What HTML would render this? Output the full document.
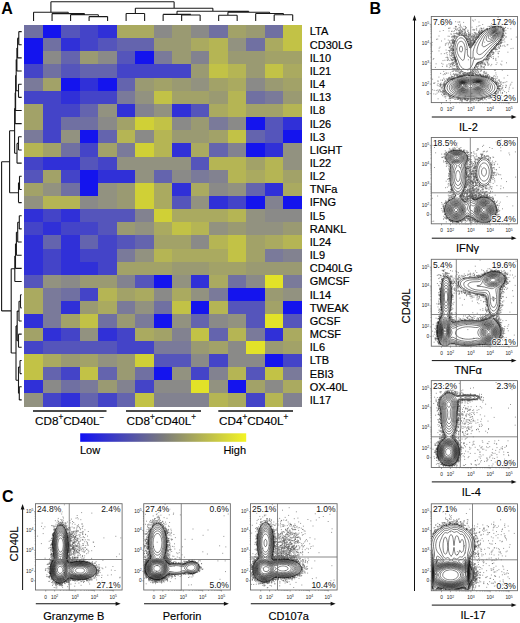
<!DOCTYPE html><html><head><meta charset="utf-8"><style>html,body{margin:0;padding:0;background:#fff;width:520px;height:623px;overflow:hidden}</style></head><body><svg width="520" height="623" viewBox="0 0 520 623" style="position:absolute;left:0;top:0">
<rect width="520" height="623" fill="#fff"/>
<g shape-rendering="crispEdges">
<rect x="24.30" y="25.00" width="18.81" height="13.46" fill="#7070a2"/>
<rect x="42.81" y="25.00" width="18.81" height="13.46" fill="#1414ee"/>
<rect x="61.32" y="25.00" width="18.81" height="13.46" fill="#5555bb"/>
<rect x="79.83" y="25.00" width="18.81" height="13.46" fill="#4444c8"/>
<rect x="98.34" y="25.00" width="18.81" height="13.46" fill="#3030d8"/>
<rect x="116.85" y="25.00" width="18.81" height="13.46" fill="#aaaa60"/>
<rect x="135.36" y="25.00" width="18.81" height="13.46" fill="#aaaa60"/>
<rect x="153.87" y="25.00" width="18.81" height="13.46" fill="#8a8a88"/>
<rect x="172.38" y="25.00" width="18.81" height="13.46" fill="#9a9a72"/>
<rect x="190.89" y="25.00" width="18.81" height="13.46" fill="#8a8a88"/>
<rect x="209.40" y="25.00" width="18.81" height="13.46" fill="#7070a2"/>
<rect x="227.91" y="25.00" width="18.81" height="13.46" fill="#a2a268"/>
<rect x="246.42" y="25.00" width="18.81" height="13.46" fill="#9a9a72"/>
<rect x="264.93" y="25.00" width="18.81" height="13.46" fill="#7070a2"/>
<rect x="283.44" y="25.00" width="18.81" height="13.46" fill="#c2c246"/>
<rect x="24.30" y="38.16" width="18.81" height="13.46" fill="#1414ee"/>
<rect x="42.81" y="38.16" width="18.81" height="13.46" fill="#7070a2"/>
<rect x="61.32" y="38.16" width="18.81" height="13.46" fill="#3030d8"/>
<rect x="79.83" y="38.16" width="18.81" height="13.46" fill="#4444c8"/>
<rect x="98.34" y="38.16" width="18.81" height="13.46" fill="#5555bb"/>
<rect x="116.85" y="38.16" width="18.81" height="13.46" fill="#6464ae"/>
<rect x="135.36" y="38.16" width="18.81" height="13.46" fill="#6464ae"/>
<rect x="153.87" y="38.16" width="18.81" height="13.46" fill="#9a9a72"/>
<rect x="172.38" y="38.16" width="18.81" height="13.46" fill="#9a9a72"/>
<rect x="190.89" y="38.16" width="18.81" height="13.46" fill="#aaaa60"/>
<rect x="209.40" y="38.16" width="18.81" height="13.46" fill="#b5b554"/>
<rect x="227.91" y="38.16" width="18.81" height="13.46" fill="#929280"/>
<rect x="246.42" y="38.16" width="18.81" height="13.46" fill="#7070a2"/>
<rect x="264.93" y="38.16" width="18.81" height="13.46" fill="#aaaa60"/>
<rect x="283.44" y="38.16" width="18.81" height="13.46" fill="#c2c246"/>
<rect x="24.30" y="51.31" width="18.81" height="13.46" fill="#1414ee"/>
<rect x="42.81" y="51.31" width="18.81" height="13.46" fill="#8a8a88"/>
<rect x="61.32" y="51.31" width="18.81" height="13.46" fill="#6464ae"/>
<rect x="79.83" y="51.31" width="18.81" height="13.46" fill="#9a9a72"/>
<rect x="98.34" y="51.31" width="18.81" height="13.46" fill="#8a8a88"/>
<rect x="116.85" y="51.31" width="18.81" height="13.46" fill="#5555bb"/>
<rect x="135.36" y="51.31" width="18.81" height="13.46" fill="#1414ee"/>
<rect x="153.87" y="51.31" width="18.81" height="13.46" fill="#7a7a9a"/>
<rect x="172.38" y="51.31" width="18.81" height="13.46" fill="#9a9a72"/>
<rect x="190.89" y="51.31" width="18.81" height="13.46" fill="#828290"/>
<rect x="209.40" y="51.31" width="18.81" height="13.46" fill="#b5b554"/>
<rect x="227.91" y="51.31" width="18.81" height="13.46" fill="#9a9a72"/>
<rect x="246.42" y="51.31" width="18.81" height="13.46" fill="#9a9a72"/>
<rect x="264.93" y="51.31" width="18.81" height="13.46" fill="#a2a268"/>
<rect x="283.44" y="51.31" width="18.81" height="13.46" fill="#a2a268"/>
<rect x="24.30" y="64.47" width="18.81" height="13.46" fill="#4444c8"/>
<rect x="42.81" y="64.47" width="18.81" height="13.46" fill="#7070a2"/>
<rect x="61.32" y="64.47" width="18.81" height="13.46" fill="#5555bb"/>
<rect x="79.83" y="64.47" width="18.81" height="13.46" fill="#6464ae"/>
<rect x="98.34" y="64.47" width="18.81" height="13.46" fill="#6464ae"/>
<rect x="116.85" y="64.47" width="18.81" height="13.46" fill="#4444c8"/>
<rect x="135.36" y="64.47" width="18.81" height="13.46" fill="#4444c8"/>
<rect x="153.87" y="64.47" width="18.81" height="13.46" fill="#4444c8"/>
<rect x="172.38" y="64.47" width="18.81" height="13.46" fill="#4444c8"/>
<rect x="190.89" y="64.47" width="18.81" height="13.46" fill="#9a9a72"/>
<rect x="209.40" y="64.47" width="18.81" height="13.46" fill="#c2c246"/>
<rect x="227.91" y="64.47" width="18.81" height="13.46" fill="#b5b554"/>
<rect x="246.42" y="64.47" width="18.81" height="13.46" fill="#9a9a72"/>
<rect x="264.93" y="64.47" width="18.81" height="13.46" fill="#c2c246"/>
<rect x="283.44" y="64.47" width="18.81" height="13.46" fill="#aaaa60"/>
<rect x="24.30" y="77.62" width="18.81" height="13.46" fill="#7a7a9a"/>
<rect x="42.81" y="77.62" width="18.81" height="13.46" fill="#a2a268"/>
<rect x="61.32" y="77.62" width="18.81" height="13.46" fill="#1414ee"/>
<rect x="79.83" y="77.62" width="18.81" height="13.46" fill="#3030d8"/>
<rect x="98.34" y="77.62" width="18.81" height="13.46" fill="#1414ee"/>
<rect x="116.85" y="77.62" width="18.81" height="13.46" fill="#6464ae"/>
<rect x="135.36" y="77.62" width="18.81" height="13.46" fill="#9a9a72"/>
<rect x="153.87" y="77.62" width="18.81" height="13.46" fill="#a2a268"/>
<rect x="172.38" y="77.62" width="18.81" height="13.46" fill="#9a9a72"/>
<rect x="190.89" y="77.62" width="18.81" height="13.46" fill="#929280"/>
<rect x="209.40" y="77.62" width="18.81" height="13.46" fill="#a2a268"/>
<rect x="227.91" y="77.62" width="18.81" height="13.46" fill="#aaaa60"/>
<rect x="246.42" y="77.62" width="18.81" height="13.46" fill="#8a8a88"/>
<rect x="264.93" y="77.62" width="18.81" height="13.46" fill="#9a9a72"/>
<rect x="283.44" y="77.62" width="18.81" height="13.46" fill="#a2a268"/>
<rect x="24.30" y="90.77" width="18.81" height="13.46" fill="#4444c8"/>
<rect x="42.81" y="90.77" width="18.81" height="13.46" fill="#4444c8"/>
<rect x="61.32" y="90.77" width="18.81" height="13.46" fill="#3030d8"/>
<rect x="79.83" y="90.77" width="18.81" height="13.46" fill="#4444c8"/>
<rect x="98.34" y="90.77" width="18.81" height="13.46" fill="#4444c8"/>
<rect x="116.85" y="90.77" width="18.81" height="13.46" fill="#7a7a9a"/>
<rect x="135.36" y="90.77" width="18.81" height="13.46" fill="#929280"/>
<rect x="153.87" y="90.77" width="18.81" height="13.46" fill="#c2c246"/>
<rect x="172.38" y="90.77" width="18.81" height="13.46" fill="#a2a268"/>
<rect x="190.89" y="90.77" width="18.81" height="13.46" fill="#a2a268"/>
<rect x="209.40" y="90.77" width="18.81" height="13.46" fill="#9a9a72"/>
<rect x="227.91" y="90.77" width="18.81" height="13.46" fill="#b5b554"/>
<rect x="246.42" y="90.77" width="18.81" height="13.46" fill="#7070a2"/>
<rect x="264.93" y="90.77" width="18.81" height="13.46" fill="#7a7a9a"/>
<rect x="283.44" y="90.77" width="18.81" height="13.46" fill="#9a9a72"/>
<rect x="24.30" y="103.93" width="18.81" height="13.46" fill="#a2a268"/>
<rect x="42.81" y="103.93" width="18.81" height="13.46" fill="#4444c8"/>
<rect x="61.32" y="103.93" width="18.81" height="13.46" fill="#4444c8"/>
<rect x="79.83" y="103.93" width="18.81" height="13.46" fill="#6464ae"/>
<rect x="98.34" y="103.93" width="18.81" height="13.46" fill="#929280"/>
<rect x="116.85" y="103.93" width="18.81" height="13.46" fill="#3030d8"/>
<rect x="135.36" y="103.93" width="18.81" height="13.46" fill="#828290"/>
<rect x="153.87" y="103.93" width="18.81" height="13.46" fill="#929280"/>
<rect x="172.38" y="103.93" width="18.81" height="13.46" fill="#3030d8"/>
<rect x="190.89" y="103.93" width="18.81" height="13.46" fill="#5555bb"/>
<rect x="209.40" y="103.93" width="18.81" height="13.46" fill="#aaaa60"/>
<rect x="227.91" y="103.93" width="18.81" height="13.46" fill="#b5b554"/>
<rect x="246.42" y="103.93" width="18.81" height="13.46" fill="#a2a268"/>
<rect x="264.93" y="103.93" width="18.81" height="13.46" fill="#a2a268"/>
<rect x="283.44" y="103.93" width="18.81" height="13.46" fill="#b5b554"/>
<rect x="24.30" y="117.08" width="18.81" height="13.46" fill="#a2a268"/>
<rect x="42.81" y="117.08" width="18.81" height="13.46" fill="#4444c8"/>
<rect x="61.32" y="117.08" width="18.81" height="13.46" fill="#7070a2"/>
<rect x="79.83" y="117.08" width="18.81" height="13.46" fill="#7070a2"/>
<rect x="98.34" y="117.08" width="18.81" height="13.46" fill="#8a8a88"/>
<rect x="116.85" y="117.08" width="18.81" height="13.46" fill="#a2a268"/>
<rect x="135.36" y="117.08" width="18.81" height="13.46" fill="#d0d036"/>
<rect x="153.87" y="117.08" width="18.81" height="13.46" fill="#c2c246"/>
<rect x="172.38" y="117.08" width="18.81" height="13.46" fill="#8a8a88"/>
<rect x="190.89" y="117.08" width="18.81" height="13.46" fill="#9a9a72"/>
<rect x="209.40" y="117.08" width="18.81" height="13.46" fill="#7a7a9a"/>
<rect x="227.91" y="117.08" width="18.81" height="13.46" fill="#8a8a88"/>
<rect x="246.42" y="117.08" width="18.81" height="13.46" fill="#1414ee"/>
<rect x="264.93" y="117.08" width="18.81" height="13.46" fill="#5555bb"/>
<rect x="283.44" y="117.08" width="18.81" height="13.46" fill="#3030d8"/>
<rect x="24.30" y="130.24" width="18.81" height="13.46" fill="#7a7a9a"/>
<rect x="42.81" y="130.24" width="18.81" height="13.46" fill="#4444c8"/>
<rect x="61.32" y="130.24" width="18.81" height="13.46" fill="#929280"/>
<rect x="79.83" y="130.24" width="18.81" height="13.46" fill="#1414ee"/>
<rect x="98.34" y="130.24" width="18.81" height="13.46" fill="#6464ae"/>
<rect x="116.85" y="130.24" width="18.81" height="13.46" fill="#b5b554"/>
<rect x="135.36" y="130.24" width="18.81" height="13.46" fill="#8a8a88"/>
<rect x="153.87" y="130.24" width="18.81" height="13.46" fill="#b5b554"/>
<rect x="172.38" y="130.24" width="18.81" height="13.46" fill="#9a9a72"/>
<rect x="190.89" y="130.24" width="18.81" height="13.46" fill="#9a9a72"/>
<rect x="209.40" y="130.24" width="18.81" height="13.46" fill="#a2a268"/>
<rect x="227.91" y="130.24" width="18.81" height="13.46" fill="#c2c246"/>
<rect x="246.42" y="130.24" width="18.81" height="13.46" fill="#6464ae"/>
<rect x="264.93" y="130.24" width="18.81" height="13.46" fill="#5555bb"/>
<rect x="283.44" y="130.24" width="18.81" height="13.46" fill="#1414ee"/>
<rect x="24.30" y="143.39" width="18.81" height="13.46" fill="#b5b554"/>
<rect x="42.81" y="143.39" width="18.81" height="13.46" fill="#a2a268"/>
<rect x="61.32" y="143.39" width="18.81" height="13.46" fill="#7070a2"/>
<rect x="79.83" y="143.39" width="18.81" height="13.46" fill="#4444c8"/>
<rect x="98.34" y="143.39" width="18.81" height="13.46" fill="#a2a268"/>
<rect x="116.85" y="143.39" width="18.81" height="13.46" fill="#7a7a9a"/>
<rect x="135.36" y="143.39" width="18.81" height="13.46" fill="#d0d036"/>
<rect x="153.87" y="143.39" width="18.81" height="13.46" fill="#b5b554"/>
<rect x="172.38" y="143.39" width="18.81" height="13.46" fill="#3030d8"/>
<rect x="190.89" y="143.39" width="18.81" height="13.46" fill="#aaaa60"/>
<rect x="209.40" y="143.39" width="18.81" height="13.46" fill="#6464ae"/>
<rect x="227.91" y="143.39" width="18.81" height="13.46" fill="#828290"/>
<rect x="246.42" y="143.39" width="18.81" height="13.46" fill="#1414ee"/>
<rect x="264.93" y="143.39" width="18.81" height="13.46" fill="#3030d8"/>
<rect x="283.44" y="143.39" width="18.81" height="13.46" fill="#929280"/>
<rect x="24.30" y="156.55" width="18.81" height="13.46" fill="#4444c8"/>
<rect x="42.81" y="156.55" width="18.81" height="13.46" fill="#3030d8"/>
<rect x="61.32" y="156.55" width="18.81" height="13.46" fill="#3030d8"/>
<rect x="79.83" y="156.55" width="18.81" height="13.46" fill="#5555bb"/>
<rect x="98.34" y="156.55" width="18.81" height="13.46" fill="#4444c8"/>
<rect x="116.85" y="156.55" width="18.81" height="13.46" fill="#929280"/>
<rect x="135.36" y="156.55" width="18.81" height="13.46" fill="#929280"/>
<rect x="153.87" y="156.55" width="18.81" height="13.46" fill="#929280"/>
<rect x="172.38" y="156.55" width="18.81" height="13.46" fill="#929280"/>
<rect x="190.89" y="156.55" width="18.81" height="13.46" fill="#5555bb"/>
<rect x="209.40" y="156.55" width="18.81" height="13.46" fill="#b5b554"/>
<rect x="227.91" y="156.55" width="18.81" height="13.46" fill="#b5b554"/>
<rect x="246.42" y="156.55" width="18.81" height="13.46" fill="#a2a268"/>
<rect x="264.93" y="156.55" width="18.81" height="13.46" fill="#b5b554"/>
<rect x="283.44" y="156.55" width="18.81" height="13.46" fill="#929280"/>
<rect x="24.30" y="169.70" width="18.81" height="13.46" fill="#5555bb"/>
<rect x="42.81" y="169.70" width="18.81" height="13.46" fill="#a2a268"/>
<rect x="61.32" y="169.70" width="18.81" height="13.46" fill="#4444c8"/>
<rect x="79.83" y="169.70" width="18.81" height="13.46" fill="#1414ee"/>
<rect x="98.34" y="169.70" width="18.81" height="13.46" fill="#3030d8"/>
<rect x="116.85" y="169.70" width="18.81" height="13.46" fill="#3030d8"/>
<rect x="135.36" y="169.70" width="18.81" height="13.46" fill="#929280"/>
<rect x="153.87" y="169.70" width="18.81" height="13.46" fill="#6464ae"/>
<rect x="172.38" y="169.70" width="18.81" height="13.46" fill="#8a8a88"/>
<rect x="190.89" y="169.70" width="18.81" height="13.46" fill="#7a7a9a"/>
<rect x="209.40" y="169.70" width="18.81" height="13.46" fill="#828290"/>
<rect x="227.91" y="169.70" width="18.81" height="13.46" fill="#b5b554"/>
<rect x="246.42" y="169.70" width="18.81" height="13.46" fill="#aaaa60"/>
<rect x="264.93" y="169.70" width="18.81" height="13.46" fill="#b5b554"/>
<rect x="283.44" y="169.70" width="18.81" height="13.46" fill="#a2a268"/>
<rect x="24.30" y="182.86" width="18.81" height="13.46" fill="#a2a268"/>
<rect x="42.81" y="182.86" width="18.81" height="13.46" fill="#929280"/>
<rect x="61.32" y="182.86" width="18.81" height="13.46" fill="#7070a2"/>
<rect x="79.83" y="182.86" width="18.81" height="13.46" fill="#1414ee"/>
<rect x="98.34" y="182.86" width="18.81" height="13.46" fill="#929280"/>
<rect x="116.85" y="182.86" width="18.81" height="13.46" fill="#9a9a72"/>
<rect x="135.36" y="182.86" width="18.81" height="13.46" fill="#d0d036"/>
<rect x="153.87" y="182.86" width="18.81" height="13.46" fill="#aaaa60"/>
<rect x="172.38" y="182.86" width="18.81" height="13.46" fill="#3030d8"/>
<rect x="190.89" y="182.86" width="18.81" height="13.46" fill="#aaaa60"/>
<rect x="209.40" y="182.86" width="18.81" height="13.46" fill="#8a8a88"/>
<rect x="227.91" y="182.86" width="18.81" height="13.46" fill="#929280"/>
<rect x="246.42" y="182.86" width="18.81" height="13.46" fill="#6464ae"/>
<rect x="264.93" y="182.86" width="18.81" height="13.46" fill="#3030d8"/>
<rect x="283.44" y="182.86" width="18.81" height="13.46" fill="#aaaa60"/>
<rect x="24.30" y="196.01" width="18.81" height="13.46" fill="#929280"/>
<rect x="42.81" y="196.01" width="18.81" height="13.46" fill="#b5b554"/>
<rect x="61.32" y="196.01" width="18.81" height="13.46" fill="#b5b554"/>
<rect x="79.83" y="196.01" width="18.81" height="13.46" fill="#8a8a88"/>
<rect x="98.34" y="196.01" width="18.81" height="13.46" fill="#929280"/>
<rect x="116.85" y="196.01" width="18.81" height="13.46" fill="#9a9a72"/>
<rect x="135.36" y="196.01" width="18.81" height="13.46" fill="#d0d036"/>
<rect x="153.87" y="196.01" width="18.81" height="13.46" fill="#aaaa60"/>
<rect x="172.38" y="196.01" width="18.81" height="13.46" fill="#5555bb"/>
<rect x="190.89" y="196.01" width="18.81" height="13.46" fill="#929280"/>
<rect x="209.40" y="196.01" width="18.81" height="13.46" fill="#3030d8"/>
<rect x="227.91" y="196.01" width="18.81" height="13.46" fill="#4444c8"/>
<rect x="246.42" y="196.01" width="18.81" height="13.46" fill="#1414ee"/>
<rect x="264.93" y="196.01" width="18.81" height="13.46" fill="#828290"/>
<rect x="283.44" y="196.01" width="18.81" height="13.46" fill="#1414ee"/>
<rect x="24.30" y="209.17" width="18.81" height="13.46" fill="#3030d8"/>
<rect x="42.81" y="209.17" width="18.81" height="13.46" fill="#4444c8"/>
<rect x="61.32" y="209.17" width="18.81" height="13.46" fill="#3030d8"/>
<rect x="79.83" y="209.17" width="18.81" height="13.46" fill="#5555bb"/>
<rect x="98.34" y="209.17" width="18.81" height="13.46" fill="#5555bb"/>
<rect x="116.85" y="209.17" width="18.81" height="13.46" fill="#5555bb"/>
<rect x="135.36" y="209.17" width="18.81" height="13.46" fill="#828290"/>
<rect x="153.87" y="209.17" width="18.81" height="13.46" fill="#d0d036"/>
<rect x="172.38" y="209.17" width="18.81" height="13.46" fill="#aaaa60"/>
<rect x="190.89" y="209.17" width="18.81" height="13.46" fill="#aaaa60"/>
<rect x="209.40" y="209.17" width="18.81" height="13.46" fill="#aaaa60"/>
<rect x="227.91" y="209.17" width="18.81" height="13.46" fill="#b5b554"/>
<rect x="246.42" y="209.17" width="18.81" height="13.46" fill="#929280"/>
<rect x="264.93" y="209.17" width="18.81" height="13.46" fill="#8a8a88"/>
<rect x="283.44" y="209.17" width="18.81" height="13.46" fill="#8a8a88"/>
<rect x="24.30" y="222.32" width="18.81" height="13.46" fill="#4444c8"/>
<rect x="42.81" y="222.32" width="18.81" height="13.46" fill="#3030d8"/>
<rect x="61.32" y="222.32" width="18.81" height="13.46" fill="#4444c8"/>
<rect x="79.83" y="222.32" width="18.81" height="13.46" fill="#4444c8"/>
<rect x="98.34" y="222.32" width="18.81" height="13.46" fill="#5555bb"/>
<rect x="116.85" y="222.32" width="18.81" height="13.46" fill="#9a9a72"/>
<rect x="135.36" y="222.32" width="18.81" height="13.46" fill="#929280"/>
<rect x="153.87" y="222.32" width="18.81" height="13.46" fill="#aaaa60"/>
<rect x="172.38" y="222.32" width="18.81" height="13.46" fill="#c2c246"/>
<rect x="190.89" y="222.32" width="18.81" height="13.46" fill="#b5b554"/>
<rect x="209.40" y="222.32" width="18.81" height="13.46" fill="#929280"/>
<rect x="227.91" y="222.32" width="18.81" height="13.46" fill="#9a9a72"/>
<rect x="246.42" y="222.32" width="18.81" height="13.46" fill="#929280"/>
<rect x="264.93" y="222.32" width="18.81" height="13.46" fill="#929280"/>
<rect x="283.44" y="222.32" width="18.81" height="13.46" fill="#9a9a72"/>
<rect x="24.30" y="235.48" width="18.81" height="13.46" fill="#3030d8"/>
<rect x="42.81" y="235.48" width="18.81" height="13.46" fill="#6464ae"/>
<rect x="61.32" y="235.48" width="18.81" height="13.46" fill="#3030d8"/>
<rect x="79.83" y="235.48" width="18.81" height="13.46" fill="#6464ae"/>
<rect x="98.34" y="235.48" width="18.81" height="13.46" fill="#4444c8"/>
<rect x="116.85" y="235.48" width="18.81" height="13.46" fill="#5555bb"/>
<rect x="135.36" y="235.48" width="18.81" height="13.46" fill="#6464ae"/>
<rect x="153.87" y="235.48" width="18.81" height="13.46" fill="#a2a268"/>
<rect x="172.38" y="235.48" width="18.81" height="13.46" fill="#a2a268"/>
<rect x="190.89" y="235.48" width="18.81" height="13.46" fill="#8a8a88"/>
<rect x="209.40" y="235.48" width="18.81" height="13.46" fill="#b5b554"/>
<rect x="227.91" y="235.48" width="18.81" height="13.46" fill="#c2c246"/>
<rect x="246.42" y="235.48" width="18.81" height="13.46" fill="#a2a268"/>
<rect x="264.93" y="235.48" width="18.81" height="13.46" fill="#aaaa60"/>
<rect x="283.44" y="235.48" width="18.81" height="13.46" fill="#b5b554"/>
<rect x="24.30" y="248.63" width="18.81" height="13.46" fill="#3030d8"/>
<rect x="42.81" y="248.63" width="18.81" height="13.46" fill="#4444c8"/>
<rect x="61.32" y="248.63" width="18.81" height="13.46" fill="#3030d8"/>
<rect x="79.83" y="248.63" width="18.81" height="13.46" fill="#4444c8"/>
<rect x="98.34" y="248.63" width="18.81" height="13.46" fill="#4444c8"/>
<rect x="116.85" y="248.63" width="18.81" height="13.46" fill="#7a7a9a"/>
<rect x="135.36" y="248.63" width="18.81" height="13.46" fill="#929280"/>
<rect x="153.87" y="248.63" width="18.81" height="13.46" fill="#b5b554"/>
<rect x="172.38" y="248.63" width="18.81" height="13.46" fill="#aaaa60"/>
<rect x="190.89" y="248.63" width="18.81" height="13.46" fill="#aaaa60"/>
<rect x="209.40" y="248.63" width="18.81" height="13.46" fill="#aaaa60"/>
<rect x="227.91" y="248.63" width="18.81" height="13.46" fill="#c2c246"/>
<rect x="246.42" y="248.63" width="18.81" height="13.46" fill="#a2a268"/>
<rect x="264.93" y="248.63" width="18.81" height="13.46" fill="#7a7a9a"/>
<rect x="283.44" y="248.63" width="18.81" height="13.46" fill="#828290"/>
<rect x="24.30" y="261.79" width="18.81" height="13.46" fill="#3030d8"/>
<rect x="42.81" y="261.79" width="18.81" height="13.46" fill="#4444c8"/>
<rect x="61.32" y="261.79" width="18.81" height="13.46" fill="#3030d8"/>
<rect x="79.83" y="261.79" width="18.81" height="13.46" fill="#3030d8"/>
<rect x="98.34" y="261.79" width="18.81" height="13.46" fill="#4444c8"/>
<rect x="116.85" y="261.79" width="18.81" height="13.46" fill="#a2a268"/>
<rect x="135.36" y="261.79" width="18.81" height="13.46" fill="#a2a268"/>
<rect x="153.87" y="261.79" width="18.81" height="13.46" fill="#a2a268"/>
<rect x="172.38" y="261.79" width="18.81" height="13.46" fill="#9a9a72"/>
<rect x="190.89" y="261.79" width="18.81" height="13.46" fill="#9a9a72"/>
<rect x="209.40" y="261.79" width="18.81" height="13.46" fill="#a2a268"/>
<rect x="227.91" y="261.79" width="18.81" height="13.46" fill="#a2a268"/>
<rect x="246.42" y="261.79" width="18.81" height="13.46" fill="#9a9a72"/>
<rect x="264.93" y="261.79" width="18.81" height="13.46" fill="#9a9a72"/>
<rect x="283.44" y="261.79" width="18.81" height="13.46" fill="#9a9a72"/>
<rect x="24.30" y="274.94" width="18.81" height="13.46" fill="#5555bb"/>
<rect x="42.81" y="274.94" width="18.81" height="13.46" fill="#929280"/>
<rect x="61.32" y="274.94" width="18.81" height="13.46" fill="#8a8a88"/>
<rect x="79.83" y="274.94" width="18.81" height="13.46" fill="#9a9a72"/>
<rect x="98.34" y="274.94" width="18.81" height="13.46" fill="#9a9a72"/>
<rect x="116.85" y="274.94" width="18.81" height="13.46" fill="#828290"/>
<rect x="135.36" y="274.94" width="18.81" height="13.46" fill="#5555bb"/>
<rect x="153.87" y="274.94" width="18.81" height="13.46" fill="#1414ee"/>
<rect x="172.38" y="274.94" width="18.81" height="13.46" fill="#929280"/>
<rect x="190.89" y="274.94" width="18.81" height="13.46" fill="#3030d8"/>
<rect x="209.40" y="274.94" width="18.81" height="13.46" fill="#aaaa60"/>
<rect x="227.91" y="274.94" width="18.81" height="13.46" fill="#7070a2"/>
<rect x="246.42" y="274.94" width="18.81" height="13.46" fill="#8a8a88"/>
<rect x="264.93" y="274.94" width="18.81" height="13.46" fill="#e2e228"/>
<rect x="283.44" y="274.94" width="18.81" height="13.46" fill="#7a7a9a"/>
<rect x="24.30" y="288.10" width="18.81" height="13.46" fill="#aaaa60"/>
<rect x="42.81" y="288.10" width="18.81" height="13.46" fill="#7a7a9a"/>
<rect x="61.32" y="288.10" width="18.81" height="13.46" fill="#7070a2"/>
<rect x="79.83" y="288.10" width="18.81" height="13.46" fill="#4444c8"/>
<rect x="98.34" y="288.10" width="18.81" height="13.46" fill="#b5b554"/>
<rect x="116.85" y="288.10" width="18.81" height="13.46" fill="#a2a268"/>
<rect x="135.36" y="288.10" width="18.81" height="13.46" fill="#aaaa60"/>
<rect x="153.87" y="288.10" width="18.81" height="13.46" fill="#8a8a88"/>
<rect x="172.38" y="288.10" width="18.81" height="13.46" fill="#aaaa60"/>
<rect x="190.89" y="288.10" width="18.81" height="13.46" fill="#929280"/>
<rect x="209.40" y="288.10" width="18.81" height="13.46" fill="#7a7a9a"/>
<rect x="227.91" y="288.10" width="18.81" height="13.46" fill="#1414ee"/>
<rect x="246.42" y="288.10" width="18.81" height="13.46" fill="#1414ee"/>
<rect x="264.93" y="288.10" width="18.81" height="13.46" fill="#9a9a72"/>
<rect x="283.44" y="288.10" width="18.81" height="13.46" fill="#929280"/>
<rect x="24.30" y="301.25" width="18.81" height="13.46" fill="#aaaa60"/>
<rect x="42.81" y="301.25" width="18.81" height="13.46" fill="#7a7a9a"/>
<rect x="61.32" y="301.25" width="18.81" height="13.46" fill="#3030d8"/>
<rect x="79.83" y="301.25" width="18.81" height="13.46" fill="#9a9a72"/>
<rect x="98.34" y="301.25" width="18.81" height="13.46" fill="#aaaa60"/>
<rect x="116.85" y="301.25" width="18.81" height="13.46" fill="#7a7a9a"/>
<rect x="135.36" y="301.25" width="18.81" height="13.46" fill="#929280"/>
<rect x="153.87" y="301.25" width="18.81" height="13.46" fill="#7070a2"/>
<rect x="172.38" y="301.25" width="18.81" height="13.46" fill="#c2c246"/>
<rect x="190.89" y="301.25" width="18.81" height="13.46" fill="#1414ee"/>
<rect x="209.40" y="301.25" width="18.81" height="13.46" fill="#b5b554"/>
<rect x="227.91" y="301.25" width="18.81" height="13.46" fill="#5555bb"/>
<rect x="246.42" y="301.25" width="18.81" height="13.46" fill="#5555bb"/>
<rect x="264.93" y="301.25" width="18.81" height="13.46" fill="#a2a268"/>
<rect x="283.44" y="301.25" width="18.81" height="13.46" fill="#1414ee"/>
<rect x="24.30" y="314.41" width="18.81" height="13.46" fill="#3030d8"/>
<rect x="42.81" y="314.41" width="18.81" height="13.46" fill="#7a7a9a"/>
<rect x="61.32" y="314.41" width="18.81" height="13.46" fill="#a2a268"/>
<rect x="79.83" y="314.41" width="18.81" height="13.46" fill="#c2c246"/>
<rect x="98.34" y="314.41" width="18.81" height="13.46" fill="#7070a2"/>
<rect x="116.85" y="314.41" width="18.81" height="13.46" fill="#9a9a72"/>
<rect x="135.36" y="314.41" width="18.81" height="13.46" fill="#7a7a9a"/>
<rect x="153.87" y="314.41" width="18.81" height="13.46" fill="#1414ee"/>
<rect x="172.38" y="314.41" width="18.81" height="13.46" fill="#929280"/>
<rect x="190.89" y="314.41" width="18.81" height="13.46" fill="#6464ae"/>
<rect x="209.40" y="314.41" width="18.81" height="13.46" fill="#8a8a88"/>
<rect x="227.91" y="314.41" width="18.81" height="13.46" fill="#929280"/>
<rect x="246.42" y="314.41" width="18.81" height="13.46" fill="#5555bb"/>
<rect x="264.93" y="314.41" width="18.81" height="13.46" fill="#e2e228"/>
<rect x="283.44" y="314.41" width="18.81" height="13.46" fill="#5555bb"/>
<rect x="24.30" y="327.56" width="18.81" height="13.46" fill="#a2a268"/>
<rect x="42.81" y="327.56" width="18.81" height="13.46" fill="#3030d8"/>
<rect x="61.32" y="327.56" width="18.81" height="13.46" fill="#4444c8"/>
<rect x="79.83" y="327.56" width="18.81" height="13.46" fill="#929280"/>
<rect x="98.34" y="327.56" width="18.81" height="13.46" fill="#3030d8"/>
<rect x="116.85" y="327.56" width="18.81" height="13.46" fill="#4444c8"/>
<rect x="135.36" y="327.56" width="18.81" height="13.46" fill="#aaaa60"/>
<rect x="153.87" y="327.56" width="18.81" height="13.46" fill="#a2a268"/>
<rect x="172.38" y="327.56" width="18.81" height="13.46" fill="#828290"/>
<rect x="190.89" y="327.56" width="18.81" height="13.46" fill="#c2c246"/>
<rect x="209.40" y="327.56" width="18.81" height="13.46" fill="#6464ae"/>
<rect x="227.91" y="327.56" width="18.81" height="13.46" fill="#b5b554"/>
<rect x="246.42" y="327.56" width="18.81" height="13.46" fill="#7a7a9a"/>
<rect x="264.93" y="327.56" width="18.81" height="13.46" fill="#3030d8"/>
<rect x="283.44" y="327.56" width="18.81" height="13.46" fill="#aaaa60"/>
<rect x="24.30" y="340.72" width="18.81" height="13.46" fill="#4444c8"/>
<rect x="42.81" y="340.72" width="18.81" height="13.46" fill="#5555bb"/>
<rect x="61.32" y="340.72" width="18.81" height="13.46" fill="#5555bb"/>
<rect x="79.83" y="340.72" width="18.81" height="13.46" fill="#5555bb"/>
<rect x="98.34" y="340.72" width="18.81" height="13.46" fill="#5555bb"/>
<rect x="116.85" y="340.72" width="18.81" height="13.46" fill="#4444c8"/>
<rect x="135.36" y="340.72" width="18.81" height="13.46" fill="#4444c8"/>
<rect x="153.87" y="340.72" width="18.81" height="13.46" fill="#7a7a9a"/>
<rect x="172.38" y="340.72" width="18.81" height="13.46" fill="#7a7a9a"/>
<rect x="190.89" y="340.72" width="18.81" height="13.46" fill="#9a9a72"/>
<rect x="209.40" y="340.72" width="18.81" height="13.46" fill="#a2a268"/>
<rect x="227.91" y="340.72" width="18.81" height="13.46" fill="#8a8a88"/>
<rect x="246.42" y="340.72" width="18.81" height="13.46" fill="#e2e228"/>
<rect x="264.93" y="340.72" width="18.81" height="13.46" fill="#9a9a72"/>
<rect x="283.44" y="340.72" width="18.81" height="13.46" fill="#a2a268"/>
<rect x="24.30" y="353.88" width="18.81" height="13.46" fill="#c2c246"/>
<rect x="42.81" y="353.88" width="18.81" height="13.46" fill="#aaaa60"/>
<rect x="61.32" y="353.88" width="18.81" height="13.46" fill="#9a9a72"/>
<rect x="79.83" y="353.88" width="18.81" height="13.46" fill="#a2a268"/>
<rect x="98.34" y="353.88" width="18.81" height="13.46" fill="#929280"/>
<rect x="116.85" y="353.88" width="18.81" height="13.46" fill="#9a9a72"/>
<rect x="135.36" y="353.88" width="18.81" height="13.46" fill="#d0d036"/>
<rect x="153.87" y="353.88" width="18.81" height="13.46" fill="#5555bb"/>
<rect x="172.38" y="353.88" width="18.81" height="13.46" fill="#5555bb"/>
<rect x="190.89" y="353.88" width="18.81" height="13.46" fill="#8a8a88"/>
<rect x="209.40" y="353.88" width="18.81" height="13.46" fill="#4444c8"/>
<rect x="227.91" y="353.88" width="18.81" height="13.46" fill="#8a8a88"/>
<rect x="246.42" y="353.88" width="18.81" height="13.46" fill="#8a8a88"/>
<rect x="264.93" y="353.88" width="18.81" height="13.46" fill="#1414ee"/>
<rect x="283.44" y="353.88" width="18.81" height="13.46" fill="#4444c8"/>
<rect x="24.30" y="367.03" width="18.81" height="13.46" fill="#c2c246"/>
<rect x="42.81" y="367.03" width="18.81" height="13.46" fill="#6464ae"/>
<rect x="61.32" y="367.03" width="18.81" height="13.46" fill="#4444c8"/>
<rect x="79.83" y="367.03" width="18.81" height="13.46" fill="#c2c246"/>
<rect x="98.34" y="367.03" width="18.81" height="13.46" fill="#6464ae"/>
<rect x="116.85" y="367.03" width="18.81" height="13.46" fill="#9a9a72"/>
<rect x="135.36" y="367.03" width="18.81" height="13.46" fill="#7070a2"/>
<rect x="153.87" y="367.03" width="18.81" height="13.46" fill="#1414ee"/>
<rect x="172.38" y="367.03" width="18.81" height="13.46" fill="#929280"/>
<rect x="190.89" y="367.03" width="18.81" height="13.46" fill="#4444c8"/>
<rect x="209.40" y="367.03" width="18.81" height="13.46" fill="#828290"/>
<rect x="227.91" y="367.03" width="18.81" height="13.46" fill="#b5b554"/>
<rect x="246.42" y="367.03" width="18.81" height="13.46" fill="#5555bb"/>
<rect x="264.93" y="367.03" width="18.81" height="13.46" fill="#c2c246"/>
<rect x="283.44" y="367.03" width="18.81" height="13.46" fill="#7a7a9a"/>
<rect x="24.30" y="380.19" width="18.81" height="13.46" fill="#3030d8"/>
<rect x="42.81" y="380.19" width="18.81" height="13.46" fill="#8a8a88"/>
<rect x="61.32" y="380.19" width="18.81" height="13.46" fill="#7070a2"/>
<rect x="79.83" y="380.19" width="18.81" height="13.46" fill="#7a7a9a"/>
<rect x="98.34" y="380.19" width="18.81" height="13.46" fill="#9a9a72"/>
<rect x="116.85" y="380.19" width="18.81" height="13.46" fill="#828290"/>
<rect x="135.36" y="380.19" width="18.81" height="13.46" fill="#4444c8"/>
<rect x="153.87" y="380.19" width="18.81" height="13.46" fill="#8a8a88"/>
<rect x="172.38" y="380.19" width="18.81" height="13.46" fill="#8a8a88"/>
<rect x="190.89" y="380.19" width="18.81" height="13.46" fill="#e2e228"/>
<rect x="209.40" y="380.19" width="18.81" height="13.46" fill="#929280"/>
<rect x="227.91" y="380.19" width="18.81" height="13.46" fill="#1414ee"/>
<rect x="246.42" y="380.19" width="18.81" height="13.46" fill="#a2a268"/>
<rect x="264.93" y="380.19" width="18.81" height="13.46" fill="#8a8a88"/>
<rect x="283.44" y="380.19" width="18.81" height="13.46" fill="#aaaa60"/>
<rect x="24.30" y="393.34" width="18.81" height="13.46" fill="#929280"/>
<rect x="42.81" y="393.34" width="18.81" height="13.46" fill="#4444c8"/>
<rect x="61.32" y="393.34" width="18.81" height="13.46" fill="#3030d8"/>
<rect x="79.83" y="393.34" width="18.81" height="13.46" fill="#6464ae"/>
<rect x="98.34" y="393.34" width="18.81" height="13.46" fill="#4444c8"/>
<rect x="116.85" y="393.34" width="18.81" height="13.46" fill="#6464ae"/>
<rect x="135.36" y="393.34" width="18.81" height="13.46" fill="#c2c246"/>
<rect x="153.87" y="393.34" width="18.81" height="13.46" fill="#828290"/>
<rect x="172.38" y="393.34" width="18.81" height="13.46" fill="#828290"/>
<rect x="190.89" y="393.34" width="18.81" height="13.46" fill="#828290"/>
<rect x="209.40" y="393.34" width="18.81" height="13.46" fill="#b5b554"/>
<rect x="227.91" y="393.34" width="18.81" height="13.46" fill="#aaaa60"/>
<rect x="246.42" y="393.34" width="18.81" height="13.46" fill="#4444c8"/>
<rect x="264.93" y="393.34" width="18.81" height="13.46" fill="#b5b554"/>
<rect x="283.44" y="393.34" width="18.81" height="13.46" fill="#828290"/>
</g>
<g font-family="'Liberation Sans', sans-serif" font-size="11" fill="#000" stroke="#000" stroke-width="0.2">
<text x="309.8" y="35.48">LTA</text>
<text x="309.8" y="48.63">CD30LG</text>
<text x="309.8" y="61.79">IL10</text>
<text x="309.8" y="74.94">IL21</text>
<text x="309.8" y="88.10">IL4</text>
<text x="309.8" y="101.25">IL13</text>
<text x="309.8" y="114.41">IL8</text>
<text x="309.8" y="127.56">IL26</text>
<text x="309.8" y="140.72">IL3</text>
<text x="309.8" y="153.87">LIGHT</text>
<text x="309.8" y="167.03">IL22</text>
<text x="309.8" y="180.18">IL2</text>
<text x="309.8" y="193.34">TNFa</text>
<text x="309.8" y="206.49">IFNG</text>
<text x="309.8" y="219.65">IL5</text>
<text x="309.8" y="232.80">RANKL</text>
<text x="309.8" y="245.96">IL24</text>
<text x="309.8" y="259.11">IL9</text>
<text x="309.8" y="272.27">CD40LG</text>
<text x="309.8" y="285.42">GMCSF</text>
<text x="309.8" y="298.58">IL14</text>
<text x="309.8" y="311.73">TWEAK</text>
<text x="309.8" y="324.89">GCSF</text>
<text x="309.8" y="338.04">MCSF</text>
<text x="309.8" y="351.20">IL6</text>
<text x="309.8" y="364.35">LTB</text>
<text x="309.8" y="377.51">EBI3</text>
<text x="309.8" y="390.66">OX-40L</text>
<text x="309.8" y="403.82">IL17</text>
</g>
<path fill="none" stroke="#1a1a1a" stroke-width="1.1" d="M89.09 21.00V16.60M107.59 21.00V16.60M89.09 16.60H107.59M70.58 21.00V14.80M98.34 16.60V14.80M70.58 14.80H98.34M52.06 21.00V13.60M84.46 14.80V13.60M52.06 13.60H84.46M33.55 21.00V12.30M68.26 13.60V12.30M33.55 12.30H68.26M126.11 21.00V13.50M144.62 21.00V13.50M126.11 13.50H144.62M181.64 21.00V15.00M200.15 21.00V15.00M181.64 15.00H200.15M163.13 21.00V14.40M190.89 15.00V14.40M163.13 14.40H190.89M218.66 21.00V15.30M237.17 21.00V15.30M218.66 15.30H237.17M274.19 21.00V14.80M292.70 21.00V14.80M274.19 14.80H292.70M255.68 21.00V13.50M283.44 14.80V13.50M255.68 13.50H283.44M227.91 15.30V12.20M269.56 13.50V12.20M227.91 12.20H269.56M177.01 14.40V11.30M248.73 12.20V11.30M177.01 11.30H248.73M135.36 13.50V8.30M212.87 11.30V8.30M135.36 8.30H212.87M50.91 12.30V1.80M174.12 8.30V1.80M50.91 1.80H174.12"/>
<path fill="none" stroke="#1a1a1a" stroke-width="1.1" d="M21.70 31.58H18.80M21.70 44.73H18.80M18.80 31.58V44.73M18.80 38.16H17.60M21.70 57.89H17.60M17.60 38.16V57.89M17.60 48.02H16.90M21.70 71.04H16.90M16.90 48.02V71.04M21.70 84.20H18.50M21.70 97.35H18.50M18.50 84.20V97.35M16.90 59.53H16.20M18.50 90.77H16.20M16.20 59.53V90.77M16.20 75.15H15.60M21.70 110.51H15.60M15.60 75.15V110.51M15.60 92.83H15.20M21.70 123.66H15.20M15.20 92.83V123.66M21.70 136.82H18.50M21.70 149.97H18.50M18.50 136.82V149.97M18.50 143.39H17.00M21.70 163.13H17.00M17.00 143.39V163.13M15.20 108.25H14.60M17.00 153.26H14.60M14.60 108.25V153.26M21.70 176.28H19.50M21.70 189.44H19.50M19.50 176.28V189.44M19.50 182.86H18.50M21.70 202.59H18.50M18.50 182.86V202.59M14.60 130.75H9.60M18.50 192.73H9.60M9.60 130.75V192.73M21.70 215.75H19.30M21.70 228.90H19.30M19.30 215.75V228.90M19.30 222.32H17.70M21.70 242.06H17.70M17.70 222.32V242.06M17.70 232.19H16.40M21.70 255.21H16.40M16.40 232.19V255.21M16.40 243.70H15.50M21.70 268.37H15.50M15.50 243.70V268.37M15.50 256.03H14.80M21.70 281.52H14.80M14.80 256.03V281.52M21.70 294.68H20.50M21.70 307.83H20.50M20.50 294.68V307.83M20.50 301.25H19.00M21.70 320.99H19.00M19.00 301.25V320.99M21.70 334.14H18.50M21.70 347.30H18.50M18.50 334.14V347.30M19.00 311.12H17.20M18.50 340.72H17.20M17.20 311.12V340.72M21.70 360.45H20.00M21.70 373.61H20.00M20.00 360.45V373.61M21.70 386.76H19.30M21.70 399.92H19.30M19.30 386.76V399.92M20.00 367.03H18.50M19.30 393.34H18.50M18.50 367.03V393.34M17.20 325.92H16.00M18.50 380.18H16.00M16.00 325.92V380.18M14.80 268.78H11.20M16.00 353.05H11.20M11.20 268.78V353.05M9.60 161.74H1.60M11.20 310.92H1.60M1.60 161.74V310.92"/>
<g stroke="#111" stroke-width="1.3">
<line x1="33" y1="411" x2="106.5" y2="411"/>
<line x1="126" y1="411" x2="201" y2="411"/>
<line x1="218.3" y1="411" x2="293" y2="411"/>
</g>
<text x="35" y="424.5" font-family="'Liberation Sans', sans-serif" font-size="11.7" fill="#000" stroke="#000" stroke-width="0.15">CD8<tspan font-size="8.19" dy="-4.6">+</tspan><tspan dy="4.6">CD40L</tspan><tspan font-size="8.19" dy="-4.6">−</tspan></text>
<text x="126.6" y="424.5" font-family="'Liberation Sans', sans-serif" font-size="11.7" fill="#000" stroke="#000" stroke-width="0.15">CD8<tspan font-size="8.19" dy="-4.6">+</tspan><tspan dy="4.6">CD40L</tspan><tspan font-size="8.19" dy="-4.6">+</tspan></text>
<text x="219.0" y="424.5" font-family="'Liberation Sans', sans-serif" font-size="11.7" fill="#000" stroke="#000" stroke-width="0.15">CD4<tspan font-size="8.19" dy="-4.6">+</tspan><tspan dy="4.6">CD40L</tspan><tspan font-size="8.19" dy="-4.6">+</tspan></text>
<defs><linearGradient id="ck" x1="0" x2="1" y1="0" y2="0"><stop offset="0" stop-color="#1010f4"/><stop offset="0.5" stop-color="#7a7a7c"/><stop offset="1" stop-color="#f4f424"/></linearGradient></defs>
<rect x="80.2" y="433.3" width="166" height="8.5" fill="url(#ck)"/>
<text x="80" y="454.2" font-family="'Liberation Sans', sans-serif" font-size="11" fill="#000" stroke="#000" stroke-width="0.15">Low</text>
<text x="246" y="454.2" font-family="'Liberation Sans', sans-serif" font-size="11" fill="#000" stroke="#000" stroke-width="0.15" text-anchor="end">High</text>
<text x="1.2" y="13.8" font-family="'Liberation Sans', sans-serif" font-size="16" font-weight="bold" fill="#000">A</text>
<text x="369.6" y="13.9" font-family="'Liberation Sans', sans-serif" font-size="16" font-weight="bold" fill="#000">B</text>
<text x="2.0" y="502.0" font-family="'Liberation Sans', sans-serif" font-size="16" font-weight="bold" fill="#000">C</text>
<path transform="scale(.1)" stroke="#5a5a5a" stroke-width="6.2" stroke-linecap="square" d="M4981 176h0m-644 23h0m10 9h0m209 9h0m23 4h0m13 0h0m6-2h0m38 5h0m91-22h0m9 9h0m16-13h0m38 22h0m261-6h0m-630 39h0m32-17h0m60 5h0m72 6h0m16 7h0m3-12h0m223 3h0m84 7h0m6-17h0m20 17h0m11 1h0m4-6h0m5 1h0m2 1h0m1-6h0m2 3h0m8 8h0m4-3h0m3-1h0m6-20h0m10 16h0m4-15h0m19 13h0m8-1h0m0-1h0m28 8h0m-599 6h0m35 27h0m1 1h0m11-4h0m41 3h0m13-19h0m1 2h0m4 12h0m6-12h0m25 15h0m3-7h0m11-14h0m6 12h0m1-2h0m13 12h0m16-19h0m15 2h0m1 17h0m5-5h0m1 0h0m58-5h0m48-4h0m19-8h0m12-5h0m10 25h0m6 4h0m23-4h0m37 4h0m6-20h0m15 2h0m0 16h0m3-18h0m3 6h0m6 7h0m9-13h0m1-3h0m5-2h0m1 13h0m1-4h0m0 2h0m6-8h0m3 0h0m1 6h0m1 3h0m3-10h0m2-3h0m3 11h0m3-3h0m1-1h0m1-1h0m0 2h0m4-4h0m1 19h0m2-25h0m3 2h0m24 4h0m2-4h0m1 7h0m0-4h0m11 3h0m8 3h0m0-4h0m6 3h0m2 10h0m0-1h0m0-13h0m6 12h0m0-5h0m1 6h0m12-2h0m3 10h0m6 1h0m12-10h0m3 2h0m23 8h0m65-28h0m-745 57h0m34-8h0m57 5h0m25 4h0m7-2h0m24-6h0m10-17h0m1 5h0m11 12h0m1-12h0m6-5h0m11 16h0m5-5h0m1 12h0m6-6h0m4-4h0m2-8h0m2-5h0m5 26h0m0-9h0m6 0h0m4 5h0m3-14h0m2 17h0m6-24h0m5 4h0m4 8h0m2 0h0m3-9h0m2 2h0m7 15h0m2-23h0m21 14h0m3 7h0m46-10h0m9-4h0m4 12h0m6-9h0m17-7h0m3-2h0m2 15h0m24 4h0m1 7h0m5-6h0m0-17h0m14 10h0m2-15h0m2 26h0m0-9h0m2 5h0m1-6h0m2 7h0m8 6h0m1-15h0m0-15h0m2 24h0m4 5h0m7-8h0m3 1h0m2-7h0m4-5h0m8 1h0m3-9h0m2 2h0m5 6h0m3-5h0m2-3h0m1 3h0m17-5h0m132 6h0m2-4h0m4 7h0m2 13h0m1-4h0m1-13h0m0 8h0m1 13h0m1-25h0m1 8h0m1-3h0m0 15h0m5-5h0m2-16h0m1 25h0m12-7h0m49-15h0m-600 52h0m8 2h0m21-4h0m2-22h0m7 22h0m11-3h0m9 3h0m1-10h0m3 4h0m1 1h0m2 9h0m3-2h0m9 4h0m0-12h0m3 2h0m4-14h0m1 4h0m1 10h0m1 10h0m2-15h0m0 8h0m0 1h0m1-8h0m1-8h0m0 7h0m4 0h0m3 6h0m2-16h0m2 13h0m9-6h0m0-3h0m1 15h0m2-21h0m3 17h0m16 3h0m0-4h0m1-15h0m0 13h0m4 0h0m8-9h0m0 0h0m1 7h0m3 9h0m5 6h0m5-8h0m9-21h0m9 14h0m1-3h0m1 16h0m1 3h0m2-12h0m12 8h0m19-4h0m10 8h0m11-17h0m0 12h0m5-15h0m10 4h0m0 4h0m1 2h0m3 7h0m11-2h0m7-1h0m1 3h0m4-14h0m0-4h0m3-6h0m1 5h0m4 14h0m0-15h0m1 22h0m0-9h0m1-3h0m0-1h0m1 7h0m1 3h0m4-9h0m1 11h0m2-20h0m0 5h0m1-11h0m2 13h0m3 8h0m1-4h0m2 1h0m2-9h0m1 6h0m0-3h0m1-4h0m1 1h0m2-2h0m1-5h0m0 8h0m5-11h0m2 3h0m139 17h0m62 9h0m2-9h0m1-5h0m1 7h0m8-22h0m10 14h0m8 4h0m-669 26h0m91 2h0m12 1h0m22 7h0m6-1h0m3-8h0m8 5h0m0 3h0m7-11h0m2 8h0m0-8h0m0 11h0m5-10h0m0 1h0m3 8h0m3 2h0m5-11h0m4 4h0m0 7h0m6-2h0m4 2h0m6-9h0m10-16h0m7 5h0m16-2h0m5 3h0m4-5h0m9 3h0m1-3h0m6 10h0m1 0h0m3 2h0m4-11h0m3 18h0m0-15h0m1 8h0m0-8h0m1 21h0m1 1h0m1-13h0m3-3h0m1-7h0m6 7h0m0-4h0m1 12h0m3-15h0m1 11h0m0-4h0m11 12h0m1-6h0m2-10h0m5 22h0m0-9h0m1-4h0m2-13h0m2 0h0m1 14h0m5 0h0m3-8h0m2-7h0m1 1h0m15 16h0m2-5h0m1 15h0m0-8h0m0 8h0m8-20h0m0 13h0m7 2h0m0-10h0m3 4h0m0 5h0m6 1h0m2-13h0m2 12h0m1 1h0m1-15h0m1-6h0m8 19h0m2-21h0m1 29h0m3-24h0m2 14h0m1-5h0m1 11h0m1-12h0m3 14h0m1-9h0m3 5h0m2-20h0m1 19h0m3-1h0m1 2h0m0-8h0m0 8h0m0-15h0m0-6h0m2 3h0m2 1h0m2 10h0m5-9h0m0-6h0m225 18h0m3-4h0m0 0h0m5 5h0m1 8h0m1-14h0m1 4h0m1-6h0m3-4h0m0-2h0m6-4h0m2 10h0m5-1h0m12 17h0m2-8h0m102 5h0m-798 22h0m12-2h0m71-1h0m35 11h0m33-1h0m10-6h0m3-14h0m2 22h0m4-8h0m1 4h0m7-18h0m1-4h0m2 8h0m0 19h0m12-15h0m101-12h0m0 7h0m3-7h0m2 7h0m3 20h0m2-16h0m0 10h0m1-3h0m1-6h0m0-3h0m2 16h0m0-8h0m1-13h0m3 15h0m1 1h0m8-2h0m1-4h0m1-10h0m1 4h0m2-7h0m0 22h0m1 1h0m3-12h0m0-3h0m3 10h0m6 2h0m6-9h0m13 15h0m0-9h0m4 10h0m1-14h0m1-7h0m2 13h0m1-16h0m0 6h0m3 9h0m0 6h0m4-23h0m5 6h0m1 19h0m4-2h0m2-26h0m3 14h0m0 5h0m0 5h0m1-19h0m1 10h0m1 4h0m2-17h0m1 17h0m2-1h0m2-11h0m3 2h0m3-9h0m2 7h0m7-6h0m224 25h0m3-3h0m4-1h0m1 0h0m1 2h0m0-9h0m2 9h0m0-4h0m1-2h0m4-16h0m2 8h0m4-10h0m3 29h0m0-6h0m7-21h0m5 23h0m6-12h0m67 4h0m-791 32h0m93-14h0m56 19h0m17 6h0m4-10h0m4-8h0m4 6h0m0-18h0m17 2h0m5 22h0m1-3h0m1-19h0m1 24h0m1-13h0m1-4h0m1 12h0m2-16h0m0 0h0m1 22h0m1-8h0m1-2h0m0 9h0m1-23h0m1 24h0m1-22h0m1 14h0m1-2h0m1 6h0m5 3h0m2-18h0m0-6h0m2 8h0m1-4h0m126 5h0m1-2h0m3 3h0m0-1h0m3 3h0m1-11h0m1 25h0m0-19h0m5 9h0m1-6h0m2-7h0m4 23h0m2-13h0m1 7h0m1-20h0m2 4h0m0 17h0m0-22h0m0 27h0m3 2h0m0-13h0m0 2h0m1-6h0m1 1h0m1 14h0m2-4h0m0-22h0m1 3h0m1-2h0m0 17h0m0 6h0m3 0h0m3-25h0m1 28h0m1-25h0m8 24h0m3-8h0m0 9h0m1-7h0m0-9h0m0 4h0m1-1h0m0-9h0m4-6h0m2 15h0m0 10h0m2-2h0m0-3h0m1-17h0m1 7h0m0 7h0m3-5h0m1-5h0m0-5h0m0 9h0m2 1h0m1-11h0m3 20h0m93-5h0m139 2h0m2 10h0m0-5h0m6-11h0m0-3h0m1 7h0m2-7h0m7-9h0m0 3h0m1-3h0m1 17h0m1-18h0m2 17h0m1 7h0m1-15h0m2 11h0m1 2h0m1-20h0m3 14h0m11 2h0m20-4h0m-729 31h0m135 3h0m0-13h0m8-2h0m22 10h0m24 15h0m1-23h0m1-3h0m1 21h0m2-6h0m4 0h0m10 12h0m2-3h0m2-25h0m2 17h0m1 10h0m5-19h0m147-7h0m1 1h0m1 11h0m0 3h0m0-3h0m0-1h0m2-6h0m1 0h0m5 7h0m1-4h0m0-1h0m2 6h0m1 5h0m1-15h0m0 2h0m1-2h0m0 7h0m1 4h0m0 13h0m2-10h0m0-19h0m1 28h0m1-22h0m0 1h0m0 17h0m1 5h0m0-7h0m2-15h0m0 8h0m1 8h0m1 2h0m1 0h0m2-13h0m3 10h0m2-3h0m1-10h0m2-3h0m2 3h0m2 5h0m4-10h0m3 2h0m0-4h0m9 13h0m219 3h0m0 2h0m1 5h0m1-6h0m0 11h0m1-19h0m4-3h0m2-1h0m0 10h0m1-15h0m2 14h0m1-13h0m3 7h0m2-1h0m3 2h0m2 1h0m1 16h0m0-21h0m1-3h0m2-3h0m5 11h0m3-12h0m3 4h0m4 19h0m1-21h0m1 17h0m1 11h0m5-30h0m15 24h0m15-6h0m8 11h0m22-15h0m6-2h0m-686 35h0m8-11h0m92 0h0m2 3h0m2 6h0m5-8h0m4 18h0m3-21h0m1 24h0m3-10h0m3 9h0m1-8h0m7-4h0m1-5h0m3 14h0m0 0h0m0-3h0m6 9h0m31-5h0m101 5h0m34-25h0m0 3h0m0 0h0m3-5h0m1 21h0m6-11h0m4-5h0m221 21h0m1-1h0m0-3h0m2-5h0m1 1h0m2-5h0m1 6h0m2-17h0m3 2h0m1 11h0m1 2h0m0 7h0m1 1h0m1-9h0m1-16h0m1 2h0m2 8h0m1-3h0m1-4h0m3 21h0m2-11h0m0 11h0m8 2h0m2 0h0m9-19h0m9 8h0m5-11h0m2 10h0m114 4h0m21-3h0m-809 31h0m68-5h0m71-9h0m9 25h0m14-20h0m12-1h0m1 11h0m2 6h0m1-15h0m11-2h0m1 2h0m7-3h0m5 18h0m1-20h0m2 15h0m1-16h0m1 7h0m2-8h0m1 4h0m1 0h0m3-3h0m374 13h0m2-5h0m1 4h0m0 0h0m1 3h0m3-11h0m0 6h0m4 8h0m0-17h0m1 0h0m0-5h0m3 3h0m2 11h0m4 12h0m1 3h0m2-2h0m23-26h0m1 14h0m23 7h0m12-4h0m86 8h0m-667 16h0m32-2h0m18-4h0m11 16h0m23 0h0m3-17h0m4 24h0m12-29h0m1 24h0m2-7h0m1-9h0m5 0h0m1-1h0m3-2h0m2 15h0m1-6h0m2-6h0m4-8h0m1 17h0m344 5h0m0 6h0m1-9h0m0 7h0m9-23h0m0 19h0m2 5h0m2-20h0m1-6h0m2 18h0m0-4h0m1-11h0m0 2h0m5-6h0m2 21h0m1 8h0m5-27h0m5-1h0m1-1h0m5 16h0m3 3h0m4-7h0m4 1h0m6-10h0m40 4h0m3 4h0m-646 48h0m123-10h0m11-5h0m5 11h0m1-6h0m23-5h0m15-8h0m4-4h0m2-1h0m6 18h0m2 4h0m3-6h0m2-17h0m2 14h0m1 10h0m1-24h0m2 25h0m3-5h0m1-2h0m0-6h0m2 9h0m0-8h0m1 8h0m0-6h0m1 5h0m1 7h0m0-2h0m129-21h0m63 17h0m2 5h0m121 3h0m6-2h0m0-21h0m2 8h0m1 3h0m0-13h0m0 13h0m0-16h0m6 3h0m3 22h0m2-4h0m1-17h0m4 5h0m4 13h0m2-15h0m4 0h0m6 2h0m5-7h0m3 15h0m18-8h0m3 17h0m23 1h0m25-16h0m-651 25h0m98 13h0m19-3h0m23-2h0m4 2h0m6-13h0m2 8h0m13 8h0m10-20h0m5 15h0m4-10h0m0 3h0m4 12h0m3-8h0m2 9h0m3-8h0m3-6h0m3 6h0m7-4h0m3-8h0m3 3h0m2 1h0m0 22h0m1-11h0m1-4h0m0-9h0m2 21h0m0-3h0m2 6h0m0 0h0m0-16h0m3 5h0m1-1h0m0-6h0m1 17h0m1-3h0m0-5h0m123-6h0m59-8h0m84 23h0m7-3h0m1-10h0m3 2h0m5-8h0m8 7h0m1-5h0m1-2h0m8 1h0m1 5h0m0 1h0m1-14h0m3 4h0m1 4h0m4-2h0m2-1h0m2 6h0m2-1h0m3 1h0m2 10h0m1-23h0m3 11h0m7-10h0m39 1h0m25 11h0m3 5h0m59 9h0m-658 26h0m56-5h0m13 9h0m58-3h0m11 0h0m8 5h0m2-5h0m8-6h0m2-2h0m8-3h0m0 1h0m3 10h0m5-13h0m3 8h0m1 1h0m1-15h0m6-1h0m6 2h0m4 2h0m2 3h0m0 15h0m2-9h0m2 10h0m6-4h0m3-3h0m193 6h0m3 4h0m3-3h0m2-12h0m1 6h0m3 1h0m3-9h0m0 13h0m3-13h0m1 15h0m0-17h0m1 2h0m1-1h0m5 6h0m1 12h0m1-10h0m2-12h0m2 5h0m3 0h0m6-8h0m0 15h0m0-2h0m1-1h0m5-8h0m1 11h0m2-14h0m1-3h0m2 5h0m1 3h0m1 11h0m1-16h0m2 22h0m1-10h0m2-7h0m2-5h0m3 12h0m8 8h0m2-17h0m3 17h0m4-8h0m3 7h0m12-21h0m12 0h0m2 7h0m1 6h0m4 7h0m11 3h0m25 2h0m53-16h0m37 13h0m58-13h0m-711 46h0m70-10h0m43-4h0m3 7h0m0-18h0m30 5h0m3 12h0m7 0h0m10-18h0m6-2h0m2 4h0m2 12h0m1-11h0m14 4h0m2 4h0m13-12h0m3 1h0m1 5h0m0 13h0m1 4h0m9-3h0m0-3h0m173 10h0m10-12h0m4 8h0m1-15h0m2 12h0m2-17h0m4 20h0m3-1h0m7-23h0m0 20h0m7-8h0m19-9h0m1 1h0m0 17h0m9-5h0m0 8h0m0-10h0m6 10h0m15 1h0m3 3h0m3-9h0m8-15h0m2-2h0m2 1h0m26 5h0m0-7h0m28 10h0m52-12h0m56 4h0m-558 48h0m34-20h0m28 2h0m5 8h0m10-2h0m5 13h0m3-12h0m5 16h0m4-17h0m13 6h0m4 14h0m0-24h0m1 8h0m3-12h0m1 9h0m0 11h0m3-10h0m5-6h0m3 22h0m0-7h0m4-6h0m89 13h0m48-22h0m9 17h0m6-7h0m4-11h0m2-2h0m3 27h0m5-23h0m4 17h0m0-5h0m0 2h0m13 4h0m1-21h0m3 7h0m10 0h0m11 5h0m5-11h0m16 9h0m20-10h0m7 10h0m101 14h0m7-1h0m69 1h0m-617 31h0m31-20h0m23 16h0m5 2h0m16-1h0m25-2h0m16-15h0m10-4h0m1 1h0m4 24h0m18-23h0m5-6h0m10 8h0m1 3h0m12-3h0m5 13h0m9-18h0m1 15h0m0 6h0m1-3h0m3 1h0m1-11h0m6-2h0m4 5h0m4-3h0m8 14h0m9 3h0m21-4h0m21 2h0m4 0h0m10 1h0m2 2h0m6-5h0m10-4h0m0-1h0m2 3h0m1-3h0m11 3h0m1-18h0m2 9h0m1 13h0m2-8h0m2 10h0m1-6h0m2-16h0m1 23h0m1-17h0m2-4h0m5-6h0m4 16h0m5 5h0m4-12h0m7 0h0m4 7h0m6-18h0m5 16h0m4-11h0m4 11h0m2-1h0m17-10h0m6 0h0m4-6h0m22 17h0m4-2h0m4-6h0m2 15h0m6 3h0m9-10h0m6 9h0m91-2h0m-525 18h0m12-10h0m7 7h0m55 3h0m9 13h0m16-15h0m10 18h0m2-14h0m2 0h0m2 3h0m1 7h0m6-18h0m4 6h0m3-8h0m4 17h0m1-11h0m4 9h0m3 2h0m0-14h0m0 18h0m5-13h0m3 3h0m4 14h0m2-23h0m2 20h0m0 3h0m1-4h0m4-6h0m3 7h0m1-21h0m1 12h0m0 1h0m1 4h0m1 8h0m1-29h0m1 29h0m1-10h0m0 7h0m2 2h0m4-15h0m3 13h0m0 0h0m1-7h0m1-2h0m1 1h0m3 4h0m0-1h0m0 2h0m3-19h0m0 20h0m1 4h0m1-10h0m3 2h0m2-12h0m1 15h0m2-5h0m3-5h0m0-3h0m1-4h0m1 17h0m1-7h0m0-16h0m0 20h0m1-3h0m1-4h0m0-4h0m2-9h0m1 15h0m1 4h0m1 3h0m1-15h0m0 11h0m3 3h0m2-10h0m1 12h0m1-13h0m4-2h0m2 9h0m1-9h0m2 0h0m1-4h0m4 6h0m1 9h0m4-14h0m4 5h0m0-3h0m1-1h0m1 5h0m5-1h0m1 10h0m0-12h0m1 5h0m4 7h0m2-2h0m2 2h0m0-1h0m1 1h0m0-15h0m1 2h0m1 10h0m1-15h0m1 15h0m1-11h0m4 2h0m7-5h0m3 16h0m2-4h0m0 5h0m1-7h0m1-12h0m2 14h0m0-3h0m0 4h0m1 2h0m0-10h0m2-7h0m2 17h0m3-15h0m0 6h0m1 7h0m2 3h0m2 0h0m0-11h0m1-4h0m4 16h0m0-13h0m3 11h0m7-19h0m5 7h0m0 8h0m2-3h0m1-5h0m1-4h0m1 11h0m4-5h0m2 5h0m1 0h0m2-2h0m1 2h0m3 1h0m3 4h0m1-15h0m4 10h0m1 5h0m3-5h0m4 3h0m1 5h0m2 0h0m1-21h0m2 14h0m3-6h0m2 0h0m2 2h0m2 3h0m1-3h0m2 7h0m0 1h0m0 0h0m1-8h0m0 8h0m1-4h0m0-9h0m4 17h0m2 6h0m1-3h0m1-3h0m4-7h0m1 11h0m6 0h0m3-4h0m0-4h0m1-10h0m4 18h0m0-5h0m3-6h0m1 6h0m2-19h0m13 23h0m0-2h0m3 0h0m1-21h0m1 17h0m1 10h0m2-26h0m0 22h0m10-10h0m0 11h0m1 2h0m0-9h0m3 6h0m0-2h0m3-14h0m7 3h0m7 16h0m1-5h0m49-3h0m19-7h0m116 5h0m-751 38h0m63-21h0m48 11h0m6 11h0m20-5h0m9 6h0m4-4h0m6 1h0m2 1h0m4-5h0m1-11h0m0 17h0m1-10h0m1 6h0m1-8h0m1-4h0m7 15h0m0-11h0m0-9h0m4 20h0m2-10h0m3 12h0m2-7h0m1 5h0m1 0h0m0-18h0m2 6h0m1 15h0m3-29h0m0 26h0m0-8h0m2-18h0m1 6h0m0 20h0m1-26h0m1 25h0m2-6h0m1 4h0m0 1h0m1-3h0m0 2h0m1-4h0m2-11h0m2 11h0m1 1h0m2-2h0m1 2h0m1-18h0m0 6h0m6 10h0m4-4h0m0-5h0m3 5h0m5-2h0m12-7h0m2-1h0m1-5h0m1 8h0m5-1h0m3-4h0m0 1h0m4-3h0m3 2h0m1 1h0m1 2h0m6-5h0m5 0h0m68 9h0m170-7h0m1 0h0m3-1h0m1 1h0m9 0h0m2-2h0m2 6h0m6-2h0m1 1h0m2-3h0m3-1h0m4 5h0m0 1h0m2-5h0m6-1h0m5 7h0m2 10h0m0-10h0m4-1h0m1 7h0m6-6h0m2-6h0m3 16h0m5 4h0m5 6h0m2-16h0m2-4h0m1 13h0m1-3h0m0-3h0m1-5h0m2 8h0m4-6h0m2-2h0m2 11h0m2 7h0m1-11h0m2 4h0m3-21h0m3 20h0m11 0h0m4 9h0m1-27h0m12 16h0m5-15h0m67 11h0m-663 30h0m4 2h0m26-11h0m17 2h0m1-3h0m21 15h0m4-6h0m3 1h0m8 4h0m9-6h0m2-7h0m0-4h0m2 8h0m3-5h0m0 10h0m3 5h0m1-10h0m0 6h0m5 3h0m9-8h0m1-10h0m7 0h0m1 1h0m181 2h0m51 26h0m178-26h0m5-1h0m6 6h0m2-2h0m2 6h0m0 2h0m1 0h0m2-10h0m3-3h0m4 19h0m5 5h0m4-15h0m5 7h0m0 6h0m0-6h0m3 12h0m6 0h0m1-3h0m6-13h0m0 15h0m3-5h0m16-19h0m2 1h0m0 2h0m4 14h0m11 6h0m4-6h0m41 6h0m17-6h0m51 6h0m-782 9h0m5 3h0m7-8h0m24 23h0m8-16h0m19 14h0m2-4h0m0 8h0m2-15h0m1 10h0m3 5h0m4-22h0m3 17h0m15-5h0m0 5h0m7 1h0m1-17h0m1-1h0m1 20h0m1-9h0m1-2h0m1 14h0m0 2h0m1-12h0m0 1h0m3-17h0m2 21h0m0-15h0m2 11h0m2 2h0m1-12h0m7 7h0m3-11h0m1-4h0m4 3h0m4-4h0m169 3h0m308 0h0m9 1h0m2 7h0m1 1h0m1 7h0m0-9h0m1 2h0m1 3h0m1-8h0m0 16h0m3-1h0m1-16h0m2 16h0m0-15h0m8 20h0m1-27h0m2 16h0m1-6h0m2 16h0m5 4h0m8-21h0m6 16h0m6-19h0m2 14h0m16-17h0m8-1h0m22 25h0m43 0h0m6-11h0m-726 17h0m17 7h0m4-5h0m3-1h0m6 16h0m7 4h0m2-11h0m0 12h0m8-8h0m2-15h0m2 4h0m0 0h0m6 22h0m2-23h0m2 19h0m2-6h0m2 3h0m1-9h0m1-3h0m1-9h0m25 6h0m207 6h0m294 18h0m0-22h0m2 0h0m2 15h0m1 7h0m1-6h0m1-8h0m0 11h0m1-17h0m4 17h0m2-17h0m0 2h0m6-4h0m1-6h0m1 27h0m6-25h0m1 4h0m15 7h0m7 4h0m2-18h0m27 18h0m1-1h0m8-15h0m29 14h0m36 10h0m-805 15h0m17 6h0m21 3h0m11-5h0m14 1h0m7-3h0m5 2h0m5 10h0m6 4h0m1-25h0m13 20h0m0-8h0m7-13h0m2 24h0m1-6h0m4-4h0m0 10h0m1-18h0m1 15h0m2-19h0m0 23h0m2-7h0m2-18h0m4 17h0m8 6h0m434-8h0m74 6h0m6-2h0m8-21h0m3 3h0m0 21h0m4-14h0m2-10h0m3 15h0m1-11h0m4-4h0m1 1h0m2 18h0m2 4h0m8-13h0m5-10h0m7-1h0m9 16h0m54 11h0m5-23h0m-753 49h0m20 3h0m13-11h0m13-14h0m5 3h0m21 2h0m6 21h0m6-27h0m4 9h0m5 3h0m1 4h0m7 10h0m0-26h0m1 27h0m1-12h0m1-4h0m0-8h0m2 19h0m2-22h0m3 19h0m2 8h0m3-22h0m2 8h0m1 13h0m2-20h0m1 12h0m2-7h0m1-4h0m3 9h0m13 7h0m2-3h0m1 1h0m236-3h0m205 11h0m11-2h0m10-10h0m2 1h0m4 5h0m2-13h0m2-4h0m1-3h0m0 22h0m1-6h0m0-9h0m1 14h0m0 0h0m1-9h0m4 9h0m0-3h0m0-22h0m0 3h0m15 11h0m3-7h0m0 16h0m3-18h0m23 9h0m18 1h0m0 3h0m1-7h0m21-10h0m19 11h0m-639 30h0m12-9h0m5 21h0m3-24h0m5 14h0m6 7h0m8-21h0m6 14h0m1-10h0m12-2h0m2 9h0m2-11h0m4 22h0m0-12h0m0 4h0m1 4h0m5 5h0m2-9h0m1 4h0m0 5h0m2-1h0m4-6h0m2-2h0m3 12h0m6-13h0m6 12h0m6-2h0m4-3h0m3 0h0m116-5h0m208 10h0m3 1h0m4 1h0m10-3h0m12-8h0m2 1h0m6-2h0m5 5h0m0-2h0m3-2h0m2 1h0m4-13h0m1 25h0m1-10h0m11 10h0m0-15h0m7 5h0m5 4h0m8-7h0m5-11h0m6-2h0m4 13h0m0-13h0m1 10h0m8 0h0m1-5h0m9-2h0m37 3h0m20 12h0m27-18h0m31 0h0m9 21h0m-722 19h0m76-8h0m33 8h0m7-11h0m2 7h0m2 2h0m3-4h0m6 4h0m5-9h0m7 1h0m5 2h0m4-5h0m2 9h0m14-8h0m3 17h0m1-11h0m0 11h0m16-4h0m1-12h0m5 16h0m4-8h0m0 8h0m3-12h0m5 7h0m1-6h0m1 13h0m0-13h0m6 0h0m4 6h0m1-7h0m6 9h0m1 7h0m2-4h0m1-10h0m3 22h0m3-12h0m6 4h0m5-2h0m7-1h0m11-4h0m2-1h0m3 4h0m2 1h0m0 7h0m4-5h0m3-7h0m0 7h0m1-6h0m12 2h0m6-1h0m1-2h0m1 13h0m7-11h0m1-2h0m15 15h0m2-12h0m5-1h0m4 0h0m8 8h0m3 5h0m2-14h0m13 1h0m1-1h0m4 3h0m7-3h0m9 14h0m7-14h0m1 10h0m13-3h0m2-8h0m2-4h0m2 19h0m1 1h0m10-19h0m1 10h0m2 1h0m4 3h0m1-6h0m3-12h0m1 3h0m1 8h0m4 1h0m3-5h0m2-1h0m0-8h0m1-1h0m4 20h0m1-8h0m0-8h0m4 2h0m3-7h0m0 24h0m14-23h0m1 5h0m1 8h0m2-14h0m0 8h0m13 12h0m17-17h0m9-2h0m3 7h0m8-11h0m6 4h0m5-2h0m1 2h0m3-2h0m4-1h0m27 9h0m77 12h0m-561 9h0m3 1h0m38 0h0m97 0h0m19 3h0m1 3h0m2-6h0m42-1h0m3 0h0m7 0h0m2 1h0m21 7h0m17-7h0m17 2h0m1 0h0m18 0h0m27-1h0m8-3h0m0 5h0m12-4h0"/>
<path transform="scale(.1)" fill="none" stroke="#000" stroke-width="5.0" d="M4680 730l-10 1-10-1-22-7-22-14-17-17-11-15-9-19-30-90-7-26-3-24-2-28 2-28 4-24 6-23 8-20 11-18 8-9 10-9 10-5 7-2 10-1 7 2 10 4 8 5 12 12 11 16 13 28 19 50 5 8 2 2 6 1 4-3 8-9 42-65 34-44 24-28 22-18 23-13 35-15 32-12 20-6 18-2 18 1 14 4 13 7 9 9 7 13 3 14 0 16-4 17-9 23-12 24-12 20-13 16-39 41-53 64-30 41-12 15-10 9-12 8-13 6-27 9-13 8-11 13-22 43-12 16-10 10-12 9-13 6-13 4M4753 988l-67 1-66-5-52-10-25-7-20-8-20-10-18-11-15-13-11-13-7-12-5-15 0-13 4-14 13-20 17-18 22-16 27-15 26-10 30-8 60-12 27-3 120 4 27 4 30 7 33 12 30 16 27 20 19 21 8 12 5 13 1 13-1 12-5 12-9 13-9 10-13 11-18 11-18 8-42 16-50 10-55 7M4678 693l-18 2-17-3-17-9-16-15-10-14-7-16-31-83-6-20-4-23-1-22 1-22 4-20 5-20 8-18 9-14 8-8 7-5 7-4 10-1 10 2 8 3 8 6 7 8 7 11 8 14 11 36 4 32 1 45 4 18 8 12 10 9 14 7 13 1 5-3 2-6 1-43 1-18 6-22 9-25 15-30 14-25 35-50 19-22 17-16 21-13 45-22 27-11 20-4 18 0 18 5 12 7 9 11 4 10 2 13-1 14-6 18-9 20-13 22-11 16-15 16-41 38-56 63-30 37-13 13-15 9-15 5-18 2-32 1-5 0-4 3-3 7-10 38-10 23-8 10-10 9-10 7-10 4M4733 978l-60 0-55-5-45-9-23-8-20-8-17-10-15-11-12-12-9-13-5-12-2-12 2-13 4-13 14-20 23-20 27-16 30-11 26-7 34-5 116-5 32 0 28 3 27 5 25 8 25 11 23 14 18 16 15 17 6 13 4 13 0 12-2 10-5 12-8 10-9 10-15 11-16 9-18 9-40 13-50 9-53 5M4800 546l-7 0-7-2-8-5-5-6-3-8-1-10 2-23 8-30 12-30 33-60 13-20 14-14 19-16 33-20 27-14 20-6 18-1 18 2 12 7 8 8 5 10 2 10-1 12-3 12-7 16-19 28-23 25-48 39-36 36-50 45-13 9-13 6M4630 603l-7 0-7-6-10-12-16-22-12-25-5-16-3-14-1-18 1-18 3-14 5-16 5-10 7-10 8-6 10-3 8 0 7 4 7 5 6 7 9 21 6 25 1 30-9 80-5 13-8 5M4726 965l-58 0-48-4-42-9-32-13-16-9-13-10-10-10-8-12-4-10-2-13 2-13 5-12 12-18 20-17 24-13 27-10 23-5 22-3 128-6 27 0 23 2 20 4 22 7 20 9 19 12 15 13 12 15 6 10 4 12 1 13-2 10-5 13-7 10-11 10-12 9-30 15-38 12-44 7-50 4M4846 466l-13 1-7-5-4-7 0-13 5-20 14-42 9-18 10-14 16-16 19-14 21-14 20-10 17-5 15 0 15 3 10 6 6 7 3 7 2 10-1 10-3 10-7 13-17 24-18 18-20 15-49 28-29 19-14 7M4613 520l-7-1-6-6-4-11-1-10 1-12 3-10 6-8 5-1 6 2 4 5 4 10 2 10-1 10-2 10-5 9-5 3M4738 953l-60 1-45-2-37-7-33-11-15-8-12-8-10-10-7-10-5-10-2-13 0-10 4-13 11-17 17-15 22-12 24-10 18-4 20-2 65-1 63-5 22 0 20 1 20 4 18 5 17 7 15 9 13 10 12 13 6 10 5 13 1 10-1 10-3 10-6 10-7 8-10 9-25 14-33 12-37 7-45 5M4898 413l-15 1-10-3-7-6-3-7-1-13 2-13 5-12 10-15 12-13 15-13 14-10 16-8 14-4 13-2 13 2 10 6 7 9 2 8 0 8-5 17-11 17-19 19-20 15-20 10-22 7M4698 943l-45 0-35-3-30-7-25-11-20-15-8-9-6-10-2-10-1-10 2-10 5-10 11-16 16-12 20-11 23-7 30-4 65 1 72-7 36 3 17 4 15 6 14 7 14 10 10 10 7 10 4 10 2 10 0 10-3 10-6 10-7 9-10 8-13 8-27 12-33 7-37 4-55 3M4923 390l-13 2-10 0-7-3-7-7-2-7 0-10 3-10 7-13 11-12 10-10 11-8 12-6 10-3 12-1 10 1 8 4 7 8 3 10-2 13-7 12-11 13-12 11-16 9-17 7M4683 933l-37 1-30-3-28-7-22-11-10-8-7-7-5-8-4-10-2-8 1-10 3-10 4-7 11-13 13-10 18-9 20-6 28-3 60 3 57-8 23-2 17 1 15 3 25 8 13 8 10 8 9 10 7 10 3 10 1 10-2 10-3 7-7 10-8 8-10 7-13 7-23 8-30 6-97 5M4930 376l-10 1-7-1-6-4-4-4-2-6 0-7 2-7 5-10 13-16 9-6 10-5 18-4 8 1 7 4 5 6 3 7-2 10-4 10-8 10-11 9-13 7-13 5M4656 925l-28 0-25-5-23-8-16-12-7-8-5-7-3-15 1-10 2-8 10-14 12-10 12-8 14-6 13-3 25-2 40 5 18 0 17-2 43-9 27-1 27 4 22 9 10 7 8 8 6 8 6 10 2 10 0 7-2 10-4 7-7 8-8 8-23 11-22 7-22 3-68 2-52 4M4933 365l-13-1-4-4-3-4 0-11 6-13 10-10 14-7 15-2 10 3 4 4 2 8-1 7-5 9-8 8-7 6-10 5-10 2M4650 918l-24-1-23-4-20-9-15-12-5-7-4-7-1-16 6-14 13-16 19-11 10-4 12-3 22 0 38 6 18 1 17-2 47-12 26-1 20 3 20 9 15 12 6 8 5 10 2 10 0 7-3 7-4 8-14 13-20 10-17 5-18 3-20 0-50-1-58 8M4943 356l-13 1-7-4-2-8 2-7 7-10 10-7 10-3 10 1 5 3 2 6-1 10-6 7-4 4-13 7M4650 910l-22 1-22-4-18-8-14-11-7-13-1-7 1-8 7-15 11-13 18-10 17-5 20 1 40 10 18 1 18-3 42-14 15-3 13 0 20 4 15 7 14 12 8 16 2 7 0 7-3 8-4 8-12 11-20 9-18 4-20 2-50-5-12 0-56 11M4938 350l-5-1-4-4-1-5 4-8 6-5 8-3 7-1 5 2 2 3 1 4-3 8-10 8-10 2M4653 903l-20 2-20-2-17-7-13-9-7-12-2-13 5-14 11-13 8-6 10-5 10-3 12-1 18 3 38 14 14 1 16-4 42-18 12-3 16-1 17 3 14 7 11 10 7 16 1 7 0 7-7 13-11 10-18 7-17 4-17 0-18-1-30-6-12-1-13 2-40 13M4943 343l-4-1-3-2 1-5 3-3 6-3 6 1 1 2-1 6-4 3-5 2M4646 898l-18 1-18-3-14-7-9-9-6-12 2-13 6-13 11-10 8-5 10-3 10-1 10 1 16 6 34 19 12 2 10-3 32-20 14-8 14-4 16-1 14 3 13 6 8 8 6 13 1 13-5 12-10 10-15 6-20 4-20-1-18-4-30-12-7-1-10 4-27 16-20 6M4786 883l-13 1-12-2-11-2-11-5-7-5-6-8-1-4 3-8 5-8 11-10 19-11 10-2 10-1 10 1 10 3 10 8 5 8 3 12-1 10-4 8-8 7-10 5-12 3M4636 893l-16-1-14-5-11-7-6-10 0-12 5-13 8-10 14-7 7-1 10 0 17 5 19 16 7 7 2 5 0 5-1 5-9 10-15 9-17 4M4790 876l-10 1-12 0-10-2-10-5-5-5-4-7 1-8 4-8 12-12 15-8 9-1 8 0 8 2 7 4 6 5 2 6 3 10-1 7-3 7-4 6-8 4-8 4M4643 885l-15 2-12-2-11-5-7-7-3-11 1-10 5-10 7-7 12-5 16 1 14 7 11 12 4 10-1 10-8 9-13 6M4786 870l-13 1-12-3-7-6-4-7 2-10 6-10 10-7 10-4 10 0 10 4 5 4 3 10 0 10-3 8-7 6-10 4M4636 880l-10 1-10-2-8-5-5-7-2-9 3-10 4-8 10-6 10-2 10 3 10 7 6 10 2 10-3 8-7 7-10 3M4786 863l-8 1-8-2-7-4-3-6 1-7 6-10 5-5 8-3 8 0 6 3 4 5 1 5 0 8-3 7-4 5-6 3M4636 873l-8 2-8-1-6-4-4-5-2-7 1-8 3-8 6-5 8-1 7 1 5 3 6 8 3 7-1 7-3 6-7 5M4780 855l-5-3-1-4 0-6 3-7 3-3 6 0 3 3 0 7-3 9-6 4M4630 866l-7 1-3-2-3-5 0-12 2-6 4-2 5 0 5 2 4 8-1 10-3 5-3 1"/>
<rect x="431.3" y="16.5" width="86.20" height="86.10" fill="none" stroke="#6a6a6a" stroke-width="0.9"/>
<path stroke="#6a6a6a" stroke-width="0.8" d="M470.7 16.5V102.6M431.3 69.5H517.5"/>
<g font-family="'Liberation Sans', sans-serif" font-size="8.5" fill="#111" stroke="#fff" stroke-width="1.6" paint-order="stroke" stroke-linejoin="round">
<text x="432.9" y="25.0">7.6%</text>
<text x="515.9" y="25.0" text-anchor="end">17.2%</text>
<text x="515.9" y="101.0" text-anchor="end">39.2%</text>
</g>
<path stroke="#555" stroke-width="0.5" d="M429.8 24.4H431.3M429.8 43.2H431.3M429.8 63.1H431.3M429.8 84.1H431.3M429.8 93.6H431.3M441.5 102.6V104.1M450.4 102.6V104.1M470.9 102.6V104.1M490.2 102.6V104.1M509.0 102.6V104.1M430.5 37.2H431.3M430.5 33.7H431.3M430.5 31.2H431.3M430.5 29.3H431.3M430.5 27.7H431.3M430.5 26.4H431.3M430.5 25.2H431.3M430.5 57.1H431.3M430.5 53.6H431.3M430.5 51.1H431.3M430.5 49.2H431.3M430.5 47.6H431.3M430.5 46.3H431.3M430.5 45.1H431.3M430.5 44.1H431.3M430.5 78.1H431.3M430.5 74.6H431.3M430.5 72.1H431.3M430.5 70.2H431.3M430.5 68.6H431.3M430.5 67.3H431.3M430.5 66.1H431.3M430.5 65.1H431.3M456.2 102.6V103.39999999999999M459.6 102.6V103.39999999999999M462.0 102.6V103.39999999999999M463.9 102.6V103.39999999999999M465.4 102.6V103.39999999999999M466.7 102.6V103.39999999999999M467.8 102.6V103.39999999999999M468.8 102.6V103.39999999999999M476.7 102.6V103.39999999999999M480.1 102.6V103.39999999999999M482.5 102.6V103.39999999999999M484.4 102.6V103.39999999999999M485.9 102.6V103.39999999999999M487.2 102.6V103.39999999999999M488.3 102.6V103.39999999999999M489.3 102.6V103.39999999999999M496.0 102.6V103.39999999999999M499.4 102.6V103.39999999999999M501.8 102.6V103.39999999999999M503.7 102.6V103.39999999999999M505.2 102.6V103.39999999999999M506.5 102.6V103.39999999999999M507.6 102.6V103.39999999999999M508.6 102.6V103.39999999999999"/>
<g font-family="'Liberation Sans', sans-serif" fill="#222">
<text x="429.1" y="25.8" font-size="4.8" text-anchor="end">10<tspan font-size="3.4" dy="-1.8">5</tspan></text>
<text x="429.1" y="44.6" font-size="4.8" text-anchor="end">10<tspan font-size="3.4" dy="-1.8">4</tspan></text>
<text x="429.1" y="64.5" font-size="4.8" text-anchor="end">10<tspan font-size="3.4" dy="-1.8">3</tspan></text>
<text x="429.1" y="85.5" font-size="4.8" text-anchor="end">10<tspan font-size="3.4" dy="-1.8">2</tspan></text>
<text x="429.1" y="95.0" font-size="4.8" text-anchor="end">0</text>
<text x="441.5" y="111.2" font-size="4.8" text-anchor="middle">0</text>
<text x="450.4" y="111.2" font-size="4.8" text-anchor="middle">10<tspan font-size="3.4" dy="-1.8">2</tspan></text>
<text x="470.9" y="111.2" font-size="4.8" text-anchor="middle">10<tspan font-size="3.4" dy="-1.8">3</tspan></text>
<text x="490.2" y="111.2" font-size="4.8" text-anchor="middle">10<tspan font-size="3.4" dy="-1.8">4</tspan></text>
<text x="509.0" y="111.2" font-size="4.8" text-anchor="middle">10<tspan font-size="3.4" dy="-1.8">5</tspan></text>
</g>
<path stroke="#111" stroke-width="1" d="M431.8 117.0H513.5"/>
<path fill="#111" d="M516.5 117.0L511.5 115.1L511.5 118.9z"/>
<text x="468.4" y="130.79999999999998" font-family="'Liberation Sans', sans-serif" font-size="11" fill="#000" stroke="#000" stroke-width="0.15" text-anchor="middle">IL-2</text>
<path transform="scale(.1)" stroke="#5a5a5a" stroke-width="6.2" stroke-linecap="square" d="M4962 1421h0m48-21h0m-682 54h0m248-23h0m260 22h0m136-3h0m151-3h0m-778 28h0m186 5h0m16-4h0m5 9h0m5-28h0m13-1h0m0 16h0m19 12h0m9-1h0m11-8h0m216-11h0m72 11h0m25 10h0m85-8h0m-554 31h0m37 4h0m3-24h0m0 22h0m8-18h0m7 11h0m1 3h0m3 3h0m6-2h0m4-12h0m1-5h0m9 11h0m3 2h0m1-6h0m1-6h0m5-1h0m9 9h0m41-10h0m5 9h0m1-1h0m11 1h0m2 4h0m5 0h0m15 11h0m3-4h0m1-2h0m0 3h0m3-9h0m3-1h0m3 12h0m5-9h0m20 3h0m99-1h0m4-4h0m2-11h0m5-3h0m6 4h0m55 23h0m2-2h0m32 0h0m135-4h0m-653 20h0m61 13h0m25 1h0m3-4h0m7 7h0m2-6h0m4-16h0m1 12h0m5-12h0m0 3h0m3 12h0m3-15h0m13-7h0m163 1h0m4 10h0m3 1h0m6 3h0m3-10h0m7 4h0m1-8h0m4 14h0m3 9h0m1-17h0m0-1h0m6 3h0m27 2h0m3 3h0m2-2h0m22 2h0m0-13h0m10 23h0m15 0h0m46 0h0m1 3h0m3 1h0m4 0h0m9-2h0m2-1h0m4-22h0m32-1h0m226 12h0m64-11h0m-737 54h0m12-1h0m10-6h0m8-4h0m6-11h0m219 6h0m2 1h0m4 1h0m0 3h0m7 3h0m3-20h0m2 4h0m3 14h0m15 6h0m1-1h0m4-14h0m17 3h0m4 2h0m16 9h0m17-10h0m2 9h0m15 8h0m6 0h0m23-8h0m3 2h0m1-11h0m1-3h0m1 3h0m3 16h0m3-26h0m11 22h0m5-12h0m3 1h0m1 0h0m6 4h0m1 8h0m8-2h0m6-11h0m2 7h0m6-6h0m5 2h0m6 0h0m4 7h0m40 2h0m7 4h0m160-26h0m-670 27h0m21 2h0m4 5h0m1 6h0m221 11h0m2-16h0m1-8h0m1 20h0m4-16h0m2 25h0m1-16h0m1 2h0m2 0h0m8 9h0m2-9h0m2-1h0m2 5h0m8 3h0m3 0h0m31-19h0m6 5h0m2 13h0m2 7h0m5-9h0m2-4h0m10 4h0m0 5h0m7-9h0m2 8h0m2 5h0m2-13h0m2-10h0m9 3h0m0 19h0m2-15h0m2-9h0m3 15h0m1-1h0m1-8h0m3-2h0m5 4h0m5-6h0m7-5h0m26 4h0m29 13h0m4 0h0m3 2h0m2-12h0m10 21h0m3-27h0m0 24h0m3-16h0m2-6h0m-470 31h0m3 12h0m15-6h0m4-1h0m2 0h0m2 15h0m3 5h0m4-17h0m2 15h0m0-11h0m1 13h0m9-1h0m49-9h0m136-4h0m2 1h0m1 6h0m4-6h0m3-12h0m1 13h0m2-10h0m2-1h0m1-5h0m5-1h0m14 12h0m1 8h0m1-3h0m4-13h0m0 6h0m9 2h0m2 15h0m2-3h0m2-9h0m10 15h0m12-21h0m5 6h0m2-4h0m1 14h0m5-2h0m0 2h0m3-8h0m11 9h0m4-6h0m2 4h0m5-12h0m3-8h0m125 14h0m3 9h0m13-21h0m5 16h0m17 3h0m10-16h0m-493 50h0m4-14h0m14 2h0m9 11h0m0-19h0m9 6h0m3 7h0m151-6h0m5-10h0m0 21h0m1-25h0m3-2h0m0 15h0m1-6h0m7-7h0m0 26h0m2-13h0m3-9h0m1 22h0m5 1h0m0-25h0m6 23h0m5 0h0m2-15h0m5-2h0m3 0h0m8-8h0m8 11h0m5 8h0m2 7h0m2-16h0m7-11h0m5 18h0m4 4h0m3-15h0m8-2h0m2 12h0m0-16h0m2 25h0m3-14h0m151 0h0m3-3h0m5-6h0m1 14h0m20-4h0m2-4h0m32-3h0m-631 33h0m140 14h0m7-20h0m1 0h0m2 22h0m6-7h0m2-8h0m101-2h0m52-3h0m3 4h0m4 13h0m1 3h0m0-12h0m1 12h0m0-2h0m0-7h0m2-13h0m1 15h0m1 4h0m1-2h0m0-10h0m2 9h0m1-5h0m0 7h0m1-18h0m5 23h0m1-9h0m0 3h0m4 2h0m1-4h0m1 4h0m1-1h0m2-12h0m1-7h0m4 11h0m3-4h0m1 14h0m7-17h0m4-5h0m4-2h0m2 8h0m5 16h0m12-6h0m2-10h0m3 9h0m5 3h0m1-2h0m0-8h0m0 2h0m1 14h0m2-24h0m0 5h0m4 6h0m1-12h0m4 3h0m0 15h0m0-14h0m2-2h0m54 1h0m111 11h0m8 1h0m4-5h0m8 0h0m2 15h0m49-17h0m-501 29h0m3-3h0m1 15h0m2 3h0m3-6h0m32 8h0m123-16h0m4 16h0m1 3h0m1-10h0m5-3h0m5-3h0m1 6h0m3 10h0m6-14h0m8-4h0m1 19h0m1-8h0m3-7h0m1-3h0m4-9h0m4 20h0m1-20h0m1 9h0m1 18h0m10-9h0m2 4h0m1-22h0m4 9h0m2 8h0m4-1h0m0 0h0m2-6h0m3-7h0m3 10h0m1 8h0m4-11h0m1 11h0m7-10h0m0 17h0m6-16h0m1-4h0m1-4h0m8 10h0m158-9h0m1 11h0m16 9h0m21-26h0m1 3h0m-477 34h0m1 8h0m8-1h0m169-6h0m0 4h0m1 8h0m0 4h0m1-10h0m1-10h0m1-3h0m1 17h0m6-12h0m3 20h0m5-4h0m1 4h0m2-3h0m8-13h0m1 15h0m0-10h0m8-2h0m1 11h0m2-22h0m2 5h0m5 11h0m0-4h0m2-4h0m1 2h0m1-5h0m1 9h0m0-10h0m1 0h0m0 8h0m0-3h0m1 11h0m11-20h0m0 26h0m0-13h0m3-4h0m2 11h0m0-5h0m1 6h0m2-19h0m1 0h0m1 3h0m5 3h0m2 12h0m4-4h0m2 7h0m0-17h0m3 1h0m4 15h0m159-21h0m8 0h0m1 18h0m5-20h0m2 7h0m7-5h0m1 12h0m6-15h0m8 28h0m4-7h0m7-16h0m14 11h0m7 5h0m16 1h0m-521 12h0m0 0h0m179 17h0m1-18h0m2 14h0m2 0h0m4-15h0m3 6h0m1-3h0m1 2h0m0 1h0m0-2h0m1 4h0m2 10h0m4-1h0m0-8h0m2-4h0m2 14h0m1-6h0m5-7h0m2 10h0m1-10h0m2 14h0m0-13h0m6 0h0m5 13h0m2-17h0m1 13h0m6-12h0m11 21h0m1-12h0m3-7h0m1 5h0m1-2h0m3-10h0m0 25h0m2-18h0m2 5h0m1 4h0m1 9h0m2-13h0m0 13h0m1-13h0m1-1h0m3-8h0m1 1h0m0 2h0m1 16h0m0-12h0m1 11h0m9 0h0m0-1h0m146 3h0m8-25h0m2 26h0m7-10h0m4-16h0m2 18h0m4-17h0m217 15h0m-694 41h0m13-19h0m14-5h0m0-2h0m2 13h0m1-13h0m3-1h0m4 17h0m165 6h0m5-8h0m2-9h0m2 12h0m2-1h0m2 10h0m3-23h0m1 12h0m1 11h0m3-16h0m1-9h0m3 7h0m1 2h0m0 4h0m4-14h0m1 14h0m3 13h0m4-15h0m1 10h0m3-5h0m1-16h0m1 19h0m0 9h0m3-2h0m1-5h0m4-6h0m1-12h0m4 20h0m1-6h0m2 9h0m9-17h0m2 4h0m3 11h0m1-17h0m0-3h0m2 0h0m1 10h0m6-2h0m2 10h0m2 5h0m8-8h0m2-8h0m7-1h0m0 0h0m0 6h0m1 5h0m1-14h0m1 12h0m5 5h0m129-1h0m23-15h0m14-9h0m4 17h0m68-16h0m-534 54h0m6-4h0m3-21h0m11 26h0m2-2h0m99-1h0m55-3h0m4 6h0m2-19h0m0-3h0m0-3h0m1 25h0m4-8h0m0-12h0m2 17h0m7 3h0m0-14h0m0-4h0m0 18h0m0-1h0m5-9h0m2-12h0m1-4h0m2 14h0m5 0h0m2-1h0m2-2h0m3-7h0m0 9h0m4 6h0m5-13h0m1 16h0m0-21h0m3 5h0m1 19h0m1 4h0m3-29h0m2 0h0m3 8h0m1 6h0m2 6h0m0-18h0m1 4h0m1 18h0m0-16h0m2 7h0m2-5h0m3 5h0m0 4h0m1 4h0m2-15h0m0-4h0m2 2h0m10 0h0m2-4h0m2 4h0m2 4h0m2 8h0m0-10h0m0 4h0m1 16h0m3 0h0m2-12h0m1 4h0m5-11h0m6 4h0m0 0h0m5 15h0m2-15h0m12 5h0m10-9h0m77 19h0m26-18h0m25 8h0m16-15h0m117-3h0m-591 56h0m13-13h0m15-3h0m7-3h0m3 19h0m136 1h0m1-4h0m3-20h0m0 7h0m2 10h0m0 3h0m1 5h0m2-3h0m3-5h0m3 3h0m2-18h0m0 11h0m3-13h0m0 6h0m0 17h0m4-20h0m7 8h0m2-10h0m3-2h0m5 25h0m2-4h0m0-8h0m1-15h0m3 9h0m2 5h0m14 8h0m3-8h0m5-9h0m1 20h0m0-3h0m5-12h0m3 18h0m1-24h0m2 16h0m5-11h0m1 1h0m0-3h0m5 12h0m0 0h0m7-5h0m7-6h0m1 1h0m0 0h0m3 2h0m6-8h0m5 6h0m0 2h0m4 0h0m9 12h0m4-7h0m4-13h0m0 13h0m1-15h0m2 22h0m1-19h0m2 3h0m1 4h0m3 1h0m2 4h0m12 12h0m3-3h0m1-14h0m3 4h0m9 1h0m4 3h0m1 1h0m22-3h0m2-6h0m8 14h0m11-20h0m8-3h0m10 3h0m2 17h0m8-3h0m13 3h0m48-12h0m40 4h0m-554 17h0m51 20h0m4-5h0m3 0h0m0-4h0m1 6h0m3 5h0m0-3h0m1 7h0m1-11h0m2 10h0m115 2h0m2-1h0m3-5h0m5 3h0m1-22h0m2 22h0m1-21h0m0 14h0m1-4h0m5 8h0m3-22h0m1 1h0m6 27h0m8-10h0m3 7h0m2-3h0m0-12h0m2 15h0m6-7h0m6 11h0m1-4h0m0-7h0m1 6h0m2-13h0m3-1h0m5 13h0m1-16h0m6 8h0m1-7h0m6 7h0m2 12h0m1 1h0m1-17h0m1-6h0m1 7h0m1-9h0m1 1h0m2 15h0m1-20h0m2 0h0m1 6h0m1 10h0m0 13h0m1-1h0m3 0h0m1-11h0m0-4h0m7 5h0m3-2h0m3 0h0m1 12h0m1-13h0m8-11h0m2 8h0m2-9h0m1 23h0m3 2h0m0-20h0m1 13h0m3 7h0m3-9h0m3-15h0m5 15h0m0 3h0m3 8h0m1-18h0m1 7h0m18-18h0m11 21h0m5-7h0m2 9h0m1-20h0m3 10h0m3 6h0m6-16h0m14-2h0m1 2h0m2 4h0m5 7h0m4-6h0m7 3h0m18 10h0m0-17h0m12-2h0m12 8h0m4 3h0m89-2h0m28-9h0m-551 39h0m7-3h0m9 17h0m0-10h0m7-4h0m2 7h0m2-6h0m2-12h0m3 3h0m3 11h0m4 3h0m9 10h0m0-11h0m91 9h0m4-9h0m3-1h0m4-4h0m2-5h0m0 0h0m1 18h0m0-12h0m3-3h0m2 10h0m7-1h0m2 4h0m2-12h0m1 1h0m4 4h0m1 11h0m1-10h0m2 0h0m2-15h0m5 24h0m2-20h0m3 19h0m1 3h0m1-14h0m0-10h0m1 12h0m2 12h0m2-24h0m8 11h0m2 0h0m1 4h0m1-6h0m1 1h0m5 4h0m1 10h0m0-13h0m1-3h0m0-9h0m0 11h0m2 5h0m3-5h0m5 12h0m1-3h0m2-10h0m0-9h0m2 11h0m1-3h0m0 9h0m1-19h0m4 28h0m3-12h0m4-15h0m1 8h0m2 8h0m1-17h0m3 16h0m2 11h0m1-16h0m2 9h0m2-20h0m2 1h0m1 14h0m5-2h0m7 0h0m3-5h0m6 10h0m2-11h0m0 19h0m0-17h0m1-1h0m4 14h0m11-18h0m1 17h0m3 1h0m4 5h0m1-10h0m5 4h0m3-11h0m4-11h0m3 3h0m1 10h0m8 3h0m5 0h0m2 7h0m0-3h0m5-5h0m2-9h0m7 8h0m3 11h0m3 3h0m4-7h0m2-11h0m5 7h0m7-4h0m0-3h0m8-1h0m22 19h0m9-3h0m3-19h0m2 6h0m19 0h0m-550 42h0m107-9h0m5 10h0m12-4h0m0-3h0m1 8h0m12-5h0m5-8h0m6-3h0m4 7h0m8 8h0m0-15h0m1-9h0m1 9h0m3 17h0m11-13h0m2 0h0m0 4h0m2 1h0m45 3h0m6-2h0m0 5h0m1-10h0m1 7h0m1-7h0m1 2h0m0 9h0m2-2h0m1-8h0m3 7h0m0-10h0m1 15h0m1-28h0m1 9h0m2-9h0m1 20h0m0-10h0m1-2h0m1-6h0m1 6h0m0-4h0m2-5h0m0 21h0m1 4h0m0-3h0m1-21h0m2 26h0m2-3h0m1 0h0m1 4h0m3-22h0m1 13h0m3 11h0m0-4h0m1-17h0m0-9h0m1 3h0m13-2h0m4 0h0m1 28h0m1-4h0m2-18h0m3-4h0m0 14h0m3 7h0m2 3h0m1-18h0m1-4h0m6 20h0m6 0h0m1-3h0m1 7h0m1-11h0m1 9h0m3-5h0m2-6h0m0 11h0m2-14h0m5 3h0m0-6h0m3 12h0m0-6h0m1 14h0m0-24h0m1 15h0m0 9h0m2-30h0m1 8h0m0 14h0m3-21h0m3 21h0m0-15h0m1 22h0m1-22h0m1 23h0m1-1h0m1-6h0m0-6h0m1 9h0m1-11h0m1 0h0m0-3h0m1 13h0m1-2h0m1-22h0m1 5h0m0 11h0m1-16h0m0 27h0m6-10h0m2-1h0m3 3h0m3-18h0m1 17h0m2-8h0m5 9h0m1-8h0m1 2h0m1 10h0m3-18h0m1 18h0m4 0h0m0 2h0m0-14h0m1 17h0m0-11h0m8-11h0m7 16h0m0 1h0m5-24h0m0 15h0m1 5h0m3-15h0m2 15h0m2-7h0m5 5h0m0-11h0m0 6h0m4-6h0m3-2h0m2 8h0m1 16h0m4-1h0m2-9h0m0-5h0m1 12h0m1-21h0m4 22h0m2 0h0m3-7h0m11 1h0m0 4h0m1 2h0m3-22h0m1 13h0m2 6h0m1-13h0m7-9h0m1 20h0m1-12h0m2 14h0m9-4h0m2-11h0m4 14h0m0 7h0m1-10h0m0-3h0m1 9h0m0-5h0m4-13h0m1 0h0m19 13h0m56-4h0m-630 31h0m162 6h0m7-10h0m6-3h0m3 8h0m2 7h0m6-16h0m5-1h0m3-8h0m2 10h0m3 13h0m1-22h0m1 15h0m6-13h0m0 11h0m12-1h0m0-10h0m3-2h0m2-2h0m57 7h0m0-4h0m2-3h0m1 5h0m2-5h0m1 1h0m3 15h0m1-11h0m3 12h0m1 11h0m2-20h0m0-7h0m1 22h0m0-9h0m4 4h0m3 9h0m1-2h0m1-11h0m4-9h0m2 9h0m2-8h0m1 23h0m0-3h0m8-7h0m3-2h0m0-11h0m2 0h0m1 20h0m1 3h0m1-4h0m1-18h0m1 19h0m1-9h0m8 8h0m2-19h0m1 4h0m2-8h0m0 18h0m3-6h0m0 4h0m1 1h0m1 6h0m0-21h0m0 18h0m0-4h0m1 4h0m2-18h0m0 17h0m2-4h0m1 5h0m2-22h0m6 3h0m2-2h0m8 1h0m2 2h0m6 4h0m2-7h0m2 11h0m0-10h0m4 0h0m2 1h0m1-3h0m4 8h0m1 10h0m0-18h0m3 3h0m1 8h0m1 10h0m0-5h0m0-10h0m1 13h0m1-18h0m4 23h0m1-1h0m0-12h0m0 8h0m1-11h0m1 10h0m0-1h0m1 5h0m0-16h0m0-6h0m1 23h0m0 6h0m0-16h0m1 14h0m1 1h0m0 2h0m2-5h0m1 3h0m0-13h0m1-9h0m2 22h0m1-14h0m3-8h0m2 1h0m1 2h0m0 0h0m1 6h0m0 12h0m0-11h0m1 1h0m3 10h0m0-13h0m2 2h0m1-7h0m1 10h0m0 6h0m0 3h0m0-23h0m3 21h0m3-4h0m4 2h0m0-7h0m0 6h0m0-14h0m1 11h0m1 1h0m3-4h0m0-3h0m1 1h0m2-8h0m0-5h0m1 13h0m1-9h0m3 9h0m1-9h0m3-1h0m2 10h0m1-5h0m1 3h0m1-12h0m6 11h0m2-10h0m1 6h0m1-2h0m1 0h0m1-1h0m1-4h0m4 0h0m0 0h0m8 6h0m0 0h0m6-4h0m11-2h0m5 5h0m1-2h0m2-3h0m12 6h0m2-2h0m2 0h0m2-2h0m5 8h0m2-6h0m1 3h0m2-5h0m2 7h0m6-10h0m2 14h0m3-8h0m1 7h0m3-7h0m4 0h0m3 1h0m1 1h0m4 10h0m4-10h0m4 7h0m1 0h0m2-6h0m11-5h0m1 18h0m1 1h0m3 4h0m1-19h0m1 10h0m0 7h0m4 0h0m0 1h0m136-25h0m-654 59h0m39-4h0m2-14h0m2 10h0m0 8h0m7 0h0m1-5h0m3-6h0m7 3h0m4-15h0m3 5h0m2-8h0m1 5h0m2-2h0m1-1h0m1 3h0m2-3h0m0-2h0m135-3h0m0 3h0m2 1h0m1 0h0m1-5h0m1 7h0m5 0h0m2-2h0m4 11h0m2 0h0m4 3h0m1-4h0m1 7h0m3-2h0m4-16h0m4 3h0m0-1h0m6-5h0m35 22h0m151-5h0m58-15h0m8 6h0m7 7h0m2 2h0m8 0h0m2 3h0m5-2h0m0-5h0m1 8h0m17 7h0m2-3h0m8-11h0m29 11h0m-582 21h0m12 1h0m12-8h0m7-2h0m0 16h0m0-20h0m2 2h0m7 1h0m394 19h0m87-25h0m6 4h0m5 4h0m2 6h0m6 11h0m8 1h0m6-2h0m2 4h0m15-17h0m-578 48h0m13-24h0m6 10h0m3-11h0m0 9h0m1-3h0m1 17h0m1-9h0m1-18h0m0 4h0m523 6h0m0 9h0m0-15h0m1 16h0m1 7h0m18-10h0m8-16h0m137 2h0m-707 44h0m12-17h0m1 25h0m5-20h0m1 15h0m1-17h0m1 7h0m2 6h0m2 13h0m182-11h0m337 2h0m1-6h0m3 4h0m1 5h0m2-21h0m2 13h0m2-8h0m0 14h0m0 6h0m1-15h0m5 4h0m4-11h0m11 15h0m28-18h0m-596 31h0m2 1h0m14 25h0m3-4h0m120-26h0m176 3h0m221 11h0m6 12h0m1-22h0m3 7h0m3-10h0m4 29h0m7-29h0m2 27h0m-554 20h0m9 11h0m6-27h0m5 16h0m11 9h0m23 3h0m171-3h0m1-10h0m1 9h0m1 0h0m8-8h0m0 3h0m2 5h0m8 1h0m3-20h0m0 14h0m2 0h0m5 2h0m10 6h0m226-26h0m13 24h0m10-8h0m4-12h0m1-5h0m0 7h0m0-7h0m3 3h0m2-2h0m3 13h0m4-2h0m1-10h0m2 6h0m12 1h0m10 9h0m-559 27h0m4-5h0m15-9h0m4 8h0m4-6h0m4-3h0m0 1h0m1 13h0m3-6h0m1 1h0m4-6h0m9 11h0m7 4h0m4 2h0m3 6h0m0 2h0m4-1h0m125-4h0m3-8h0m2-1h0m3 12h0m4-4h0m0-7h0m4-1h0m3-8h0m1-1h0m1 14h0m0-15h0m2 21h0m2-10h0m4 11h0m2 2h0m0-27h0m1 7h0m9 0h0m2-8h0m9 15h0m0-4h0m0 2h0m1-3h0m0-3h0m7 3h0m0 5h0m1-2h0m3-5h0m7 17h0m0-22h0m0 9h0m1-4h0m1 11h0m1-5h0m0 7h0m2-16h0m1 19h0m0-25h0m0 21h0m9-15h0m2 21h0m5-25h0m0 14h0m1-4h0m2 4h0m1 6h0m0-7h0m3-9h0m6 8h0m4 5h0m0 1h0m3-3h0m3 12h0m0-15h0m1 10h0m5-3h0m4 3h0m1 0h0m5 4h0m58-12h0m53-15h0m48 22h0m3-2h0m9 5h0m0-14h0m2-1h0m4 14h0m3 3h0m0-17h0m2 13h0m1-23h0m6 25h0m3-6h0m5-13h0m2 11h0m1-4h0m2 8h0m29-15h0m3 19h0m62-7h0m52-2h0m-787 21h0m17-2h0m126 7h0m28-12h0m12-2h0m2 11h0m3 1h0m0-2h0m9-5h0m1 5h0m1-8h0m2 5h0m3-2h0m1 6h0m1 8h0m1 0h0m10-7h0m3 7h0m11-2h0m7-3h0m5 3h0m2-4h0m2-1h0m2 6h0m3-9h0m2 6h0m2 4h0m0-8h0m2 6h0m7 1h0m0-3h0m1-1h0m2 6h0m4-9h0m10-8h0m2 4h0m0-2h0m3-3h0m3 1h0m2 9h0m4 3h0m2-14h0m0 16h0m9-10h0m0-5h0m22 0h0m4 15h0m15-8h0m10-9h0m14 4h0m5-3h0m5 2h0m12 3h0m0 11h0m5 3h0m7-20h0m0 7h0m9-1h0m8-6h0m4 15h0m4-2h0m1 1h0m1-3h0m3 3h0m7-3h0m4 2h0m1-4h0m1 2h0m2 4h0m2-2h0m2-4h0m1 8h0m3-9h0m2 6h0m0 7h0m18-1h0m74 0h0m1-2h0m14-6h0m1 6h0m5-9h0m0 3h0m1 0h0m0 2h0m1 0h0m3-1h0m9-10h0m4 0h0m6 9h0m10-8h0m1 5h0"/>
<path transform="scale(.1)" fill="none" stroke="#000" stroke-width="5.0" d="M4860 2225l-14 2-18 0-18-3-14-4-26-12-40-28-27-9-23-10-7-2-10 3-33 29-24 15-16 5-17 4-15 0-18-1-24-8-23-12-21-19-15-23-5-12-5-15-2-27 4-28 10-25 13-20 16-16 22-15 39-22 6-4 3-6-1-7-21-31-14-26-10-30-8-33-4-37-2-40 2-38 6-50-1-15-6-13-23-24-9-10-7-13-3-13-1-10 2-10 8-17 14-16 20-13 26-10 27-5 27-1 26 5 24 10 20 13 16 17 5 10 3 10 1 13-2 14-4 13-14 27-4 16 1 14 8 53 2 37-2 46-5 42-11 40-12 30-14 23-24 29 0 6 4 7 42 38 8 5 8 2 4-2 6-4 14-21 7-8 6-4 7-3 8-1 8 2 24 17 10 2 10-2 33-16 20-6 25-2 22 2 18 5 12 5 26 15 21 21 14 22 11 28 2 15 1 15-1 15-2 15-11 28-14 22-21 21-26 15-14 5-16 4M4853 1858l-17 1-16-3-14-10-16-16-12-20-9-22-6-28-3-28 0-30 4-27 6-25 10-22 12-20 14-14 14-10 18-4 15 2 15 7 13 11 12 15 11 20 8 23 6 24 2 26 0 27-3 25-5 22-8 23-11 20-12 15-13 11-15 7M4583 1943l-10-1-7-3-8-5-10-10-15-22-12-30-7-22-4-22-6-53 1-45 8-60 0-12-3-8-4-8-25-24-10-13-7-13-3-14 1-13 5-13 8-12 13-12 15-9 17-8 20-5 20-2 23 0 20 4 17 6 18 10 14 11 10 13 6 12 2 15 0 10-3 13-18 34-5 16 1 14 9 53 2 40-2 47-8 46-11 37-15 28-7 10-10 10-10 6-10 4M4846 1843l-16-1-12-5-13-9-12-16-9-17-8-20-5-23-2-24 1-26 3-22 6-22 8-20 11-17 12-13 13-8 15-3 15 2 13 6 12 11 10 13 10 19 6 20 5 22 2 22-1 26-3 22-5 20-8 20-11 18-10 11-13 9-14 5M4860 2220l-17 2-17 0-18-4-15-4-25-14-38-28-30-10-20-11-7-2-5 1-5 3-24 25-13 11-13 8-15 7-20 5-20 2-20-3-18-5-20-10-16-13-15-18-10-17-7-20-3-23 2-22 6-20 7-15 8-13 9-10 12-10 15-11 15-8 17-7 18-5 18-1 17 6 23 14 32 26 5 3 5 1 8-4 22-31 8-6 7-3 13 2 22 15 10 3 12-4 33-16 27-8 18-1 15 1 15 3 15 5 17 9 16 10 14 15 11 15 11 20 5 17 3 20 0 20-4 18-7 20-9 18-12 14-15 14-15 10-18 9-20 5M4583 1915l-7 0-8-2-8-5-7-7-13-19-11-24-6-20-4-23-4-47 1-40 9-58 0-15-7-13-27-24-11-13-8-15-2-12 1-13 5-13 7-10 13-11 12-7 18-8 17-4 17-2 20 0 18 3 18 6 14 8 14 11 10 12 6 12 2 13-1 10-3 13-22 37-5 15 1 12 10 48 3 38-1 44-7 43-10 33-13 24-8 11-8 6-8 4-7 2M4848 1810l-10 1-10-2-10-6-10-11-8-12-7-18-4-17-1-17 0-18 2-18 4-17 6-15 8-12 10-11 10-6 10-2 10 1 10 4 10 8 7 10 7 13 5 15 4 15 1 17 0 18-2 18-3 14-6 16-7 12-8 10-8 6-10 4M4856 2213l-16 1-17-1-17-4-16-5-12-7-12-9-36-30-30-12-22-15-5-2-5 1-5 4-19 26-14 15-14 11-16 8-17 6-20 2-20-1-20-5-17-9-16-12-13-15-10-18-7-20-2-20 1-20 6-20 6-12 8-12 19-20 12-9 13-6 13-5 14-4 13-1 13 1 12 3 12 5 20 13 33 31 7 4 6-1 2-3 15-26 7-10 6-4 7-3 10 1 23 14 10 2 10-4 34-20 26-8 14-2 18 0 15 2 15 5 18 9 14 10 14 13 11 15 9 18 5 17 3 17-1 20-3 18-6 18-10 17-12 14-14 13-16 9-17 7-17 5M4588 1885l-10 2-8-2-7-5-7-8-8-11-6-13-10-33-5-35 0-35 4-35 11-45-1-13-3-4-7-8-28-22-11-10-8-13-5-15 1-12 3-10 6-10 9-9 10-8 15-7 17-5 16-2 17-1 17 2 18 5 12 6 13 9 10 10 7 12 3 12-1 13-5 15-8 12-19 26-5 12 1 12 12 46 4 30 1 40-5 37-8 27-9 20-11 15-12 8M4846 1761l-6 1-4-1-9-6-8-13-3-14 0-18 4-15 8-12 5-3 5-2 5 0 5 2 7 8 6 10 3 14 0 16-4 15-7 12-7 6M4846 2205l-16 0-14-2-16-4-14-8-23-16-33-35-7-5-20-7-7-6-7-7-10-17-3-10 0-10 3-16 6-17 5-11 8-8 5-3 7 0 8 3 15 9 10 1 10-5 27-20 16-8 22-7 22-2 20 3 23 8 20 12 16 15 9 13 7 13 4 12 3 15 1 15-1 15-3 15-4 12-7 13-9 13-10 10-11 9-12 7-13 5-15 5-12 1M4576 2193l-20 1-18-2-18-7-17-10-15-14-11-16-7-17-4-18 0-20 4-18 7-17 10-15 13-13 16-11 17-7 20-5 17 0 16 3 17 7 15 11 14 13 13 17 10 17 5 18-1 15-5 17-8 18-11 18-12 12-15 11-15 7-17 5M4580 1855l-7-1-7-5-12-17-9-27-5-33 1-30 5-30 7-22 15-28 1-7-3-5-7-5-36-21-18-14-12-15-4-7-2-10 1-10 4-10 7-10 9-8 10-7 12-5 16-4 14-2 16 0 14 3 16 4 12 7 10 7 8 9 6 10 2 13-2 15-8 15-14 16-26 24-5 5-2 5 2 5 17 26 7 20 6 29 1 33-4 34-9 28-5 10-6 8-8 5-8 2M4858 2195l-25 2-23-3-22-10-18-13-15-19-25-36-7-6-17-8-7-7-4-10 0-13 2-12 5-8 4-2 4-1 6 2 12 8 5 0 5-1 8-5 24-24 16-11 20-10 20-5 20 0 20 3 20 9 17 13 10 10 7 10 7 12 5 12 3 26 0 14-3 13-4 13-6 12-16 20-10 9-13 7-13 6-12 3M4573 2185l-17 1-18-3-15-5-15-9-12-12-11-15-7-14-4-18 0-18 3-14 5-16 9-14 12-13 15-11 18-8 14-3 18 0 15 2 15 6 15 10 13 12 10 15 8 17 3 15 1 15-4 17-7 18-8 12-12 13-14 10-15 7-15 3M4578 1633l-18-2-22-7-20-12-15-14-7-16 1-14 6-14 13-12 12-7 15-5 17-2 18 0 15 3 15 6 12 8 9 10 5 10 2 13-2 12-5 10-11 12-12 10-16 8-12 3M4586 1813l-6 2-4-1-6-4-3-5-7-17-3-23 1-23 5-19 7-13 6-4 4-1 8 4 8 11 4 15 3 20-1 20-3 17-6 13-7 8M4840 2190l-17-1-17-5-16-7-14-12-13-15-11-18-7-20-3-14 2-16 6-14 11-18 14-15 13-10 15-8 17-5 16-2 17 1 17 5 16 7 14 12 11 13 9 14 6 18 2 18-1 17-5 17-7 16-12 14-13 11-14 9-18 6-18 2M4573 2178l-17 1-16-3-14-5-13-8-12-11-9-12-7-15-3-15-1-15 3-15 5-15 8-13 11-11 12-10 16-7 14-3 16-1 14 3 16 6 12 8 11 11 9 12 7 15 4 15 0 15-2 15-6 15-8 13-10 10-13 10-12 6-15 4M4580 1623l-17 0-17-4-19-9-14-12-8-13-1-13 4-12 8-10 11-8 13-5 16-3 14-1 16 2 13 5 11 6 10 9 6 10 2 10-1 10-4 10-7 9-10 9-13 6-13 4M4846 2183l-16 0-17-4-15-6-12-9-13-12-10-14-6-16-4-17 0-15 4-15 7-15 9-12 13-12 14-10 16-6 14-3 16 0 17 4 15 6 12 9 12 12 9 12 6 15 4 17 0 16-4 17-6 15-9 12-12 12-12 9-15 6-17 4M4576 2170l-13 2-15-1-15-4-13-7-12-10-8-10-6-12-4-13-2-13 1-14 5-16 6-12 8-10 12-10 13-7 13-4 12-1 15 1 13 3 12 6 12 10 8 10 8 12 4 15 2 13-1 14-4 13-7 14-8 11-12 9-12 7-12 4M4580 1615l-14 1-16-2-15-6-13-10-8-10-2-13 2-10 7-10 9-7 10-5 13-3 13-1 12 1 12 3 11 5 10 7 5 7 4 10 0 10-3 8-5 8-9 8-10 5-13 4M4850 2175l-14 1-16-2-14-5-13-7-11-10-9-12-8-15-4-15 0-15 2-13 5-14 8-13 10-11 12-9 12-6 16-4 14-1 16 2 14 5 13 7 11 10 9 12 6 12 4 16 1 14-2 16-5 14-7 13-10 10-12 10-12 6-16 4M4560 2165l-12-1-12-4-13-7-10-8-8-10-5-10-4-13-1-12 1-12 4-13 5-10 8-10 10-9 13-6 12-4 12-1 13 1 13 4 10 5 10 8 7 9 7 13 4 13 1 12-1 12-4 13-7 13-7 8-10 8-10 6-13 4-13 1M4580 1608l-12 1-15-1-13-5-10-7-7-8-3-10 2-10 4-8 7-6 7-4 10-4 13-1 13 0 10 2 10 5 7 5 6 8 3 7 0 8-3 8-5 7-6 5-8 5-10 3M4856 2168l-13 2-15-1-12-3-13-5-11-9-10-10-7-12-5-12-2-16 0-12 3-12 6-13 9-11 10-10 12-7 12-5 13-2 15 1 12 3 13 5 11 9 10 10 7 12 5 12 2 13-1 15-3 12-5 13-9 11-10 10-12 7-12 5M4568 2158l-12 0-10-2-10-3-10-6-8-7-8-10-5-10-3-12 0-13 2-10 3-10 6-10 7-8 10-7 10-5 13-3 13 0 10 1 10 4 10 6 7 7 7 10 5 10 3 12 0 13-2 10-3 10-6 10-9 9-8 6-10 5-12 3M4568 1603l-12-2-10-3-8-6-7-7-2-7 1-8 4-8 9-6 15-5 18 0 15 7 6 4 4 6 2 4 0 8-5 10-12 9-8 2-10 2M4848 2163l-12 1-13-2-13-5-10-6-9-9-8-10-5-10-3-12-1-12 2-13 5-13 6-10 9-9 10-8 10-4 12-4 12-1 13 2 13 5 10 6 9 9 8 10 4 10 4 12 1 12-2 13-5 13-6 10-9 9-10 8-10 4-12 4M4570 2150l-10 1-10 0-10-3-9-6-8-6-6-8-7-18-1-10 0-10 4-10 5-10 7-8 8-6 17-7 10-1 10 1 18 8 8 5 7 10 5 8 3 10 1 10-1 10-4 10-4 8-5 7-9 7-9 5-10 3M4578 1593l-15 1-7-1-8-4-5-4-3-5 0-8 3-4 7-7 13-3 13 1 10 5 6 8 0 8-5 8-9 5M4853 2155l-10 2-13 0-10-3-10-4-10-7-7-8-6-10-4-10-2-10 0-13 2-10 5-10 7-10 8-7 10-6 10-4 10-2 13 0 10 3 10 4 10 7 7 8 6 10 4 10 2 10 0 13-3 10-4 10-7 10-8 7-10 6-10 4M4570 2143l-17 1-7-2-10-4-6-6-7-7-6-15-1-18 3-10 4-7 13-12 14-7 18 0 15 6 13 11 4 9 3 8 1 18-6 15-5 7-7 6-16 7M4570 1581l-4 1-6-1-3-3 1-4 2-3 6-1 7 2 2 6-5 3M4846 2150l-10 1-10-2-10-4-8-4-8-7-6-9-6-17-1-10 2-10 4-10 4-8 7-8 9-6 17-6 10-1 10 2 10 4 8 4 8 7 6 9 6 17 1 10-2 10-4 10-4 8-7 8-9 6-17 6M4570 2135l-14 1-13-4-12-10-6-12-1-15 4-13 10-12 12-6 16-1 12 5 11 10 6 12 1 15-4 13-9 11-13 6M4848 2143l-18 0-15-5-7-6-6-7-7-15 0-18 5-15 6-7 7-6 15-7 18 0 15 5 7 6 6 7 7 15 0 18-5 15-12 12-8 5-8 3M4563 2128l-10-1-10-5-7-9-4-11 1-10 5-10 9-7 11-3 10 1 10 5 7 10 3 10-1 10-5 10-9 7-10 3M4846 2136l-16 0-12-6-10-10-6-12 0-16 6-12 10-10 12-6 16 0 12 6 10 10 6 12 0 16-6 12-10 10-12 6M4566 2115l-8 1-5-2-5-3-3-6-1-7 2-6 4-4 6-3 7-1 5 2 5 4 2 5 1 7-2 6-4 4-4 3M4838 2128l-10-2-10-7-6-9-2-10 2-10 7-10 9-6 10-2 10 2 9 6 7 10 2 10-2 10-6 9-10 7-10 2M4840 2115l-5 0-6-3-4-4-2-6 0-5 3-6 4-4 6-2 5 0 6 3 4 4 2 6 0 5-3 6-4 4-6 2"/>
<rect x="431.3" y="137.5" width="86.20" height="86.30" fill="none" stroke="#6a6a6a" stroke-width="0.9"/>
<path stroke="#6a6a6a" stroke-width="0.8" d="M470.3 137.5V223.8M431.3 192.8H517.5"/>
<g font-family="'Liberation Sans', sans-serif" font-size="8.5" fill="#111" stroke="#fff" stroke-width="1.6" paint-order="stroke" stroke-linejoin="round">
<text x="432.9" y="146.0">18.5%</text>
<text x="515.9" y="146.0" text-anchor="end">6.8%</text>
<text x="515.9" y="222.2" text-anchor="end">52.4%</text>
</g>
<path stroke="#555" stroke-width="0.5" d="M429.8 145.4H431.3M429.8 164.2H431.3M429.8 184.1H431.3M429.8 205.1H431.3M429.8 214.6H431.3M441.5 223.8V225.3M450.4 223.8V225.3M470.9 223.8V225.3M490.2 223.8V225.3M509.0 223.8V225.3M430.5 158.2H431.3M430.5 154.7H431.3M430.5 152.2H431.3M430.5 150.3H431.3M430.5 148.7H431.3M430.5 147.4H431.3M430.5 146.2H431.3M430.5 178.1H431.3M430.5 174.6H431.3M430.5 172.1H431.3M430.5 170.2H431.3M430.5 168.6H431.3M430.5 167.3H431.3M430.5 166.1H431.3M430.5 165.1H431.3M430.5 199.1H431.3M430.5 195.6H431.3M430.5 193.1H431.3M430.5 191.2H431.3M430.5 189.6H431.3M430.5 188.3H431.3M430.5 187.1H431.3M430.5 186.1H431.3M456.2 223.8V224.60000000000002M459.6 223.8V224.60000000000002M462.0 223.8V224.60000000000002M463.9 223.8V224.60000000000002M465.4 223.8V224.60000000000002M466.7 223.8V224.60000000000002M467.8 223.8V224.60000000000002M468.8 223.8V224.60000000000002M476.7 223.8V224.60000000000002M480.1 223.8V224.60000000000002M482.5 223.8V224.60000000000002M484.4 223.8V224.60000000000002M485.9 223.8V224.60000000000002M487.2 223.8V224.60000000000002M488.3 223.8V224.60000000000002M489.3 223.8V224.60000000000002M496.0 223.8V224.60000000000002M499.4 223.8V224.60000000000002M501.8 223.8V224.60000000000002M503.7 223.8V224.60000000000002M505.2 223.8V224.60000000000002M506.5 223.8V224.60000000000002M507.6 223.8V224.60000000000002M508.6 223.8V224.60000000000002"/>
<g font-family="'Liberation Sans', sans-serif" fill="#222">
<text x="429.1" y="146.8" font-size="4.8" text-anchor="end">10<tspan font-size="3.4" dy="-1.8">5</tspan></text>
<text x="429.1" y="165.6" font-size="4.8" text-anchor="end">10<tspan font-size="3.4" dy="-1.8">4</tspan></text>
<text x="429.1" y="185.5" font-size="4.8" text-anchor="end">10<tspan font-size="3.4" dy="-1.8">3</tspan></text>
<text x="429.1" y="206.5" font-size="4.8" text-anchor="end">10<tspan font-size="3.4" dy="-1.8">2</tspan></text>
<text x="429.1" y="216.0" font-size="4.8" text-anchor="end">0</text>
<text x="441.5" y="232.4" font-size="4.8" text-anchor="middle">0</text>
<text x="450.4" y="232.4" font-size="4.8" text-anchor="middle">10<tspan font-size="3.4" dy="-1.8">2</tspan></text>
<text x="470.9" y="232.4" font-size="4.8" text-anchor="middle">10<tspan font-size="3.4" dy="-1.8">3</tspan></text>
<text x="490.2" y="232.4" font-size="4.8" text-anchor="middle">10<tspan font-size="3.4" dy="-1.8">4</tspan></text>
<text x="509.0" y="232.4" font-size="4.8" text-anchor="middle">10<tspan font-size="3.4" dy="-1.8">5</tspan></text>
</g>
<path stroke="#111" stroke-width="1" d="M431.8 238.20000000000002H513.5"/>
<path fill="#111" d="M516.5 238.20000000000002L511.5 236.3L511.5 240.10000000000002z"/>
<text x="467.5" y="252.0" font-family="'Liberation Sans', sans-serif" font-size="11" fill="#000" stroke="#000" stroke-width="0.15" text-anchor="middle">IFNγ</text>
<path transform="scale(.1)" stroke="#5a5a5a" stroke-width="6.2" stroke-linecap="square" d="M4801 2602h0m360 10h0m-171 38h0m13 3h0m-523 31h0m273-22h0m191 20h0m3-1h0m14 0h0m-539 23h0m9-3h0m1 5h0m1 0h0m0 6h0m5-5h0m1 6h0m9-16h0m57 9h0m19 5h0m35-1h0m129 0h0m67-1h0m62-10h0m17 7h0m32 4h0m6-6h0m8-16h0m16-1h0m7 26h0m1 1h0m3-2h0m2-18h0m1 12h0m3-3h0m1 2h0m0 8h0m6-4h0m4-7h0m0 7h0m3 4h0m4-3h0m0 3h0m6-3h0m4-1h0m3 3h0m1-6h0m0 2h0m0-2h0m10 6h0m0 1h0m1-8h0m4 1h0m1-10h0m1 19h0m6-6h0m8 2h0m0-3h0m2 0h0m2 6h0m2-29h0m3 20h0m4 9h0m5-6h0m18-4h0m26 8h0m4-8h0m62 4h0m-676 28h0m13 2h0m12-14h0m2 5h0m3 3h0m2 2h0m0-4h0m4 10h0m4 1h0m0-15h0m7 11h0m1-6h0m12 6h0m2-3h0m77-18h0m1 11h0m17 0h0m58 13h0m36 2h0m16-1h0m9-9h0m4 8h0m24-6h0m7-2h0m29-7h0m44 16h0m11 2h0m6 0h0m4-1h0m8-1h0m1 3h0m0-12h0m0 12h0m1-5h0m0-20h0m4 9h0m0 7h0m1 5h0m2-4h0m1-1h0m1 3h0m6-15h0m1 6h0m11-6h0m1-4h0m5 7h0m6-2h0m2-3h0m12-4h0m83 0h0m1 0h0m11 0h0m4 0h0m1 3h0m4 6h0m0 0h0m2-1h0m13-2h0m2-3h0m5-2h0m5 19h0m12-4h0m4-2h0m8-9h0m0 10h0m0-2h0m3-7h0m1 10h0m10 0h0m1 9h0m6 0h0m5 2h0m1-13h0m-705 23h0m10-5h0m8-2h0m10 2h0m5 6h0m3 2h0m1 17h0m0-15h0m20 6h0m3-14h0m3 6h0m1-6h0m1 9h0m0 9h0m2-7h0m1 10h0m5-9h0m1 1h0m4-2h0m0 6h0m0-22h0m3 3h0m2 5h0m10 12h0m0-1h0m4-6h0m1 12h0m3-1h0m1 4h0m0-19h0m5 19h0m2-6h0m1-12h0m6 17h0m1-4h0m6 4h0m8-10h0m4 5h0m2-14h0m2 13h0m4 0h0m6-6h0m33 0h0m15-15h0m14 22h0m1-9h0m5 15h0m4 1h0m3-22h0m4 17h0m17-16h0m1 9h0m8-1h0m10 0h0m3 1h0m1 8h0m11-15h0m5-1h0m19-2h0m8-6h0m10 18h0m8 3h0m1-7h0m0-15h0m8 16h0m11 7h0m6-19h0m8 8h0m5 14h0m4-15h0m0-11h0m1 5h0m1 17h0m9-1h0m10-11h0m3 4h0m2-6h0m0 10h0m2 3h0m3-8h0m2 4h0m3-2h0m0 10h0m3-14h0m2 16h0m3-25h0m0 12h0m2 0h0m1-4h0m0 9h0m6-10h0m1 13h0m3-3h0m1-2h0m4-3h0m5-7h0m0 11h0m7-13h0m8-2h0m1 4h0m2-3h0m205-1h0m7 8h0m2-5h0m0 8h0m3-12h0m2 5h0m1 3h0m3 10h0m1-16h0m0 2h0m1 21h0m2-14h0m0 9h0m3-5h0m1 11h0m13-27h0m15 28h0m12-25h0m24 0h0m27 13h0m-765 23h0m7-6h0m21 13h0m1 0h0m3 1h0m5 5h0m0-13h0m0 10h0m0-10h0m1 13h0m0 3h0m1-1h0m6-17h0m4 1h0m2-3h0m47-5h0m5 10h0m0-2h0m5 4h0m3 4h0m2-8h0m2 9h0m1 1h0m2-8h0m2-8h0m8 23h0m13-2h0m0-22h0m9 21h0m5-16h0m14-2h0m2 16h0m5 7h0m10-19h0m2 9h0m5 5h0m1-18h0m4 9h0m2 0h0m10 10h0m7-15h0m17-8h0m13 7h0m6 0h0m1 0h0m18-7h0m212 25h0m172-16h0m12 5h0m0 9h0m1 4h0m1-16h0m3-12h0m0 17h0m3-11h0m1 3h0m1 7h0m0-14h0m1 7h0m1-5h0m4 15h0m2-16h0m6 14h0m58-14h0m-763 56h0m25-19h0m13 2h0m2 9h0m4-18h0m5 1h0m0-2h0m1 2h0m76 4h0m2-1h0m0-7h0m1 4h0m0 9h0m2 0h0m1 11h0m1-16h0m1 0h0m2 20h0m1-7h0m1-5h0m0 6h0m0-12h0m2 18h0m0-4h0m1-6h0m0-10h0m3 15h0m2-7h0m7-8h0m5 18h0m2 2h0m5-24h0m3 10h0m1 1h0m2-2h0m4 1h0m7 14h0m8-18h0m2-3h0m3 21h0m8-13h0m4 5h0m1-5h0m3-10h0m1 15h0m0-11h0m457 18h0m3-9h0m2 8h0m1-13h0m0-3h0m0 4h0m1-11h0m0 2h0m4-1h0m0-4h0m3 22h0m1-17h0m3 14h0m0-15h0m2 2h0m0-3h0m1 22h0m1-13h0m1-6h0m3 16h0m1-10h0m2-5h0m5 16h0m4-7h0m2 12h0m14-23h0m1 5h0m-711 37h0m4 5h0m13-23h0m9 3h0m3 7h0m81 7h0m10-11h0m7 16h0m0-18h0m7 25h0m0-25h0m4 0h0m9 14h0m4-17h0m21 22h0m8-11h0m8 10h0m4-1h0m1-7h0m1 10h0m1-20h0m1 1h0m1 10h0m2-12h0m7 24h0m370 0h0m60 2h0m6-15h0m3 9h0m0-4h0m2 0h0m1-14h0m2 7h0m1 14h0m1-25h0m2 3h0m0 23h0m2-7h0m3-14h0m1-6h0m1 26h0m6-20h0m10 4h0m3-1h0m8-9h0m77 19h0m-757 38h0m1-1h0m2-1h0m2-10h0m4 10h0m4-6h0m104-16h0m2 17h0m1 3h0m3-13h0m1 6h0m5-11h0m5 20h0m12-4h0m7-8h0m3 7h0m20-13h0m7 7h0m2 10h0m0-24h0m2 5h0m5 3h0m10-7h0m5 12h0m5-3h0m3 15h0m33-9h0m360 9h0m1-2h0m1-6h0m6-5h0m3-10h0m1 4h0m1-5h0m2 2h0m0 9h0m1 14h0m1-24h0m2 8h0m1 6h0m1 14h0m1-23h0m2 11h0m8-12h0m1-5h0m5 24h0m2-25h0m14 10h0m9 17h0m10-10h0m-677 31h0m2-13h0m2 19h0m3-9h0m0 6h0m112-20h0m3 16h0m21-14h0m3 5h0m3-6h0m10 14h0m3-5h0m1-10h0m15 16h0m6-3h0m1 0h0m9 12h0m3-11h0m2 8h0m12-8h0m4 4h0m2 4h0m1-4h0m12-2h0m4-5h0m0 2h0m6 14h0m1 1h0m0-2h0m12-3h0m0-11h0m4 13h0m34 2h0m314-6h0m2-21h0m1 0h0m3 2h0m0 3h0m2-5h0m9 19h0m1-1h0m3-12h0m4 19h0m6-6h0m6 8h0m3-28h0m82 12h0m-739 20h0m3 25h0m1-3h0m1-4h0m0-17h0m3 26h0m8-12h0m1 8h0m119-5h0m2 7h0m1 2h0m2-23h0m15 0h0m20 1h0m26 10h0m3-3h0m3-3h0m23-7h0m1 1h0m27 5h0m2-4h0m2-3h0m5 2h0m4-4h0m0 6h0m4 12h0m2 7h0m8-22h0m3 12h0m3-9h0m2 11h0m4-12h0m3 13h0m6 0h0m2-12h0m2-3h0m1 8h0m2 11h0m5-4h0m1-4h0m11 14h0m24-16h0m13 13h0m4-5h0m4-4h0m4 10h0m7-4h0m0 1h0m3-2h0m1 2h0m16 2h0m13-2h0m8 4h0m0 2h0m3-4h0m10 0h0m1 0h0m1-1h0m2 1h0m3 1h0m168-5h0m1 5h0m1-15h0m5 7h0m2-14h0m1-1h0m2 0h0m2 1h0m12 7h0m-632 24h0m1 23h0m5-27h0m1 19h0m114-11h0m0 14h0m2-23h0m8 19h0m1-12h0m4-5h0m67 23h0m66-23h0m34 1h0m3 5h0m8 17h0m5-16h0m8-4h0m0 16h0m15-4h0m1-15h0m30 22h0m2-9h0m1-10h0m19 5h0m0-2h0m1 9h0m4 8h0m10-26h0m12 4h0m4 12h0m3-13h0m8 1h0m2 17h0m2-20h0m1 9h0m2-7h0m7 9h0m2 11h0m3-17h0m6 19h0m67-11h0m77-9h0m2 9h0m3 15h0m0-16h0m5-8h0m1 23h0m0 1h0m10-16h0m4-4h0m6 4h0m30 6h0m69-11h0m-748 48h0m5-22h0m12 5h0m1 1h0m1 8h0m74-5h0m51-4h0m115 0h0m79 17h0m47-13h0m12 0h0m2-11h0m25 17h0m28 11h0m15-18h0m0-8h0m6 24h0m2-23h0m2 15h0m0-18h0m1 6h0m5 5h0m44-11h0m25 23h0m18-25h0m45 21h0m0 1h0m22 7h0m16-5h0m-670 29h0m15 6h0m3-6h0m2-8h0m8 8h0m6-20h0m0 25h0m2-22h0m124 12h0m12-10h0m235 4h0m14 10h0m47-17h0m14-5h0m10 26h0m2-21h0m0 6h0m2 17h0m0-1h0m7-20h0m129 6h0m4 8h0m7 2h0m16-16h0m89 6h0m-736 41h0m29-2h0m103 2h0m4-14h0m15-9h0m93 4h0m232 23h0m10-13h0m4-4h0m0-9h0m3 7h0m1 6h0m121 6h0m0-1h0m1-9h0m0 0h0m3 12h0m8-15h0m2-3h0m2 23h0m7-16h0m3 4h0m0-7h0m5-5h0m4 4h0m-644 49h0m6-13h0m4 9h0m7 1h0m0-5h0m3-19h0m3 3h0m3 1h0m2 19h0m2 0h0m0-3h0m89 4h0m2 4h0m5-13h0m5 4h0m2-17h0m0 16h0m10-6h0m274 11h0m25-11h0m1 17h0m26-6h0m3-11h0m2 18h0m1-12h0m13 4h0m0 7h0m8-3h0m1-11h0m104 7h0m4-15h0m2 18h0m2 2h0m2-13h0m3 12h0m3-18h0m6-6h0m9 21h0m-633 27h0m12-11h0m2 15h0m7-23h0m2 14h0m1 6h0m3 5h0m4-22h0m84 16h0m1-12h0m8-8h0m2 30h0m6-3h0m1-7h0m35 3h0m175-1h0m45 5h0m93-18h0m1-8h0m1 13h0m2 0h0m16-5h0m7 11h0m1-5h0m1 7h0m2 1h0m2 1h0m71 2h0m4 1h0m4 0h0m0 2h0m2-24h0m3 11h0m4 8h0m1-18h0m2 19h0m1 4h0m7-15h0m6-13h0m4 21h0m1-6h0m90 0h0m-712 43h0m6-1h0m1-11h0m8-6h0m2-10h0m5 17h0m2-4h0m0-11h0m0 16h0m2-16h0m0 15h0m3-15h0m1 13h0m3-13h0m72 7h0m1 14h0m3-12h0m1-4h0m0 0h0m3 5h0m1 15h0m4-6h0m2-14h0m0-6h0m7 12h0m2-6h0m6-4h0m2 10h0m40-9h0m0 3h0m71 17h0m18-1h0m32-14h0m5 19h0m4-9h0m44 6h0m12 4h0m54-6h0m24 1h0m10 2h0m19-24h0m0 17h0m2 3h0m2-2h0m9 6h0m0-2h0m1-7h0m4-8h0m4 15h0m1-14h0m1 2h0m1 3h0m4-6h0m3-5h0m1 13h0m1-17h0m4 26h0m7-2h0m2-16h0m2-5h0m0 22h0m0 0h0m2-11h0m1 2h0m0 12h0m4-9h0m3 8h0m2-2h0m1-6h0m1 9h0m5-6h0m10 7h0m0-6h0m1-1h0m3 6h0m6-6h0m3-3h0m11 3h0m0-5h0m7 3h0m2-10h0m2-6h0m1 3h0m5 17h0m1-21h0m2 20h0m2 2h0m2-20h0m2 8h0m7 13h0m6-23h0m-637 43h0m16 7h0m8-5h0m0 1h0m2 0h0m0 5h0m2-5h0m4 2h0m1 7h0m1-15h0m0-4h0m1-8h0m0 9h0m1 11h0m0-1h0m0-1h0m3-13h0m0-7h0m1 12h0m1-9h0m2 11h0m2-3h0m1-5h0m1 2h0m3-5h0m0-2h0m86 10h0m2 0h0m0-2h0m0 6h0m4-15h0m1 11h0m0 8h0m4-5h0m0-6h0m0-8h0m1 29h0m0-24h0m3-4h0m1 17h0m2-10h0m3 22h0m1-1h0m0 0h0m2-12h0m8-7h0m18 17h0m6-25h0m36 12h0m4 15h0m9-8h0m2 8h0m5-1h0m21-10h0m12 9h0m8 2h0m16-18h0m8-3h0m1 10h0m1-1h0m4-13h0m10 20h0m2 2h0m11-26h0m3 26h0m2-23h0m11 7h0m2 9h0m0-10h0m9 2h0m0 13h0m15-6h0m22 8h0m7-12h0m7 12h0m0-7h0m4 3h0m3 8h0m6-19h0m10 19h0m1-8h0m0-5h0m2-5h0m8 17h0m0-1h0m3-18h0m2 18h0m0-21h0m1 8h0m1 10h0m1-22h0m0 24h0m1-3h0m1 0h0m3-1h0m0-4h0m2-5h0m1 13h0m1 1h0m4-18h0m2 20h0m3-9h0m2-2h0m3 4h0m0-22h0m1 0h0m3 1h0m4 6h0m0 18h0m1-9h0m1 5h0m0-5h0m2-11h0m3 16h0m1 3h0m0-10h0m3-5h0m0 14h0m11-3h0m2-14h0m0 10h0m9-6h0m0-3h0m2-7h0m1 12h0m5-2h0m1-3h0m0 6h0m3-7h0m0 7h0m0-3h0m3-1h0m1-3h0m5-4h0m7 2h0m4-2h0m0 1h0m5-3h0m10 17h0m1 0h0m1-11h0m4 15h0m0 2h0m4 3h0m2-5h0m1 0h0m2-7h0m2 13h0m2 1h0m3-12h0m3 5h0m3-7h0m1 11h0m2-21h0m0-2h0m0 10h0m3 11h0m3 2h0m2-21h0m4-3h0m9 26h0m1-10h0m1-1h0m1 9h0m2-15h0m0 18h0m5-12h0m13 11h0m-631 26h0m1 5h0m2-5h0m0 6h0m0-6h0m2 4h0m4-3h0m8-24h0m120 17h0m2-10h0m4 10h0m2-10h0m0-4h0m4 23h0m1-8h0m0-5h0m2 2h0m0-15h0m0 5h0m2 16h0m0-21h0m2 5h0m2 20h0m7-14h0m5-5h0m1 9h0m4 4h0m1 2h0m2-11h0m23-4h0m7 6h0m28-7h0m6 1h0m7-1h0m21-4h0m2 4h0m9-2h0m37-3h0m21 1h0m3 0h0m10 2h0m0-1h0m19 6h0m11-2h0m8 3h0m1 1h0m11-5h0m1-2h0m7 4h0m3 2h0m12 3h0m2-6h0m8 1h0m5 3h0m3-2h0m6-3h0m7-2h0m8 0h0m2-1h0m112 2h0m2 6h0m1-10h0m4 14h0m3 4h0m0-9h0m0-1h0m1-2h0m0-5h0m2 8h0m1-7h0m0 13h0m1 10h0m0-16h0m3 3h0m1 3h0m1-11h0m1 10h0m0 15h0m1-8h0m1-12h0m0 19h0m3 1h0m1-18h0m0 11h0m0 1h0m0 1h0m2 0h0m1-20h0m2 19h0m2 3h0m1-6h0m2-13h0m12-1h0m4 22h0m19-17h0m33-2h0m-730 39h0m32-13h0m1 20h0m6-1h0m2-14h0m1 17h0m1-27h0m1 25h0m1-25h0m1 6h0m3 1h0m2-7h0m23 17h0m261 1h0m181 0h0m130-14h0m4-2h0m1 3h0m4-5h0m0 6h0m1 1h0m2 2h0m0 1h0m1-7h0m0 17h0m1 3h0m0-7h0m1-10h0m0 15h0m1-13h0m0 14h0m1-4h0m0 6h0m1 1h0m0-5h0m0 3h0m0 1h0m3-7h0m1-18h0m3 3h0m2 17h0m1-16h0m2 18h0m0 0h0m10-19h0m70 19h0m-739 37h0m11-24h0m4 18h0m3-2h0m0-16h0m3 8h0m0 3h0m3 4h0m0-12h0m1-2h0m0 0h0m2-3h0m72 15h0m548-14h0m5-1h0m0 6h0m3 4h0m1-6h0m0 0h0m2 7h0m0-6h0m0 21h0m1-16h0m2 3h0m0 0h0m3 6h0m1-21h0m1 26h0m6-3h0m1 6h0m2-9h0m16 8h0m9-19h0m25 20h0m6-23h0m-753 50h0m31-21h0m1 1h0m5 12h0m1 9h0m1-8h0m0-19h0m3 6h0m1 18h0m1-24h0m1 20h0m1 1h0m53-13h0m253 2h0m147 0h0m182 6h0m1 6h0m3-13h0m3 19h0m1-11h0m1 6h0m3-24h0m0 11h0m1-4h0m0 0h0m0 19h0m0-17h0m1 8h0m1 7h0m6-16h0m1 14h0m6 4h0m4-23h0m0 23h0m2-4h0m1-15h0m41 16h0m-740 35h0m4-22h0m14-1h0m2 0h0m1 20h0m1-17h0m1 18h0m0 1h0m2-23h0m0 22h0m0-6h0m0-13h0m2 0h0m1 8h0m0-5h0m0-9h0m0 4h0m1 9h0m638-2h0m0 13h0m1-4h0m2 8h0m2-24h0m1 1h0m2 12h0m1-5h0m4 9h0m4-16h0m4 10h0m2 10h0m1-7h0m2-11h0m11 11h0m-715 27h0m29-8h0m3 16h0m5-9h0m3 6h0m1-9h0m0-5h0m1 16h0m1-4h0m1-1h0m136 10h0m487 0h0m5-14h0m0 0h0m3-5h0m1 4h0m2-6h0m6-3h0m2 24h0m1-13h0m3-1h0m0-7h0m0 10h0m1 9h0m1 0h0m4-5h0m7-3h0m108-12h0m-793 30h0m2 12h0m1-10h0m1-3h0m2 12h0m2-5h0m6-3h0m0 6h0m7-10h0m0 6h0m5 2h0m0 4h0m0-8h0m1 1h0m1 14h0m3-12h0m0-1h0m3 13h0m240-13h0m114-4h0m250 16h0m0 1h0m0-5h0m0 1h0m3-2h0m0 9h0m2-1h0m1 0h0m5-23h0m2 20h0m2-19h0m0 9h0m1 4h0m1-1h0m2-13h0m2 1h0m2-2h0m3 4h0m3-5h0m1 1h0m7 20h0m15-19h0m22-2h0m-721 46h0m18-16h0m15 9h0m5 6h0m2 5h0m3 9h0m0-27h0m3 16h0m0 7h0m1 1h0m3-13h0m0-5h0m1 8h0m1-2h0m0 8h0m2 1h0m1 3h0m0-7h0m1 5h0m0 0h0m1 2h0m124 3h0m208-21h0m125 16h0m81-15h0m18 19h0m1-3h0m2 3h0m5-9h0m0-3h0m2 12h0m1 1h0m3-18h0m1 8h0m2-9h0m1 3h0m0-2h0m2 0h0m0 1h0m1-5h0m3 12h0m3-11h0m0 8h0m1-9h0m3 21h0m2-14h0m2-12h0m0 18h0m1 9h0m0-9h0m9-5h0m4 9h0m3 1h0m35-24h0m-653 32h0m4 8h0m11-3h0m0-4h0m3 4h0m2 0h0m0-2h0m83 5h0m14 1h0m11-5h0m1-7h0m11 9h0m10-8h0m2 3h0m15 9h0m92-5h0m143 5h0m2-1h0m1 0h0m12 0h0m18-1h0m1 2h0m4-2h0m16 0h0m80 0h0m6 0h0m0-4h0m6 5h0m5 1h0m2-6h0m4-7h0m6 5h0m7 1h0m1 0h0m1 8h0m4-6h0m10-8h0"/>
<path transform="scale(.1)" fill="none" stroke="#000" stroke-width="5.0" d="M4940 3156l-7 2-5 0-10-6-15-18-11-21-9-23-6-24-12-83-5-14-5-9-9-6-13-5-70-8-50-11-40-14-35-17-16-11-15-12-10-13-8-13-3-12 1-12 4-10 8-10 11-10 16-8 17-6 23-5 37-3 70 2 20-3 17-7 38-25 20-10 25-9 25-6 32-1 33 5 15 4 15 7 13 9 9 8 9 12 6 13 3 13-1 14-3 13-7 15-10 15-22 27-4 9-4 9-1 12 0 50-1 63-3 33-5 27-10 30-12 24-14 19-16 10M4432 3463l-14-9-12-14-9-14-10-23-7-23-6-24-2-26-1-27 5-43 8-34 11-28 22-42 4-16-1-18-12-76-4-50 1-68 7-62 8-38 12-32 6-11 8-9 7-5 7-2 8 1 8 6 9 10 7 12 7 15 5 17 7 38 5 80-1 70-6 52-15 68-2 18 2 14 6 20 8 15 8 10 8 5 12 2 70-15 30-4 32-1 42 0 68 7 22 0 21-3 39-14 28-8 22-4 13 0 13 6 17 16 19 21 14 20 9 17 7 20 5 20 1 20-1 20-6 23-8 20-10 17-13 16-14 13-18 10-20 8-18 4-17 0-53-5-20 0-87 11-60 1-33-2-32-4-28-6-40-10-14-2-8 1-8 3-24 19-12 6M4938 3138l-12-1-10-7-11-12-11-20-7-20-5-22-11-80-4-13-7-10-10-8-12-4-68-7-47-9-37-13-33-16-16-10-12-10-11-13-6-10-4-13 1-10 3-10 8-10 10-7 14-8 18-6 18-3 32-4 65 2 20-3 17-8 33-23 23-13 24-10 30-7 33-1 30 5 25 10 12 8 10 8 8 10 6 13 3 13 0 14-3 13-7 15-11 15-24 27-4 8-4 10-1 12 1 53 0 53-3 32-5 28-9 30-11 21-13 14-7 5-8 2M4460 3458l-7 2-10 0-15-6-14-11-13-17-11-26-8-24-6-30-2-33 4-43 4-22 5-20 12-30 25-42 4-16-2-17-14-70-4-53 0-62 2-30 4-32 8-38 11-30 5-10 8-9 7-6 7-2 8 2 8 5 7 9 6 11 11 30 8 40 5 70 0 38-2 32-7 55-16 65-2 15 1 13 6 17 10 23 10 14 10 6 10 1 73-16 32-4 32-1 43 1 65 7 22 0 21-4 39-13 20-4 20-3 18 1 15 6 15 10 18 17 14 19 10 17 7 20 5 20 1 20-1 20-5 20-8 20-10 18-13 15-16 13-17 10-17 7-16 2-17 2-53-5-20-1-87 11-30 2-30 0-33-2-32-5-28-5-42-12-12-2-8 1-8 3-27 20-13 6M4943 3108l-5 2-8-1-10-5-10-11-8-15-6-18-5-22-8-75-5-15-8-12-10-7-12-4-62-4-40-6-33-10-29-12-14-8-12-9-10-10-7-10-3-10 0-8 3-10 6-8 9-6 10-5 27-8 30-3 55 0 18-3 14-8 33-28 20-13 25-12 25-6 30-3 30 3 13 4 14 6 10 6 10 9 11 13 5 12 2 12-1 16-5 12-7 12-10 13-26 27-9 16-2 17 3 45 1 40-1 28-2 22-6 25-8 20-9 15-6 5-7 5M4458 3449l-15 1-15-6-12-11-13-17-9-20-8-26-5-27-1-30 1-25 3-22 5-23 5-17 14-30 29-38 5-12-1-13-15-47-8-46-5-50 1-52 6-52 4-23 6-22 8-18 8-11 7-7 7-2 8 2 5 4 7 9 6 10 10 30 7 40 3 38 1 34-1 33-3 35-4 25-6 25-7 22-13 28-2 12 2 10 6 13 21 42 10 14 10 7 13 1 47-12 26-5 32-5 32-1 43 1 65 7 20 0 22-3 53-15 20-3 17 2 16 4 17 10 15 12 14 17 10 17 7 17 5 20 1 20-1 20-4 18-8 20-10 15-12 14-14 12-18 10-18 6-14 3-16 0-52-5-19 0-89 12-30 1-30 0-30-2-32-5-30-7-40-12-12-2-8 1-8 3-27 20-15 7M4940 3073l-4 1-6 0-7-5-7-11-6-11-6-31-4-56-3-20-6-17-8-12-10-6-13-4-14 0-43 2-23-2-27-4-27-8-23-12-9-7-7-7-5-7-2-8 2-8 4-5 13-9 19-6 20-2 42-1 18-3 8-5 7-6 27-30 18-15 22-13 26-9 30-4 30 2 24 8 11 6 10 8 9 10 6 12 3 12-2 16-6 14-8 13-13 13-29 27-8 10-4 7 0 16 5 37 3 27 0 23-1 23-3 20-6 17-7 13-10 7M4463 3113l-7 0-8-6-8-13-7-19-5-22-5-25-3-55 3-55 3-25 5-23 7-19 8-14 7-7 7-3 8 3 8 8 6 12 6 16 9 44 3 56-2 52-8 45-5 17-7 17-8 11-7 5M4458 3438l-15 1-13-5-12-11-9-13-9-17-8-23-5-24-2-26 1-27 3-25 6-25 7-20 9-17 12-17 13-11 12-6 10 1 10 7 12 15 26 41 7 8 10 5 13-1 54-16 48-7 32-2 30 0 28 2 48 6 20 1 22-4 50-14 15-3 15 0 12 2 13 4 13 6 12 9 11 11 9 13 8 14 6 16 4 20 1 22-3 22-8 20-10 18-16 17-17 12-20 9-17 3-18 1-52-6-20 0-88 12-28 1-30 0-32-3-30-5-30-7-40-14-12-2-8 2-8 3-27 20-15 7M4926 2886l-8 1-10-1-62-15-30-6-38-1-9-4 0-2 4-2 25-3 10-6 8-11 14-33 11-17 16-18 21-15 22-9 28-5 25 0 25 6 12 5 10 7 9 9 5 7 3 7 2 10 0 10-3 10-10 18-18 19-40 28-12 7-10 4M4463 3087l-7-1-6-4-7-12-5-13-8-37-3-44 2-48 7-40 5-15 7-12 5-6 7-3 8 4 5 5 5 10 5 14 7 35 3 46-2 42-6 38-5 16-4 11-6 8-7 6M4936 3007l-3-1-3-4-1-12 1-14 3-7 3 1 2 3 3 13-1 12-2 6-2 3M4458 3428l-12 1-10-3-13-8-10-12-9-18-7-20-5-22-2-20 0-23 2-23 4-22 6-20 8-18 10-15 10-10 13-7 13-1 12 7 12 15 28 43 8 7 10 4 12-1 32-12 23-6 43-8 30-2 32 0 28 2 47 6 17 1 23-4 53-17 14-2 16 0 14 2 13 5 13 7 10 7 10 12 9 13 6 12 5 15 4 20-1 20-4 20-9 20-10 15-16 15-14 9-18 7-18 3-17 0-53-8-20-1-17 2-70 10-30 2-30-1-30-4-30-6-27-8-36-14-12-2-8 2-7 4-30 23-15 7M4926 2868l-18 1-22-4-20-8-15-9-8-10-4-12 1-13 4-15 9-15 13-13 14-10 20-9 20-5 20-2 20 2 18 6 17 11 7 7 5 8 3 8 1 10-1 7-4 10-11 17-19 17-28 15-22 6M4466 3058l-6 2-4-1-6-5-4-10-8-28-4-38 2-38 5-32 5-13 4-9 6-5 4-2 6 2 4 6 7 16 6 27 2 30 0 33-4 30-7 23-4 6-4 6M4460 3418l-12 2-10-2-10-6-10-11-9-15-7-18-5-20-2-20-1-22 2-23 4-20 6-20 8-17 9-13 10-9 10-5 7-1 8 2 12 9 13 16 27 45 10 10 8 3 12-2 28-13 20-8 20-5 22-5 30-3 30 0 28 1 48 7 20 0 22-5 52-19 16-3 14 0 16 1 12 4 12 7 10 7 10 10 8 11 7 12 5 16 3 20-1 20-5 17-8 17-11 16-12 11-16 9-17 6-17 3-18-1-58-11-20-2-17 1-43 8-24 3-30 1-30-2-28-4-28-8-26-10-31-16-10-2-5 2-8 4-32 30-18 10M4928 2858l-15 1-17-3-18-6-12-8-9-9-5-13 0-12 3-12 8-13 13-12 14-10 16-6 17-4 17-1 18 2 15 5 17 11 9 12 3 16-3 14-11 17-18 15-20 10-22 6M4460 3028l-4-2-3-3-5-13-3-17-2-23 2-22 3-18 5-13 3-3 4-2 4 1 4 5 4 12 4 19 1 21-1 21-4 19-5 13-4 4-3 1M4458 3411l-10 1-10-3-10-6-8-10-7-13-7-17-5-20-2-20 0-23 2-20 5-20 6-17 8-15 8-10 10-7 10-3 8 1 10 6 8 8 9 13 13 24 13 28 8 20 3 15-1 10-4 13-16 27-11 15-10 10-10 8-10 5M4900 3406l-20 2-22-3-20-5-42-14-20-4-18 1-45 7-25 2-32-1-30-5-32-10-13-8-10-8-10-10-5-10-2-10 1-7 3-7 4-8 17-15 19-10 28-9 27-5 30-1 27 1 43 6 17 0 20-6 48-22 22-8 23-4 23 2 12 4 12 7 10 9 10 11 7 12 5 13 3 15 1 15-1 15-4 12-5 13-8 13-9 10-11 8-12 7-16 5M4923 2851l-15-1-15-4-13-5-9-8-7-10-2-10 0-10 5-13 8-10 12-10 13-7 16-5 17-2 15 1 15 3 12 6 11 10 7 12 0 12-5 16-11 12-17 12-17 7-20 4M4456 3403l-10 0-8-2-10-8-8-9-6-14-6-14-3-18-2-18 0-20 2-17 4-17 6-18 7-12 8-11 8-5 10-3 10 2 8 5 10 11 8 13 8 18 8 20 4 17 2 15-1 15-3 13-10 24-9 13-9 10-8 6-10 4M4888 3401l-20-1-20-5-20-8-19-11-12-10-11-13-5-13-3-14 2-13 6-15 10-12 14-13 20-14 20-10 18-5 18-2 14 1 13 4 13 6 11 10 10 13 6 12 5 15 2 15-1 15-4 15-6 15-9 11-10 10-12 8-15 6-15 3M4926 2843l-16 0-12-3-10-5-9-7-5-8-3-10 1-10 4-10 7-8 10-8 13-6 12-4 15-2 13 0 12 3 10 5 10 8 6 10 1 12-4 13-11 12-12 9-15 6-17 3M4453 3396l-10-1-7-4-8-7-6-8-6-13-5-15-4-32 2-33 4-15 5-15 8-12 6-8 8-5 8-2 10 2 8 5 7 9 7 11 8 15 6 18 3 14 1 16-1 14-2 13-4 13-6 12-6 10-9 9-7 5-10 4M4893 3393l-15 1-18-3-14-5-15-8-13-10-8-10-7-12-3-16 0-14 3-13 6-13 10-12 14-11 14-9 16-6 15-3 15 0 13 2 12 6 10 6 9 10 8 13 5 12 3 15 0 15-2 12-4 13-8 13-9 10-12 9-12 5-13 3M4930 2836l-12 0-10-2-10-3-8-5-5-6-3-7-1-7 1-8 4-8 7-7 7-6 10-5 10-2 13-2 13 1 10 3 11 6 6 8 3 10-1 10-6 10-11 10-12 6-16 4M4458 3386l-10 2-8-2-7-5-6-8-6-10-5-13-5-30 2-32 7-27 6-11 7-9 7-5 8-2 8 2 7 4 13 16 11 24 5 28-1 25-6 23-5 10-7 9-7 7-8 4M4898 3386l-12 2-16-1-14-5-13-6-11-8-9-10-6-10-4-12-1-16 2-12 4-12 7-10 9-10 12-9 12-7 15-4 13-1 12 1 12 4 10 6 9 7 8 10 6 13 4 12 1 12-1 13-4 13-6 12-8 10-9 8-10 5-12 5M4930 2828l-17-1-14-7-5-4-2-6-1-4 1-8 8-11 16-9 17-3 17 3 9 5 6 7 2 8-2 8-5 7-8 7-10 6-12 2M4458 3378l-8 2-7-1-7-5-6-5-5-9-5-12-5-28 1-27 7-26 10-17 7-5 8-2 8 1 4 3 7 6 6 9 9 21 4 25 0 22-7 23-9 15-4 5-8 5M4890 3381l-12 0-12-3-10-3-11-7-8-8-8-10-4-10-3-12 0-12 3-13 5-10 7-10 9-7 12-8 10-4 12-2 13 0 10 2 10 5 9 7 7 7 6 10 4 10 2 13 0 12-2 10-5 12-6 10-8 7-10 7-10 4-10 3M4936 2818l-16 1-7-2-5-4-4-5 0-5 1-5 3-5 10-7 12-3 13 2 7 5 4 8-1 8-7 7-10 5M4456 3371l-8 1-5-2-5-3-6-7-4-7-5-12-4-23 1-24 6-21 10-15 4-4 8-3 8 2 4 3 10 12 8 18 3 22 0 20-6 20-9 15-10 8M4893 3373l-10 1-10-1-10-3-10-6-8-6-6-8-5-10-3-10 0-10 1-10 3-10 6-10 7-7 10-7 10-5 10-2 10-1 10 2 10 4 8 4 7 8 5 7 5 10 2 10 0 10-1 10-3 10-5 9-8 8-8 7-7 3-10 3M4456 3362l-6 1-4-1-6-2-4-5-8-15-4-22 1-22 5-18 8-13 5-3 5-2 5 1 5 3 8 9 7 16 3 19 0 18-5 17-7 13-8 6M4896 3366l-18 1-10-3-8-4-12-12-5-8-3-10 0-17 3-10 4-7 13-13 16-7 17 0 15 6 8 6 4 6 5 9 3 7 0 18-2 10-4 8-12 12-14 8M4450 3353l-7-2-7-9-6-13-1-16 1-17 4-13 6-9 8-4 8 2 7 9 5 12 3 17-1 16-4 14-8 10-8 3M4893 3358l-15 0-13-5-10-10-6-15 0-15 7-15 11-10 13-5 13 1 13 5 10 11 5 13 0 15-5 14-10 11-13 5M4450 3341l-4-1-7-7-3-10-1-10 1-12 2-8 5-8 5-3 5 1 6 7 4 10 1 10-1 13-3 9-4 7-6 2M4893 3349l-13 0-9-3-8-8-5-10 0-12 4-10 8-9 10-4 10-1 10 4 8 8 4 9 1 13-4 10-6 7-10 6M4450 3319l-2 0-2-5 0-6 2-4 2 0 3 5 0 6-3 4M4890 3336l-7 1-5-2-5-5-2-4 0-8 1-5 5-5 6-3 5 0 5 2 5 3 2 6 1 7-1 5-4 5-6 3"/>
<rect x="431.3" y="259.3" width="86.20" height="86.90" fill="none" stroke="#6a6a6a" stroke-width="0.9"/>
<path stroke="#6a6a6a" stroke-width="0.8" d="M456.3 259.3V346.2M431.3 314.5H517.5"/>
<g font-family="'Liberation Sans', sans-serif" font-size="8.5" fill="#111" stroke="#fff" stroke-width="1.6" paint-order="stroke" stroke-linejoin="round">
<text x="432.9" y="267.8">5.4%</text>
<text x="515.9" y="267.8" text-anchor="end">19.6%</text>
<text x="515.9" y="344.6" text-anchor="end">62.1%</text>
</g>
<path stroke="#555" stroke-width="0.5" d="M429.8 267.2H431.3M429.8 286.0H431.3M429.8 305.9H431.3M429.8 326.9H431.3M429.8 336.4H431.3M441.5 346.2V347.7M450.4 346.2V347.7M470.9 346.2V347.7M490.2 346.2V347.7M509.0 346.2V347.7M430.5 280.0H431.3M430.5 276.5H431.3M430.5 274.0H431.3M430.5 272.1H431.3M430.5 270.5H431.3M430.5 269.2H431.3M430.5 268.0H431.3M430.5 299.9H431.3M430.5 296.4H431.3M430.5 293.9H431.3M430.5 292.0H431.3M430.5 290.4H431.3M430.5 289.1H431.3M430.5 287.9H431.3M430.5 286.9H431.3M430.5 320.9H431.3M430.5 317.4H431.3M430.5 314.9H431.3M430.5 313.0H431.3M430.5 311.4H431.3M430.5 310.1H431.3M430.5 308.9H431.3M430.5 307.9H431.3M456.2 346.2V347.0M459.6 346.2V347.0M462.0 346.2V347.0M463.9 346.2V347.0M465.4 346.2V347.0M466.7 346.2V347.0M467.8 346.2V347.0M468.8 346.2V347.0M476.7 346.2V347.0M480.1 346.2V347.0M482.5 346.2V347.0M484.4 346.2V347.0M485.9 346.2V347.0M487.2 346.2V347.0M488.3 346.2V347.0M489.3 346.2V347.0M496.0 346.2V347.0M499.4 346.2V347.0M501.8 346.2V347.0M503.7 346.2V347.0M505.2 346.2V347.0M506.5 346.2V347.0M507.6 346.2V347.0M508.6 346.2V347.0"/>
<g font-family="'Liberation Sans', sans-serif" fill="#222">
<text x="429.1" y="268.6" font-size="4.8" text-anchor="end">10<tspan font-size="3.4" dy="-1.8">5</tspan></text>
<text x="429.1" y="287.4" font-size="4.8" text-anchor="end">10<tspan font-size="3.4" dy="-1.8">4</tspan></text>
<text x="429.1" y="307.3" font-size="4.8" text-anchor="end">10<tspan font-size="3.4" dy="-1.8">3</tspan></text>
<text x="429.1" y="328.3" font-size="4.8" text-anchor="end">10<tspan font-size="3.4" dy="-1.8">2</tspan></text>
<text x="429.1" y="337.8" font-size="4.8" text-anchor="end">0</text>
<text x="441.5" y="354.8" font-size="4.8" text-anchor="middle">0</text>
<text x="450.4" y="354.8" font-size="4.8" text-anchor="middle">10<tspan font-size="3.4" dy="-1.8">2</tspan></text>
<text x="470.9" y="354.8" font-size="4.8" text-anchor="middle">10<tspan font-size="3.4" dy="-1.8">3</tspan></text>
<text x="490.2" y="354.8" font-size="4.8" text-anchor="middle">10<tspan font-size="3.4" dy="-1.8">4</tspan></text>
<text x="509.0" y="354.8" font-size="4.8" text-anchor="middle">10<tspan font-size="3.4" dy="-1.8">5</tspan></text>
</g>
<path stroke="#111" stroke-width="1" d="M431.8 360.59999999999997H513.5"/>
<path fill="#111" d="M516.5 360.59999999999997L511.5 358.7L511.5 362.49999999999994z"/>
<text x="468.0" y="374.4" font-family="'Liberation Sans', sans-serif" font-size="11" fill="#000" stroke="#000" stroke-width="0.15" text-anchor="middle">TNFα</text>
<path transform="scale(.1)" stroke="#5a5a5a" stroke-width="6.2" stroke-linecap="square" d="M4481 3850h0m2-13h0m39 4h0m71-6h0m368-10h0m-578 51h0m53-20h0m12 28h0m10-26h0m1 16h0m1 8h0m9-11h0m12 12h0m2-16h0m70 13h0m152 3h0m30-5h0m-282 13h0m8 18h0m7-17h0m4 1h0m5 16h0m2 0h0m2 5h0m3-14h0m5-2h0m4 14h0m4-2h0m8-13h0m2 4h0m1-4h0m9 17h0m1-10h0m8-3h0m7 1h0m12 12h0m6-1h0m1-18h0m6 20h0m56-7h0m14-8h0m349-10h0m143 6h0m-757 37h0m36-13h0m5-2h0m4 11h0m5-12h0m22 21h0m7 3h0m5-19h0m1 16h0m1-10h0m0 3h0m2 4h0m3 3h0m1-4h0m4-10h0m1-8h0m1 6h0m4 3h0m2 2h0m2-5h0m2-1h0m1-4h0m0 0h0m1 11h0m1-12h0m3 10h0m0-1h0m3-8h0m7 5h0m4 5h0m2-2h0m0 2h0m2-4h0m1-1h0m8 7h0m8 0h0m3-3h0m1-2h0m1-5h0m7 18h0m0-14h0m4 10h0m0-3h0m1-1h0m0 3h0m1 3h0m4-12h0m5 16h0m1 5h0m2-15h0m2 12h0m1-3h0m5 5h0m1-14h0m1-10h0m3 8h0m1 11h0m1 4h0m1-17h0m1 15h0m4 4h0m5-10h0m0-14h0m8 1h0m0 14h0m15-7h0m4 14h0m7-5h0m6 0h0m10-12h0m10 8h0m2 10h0m5-1h0m23 2h0m21 0h0m23-2h0m3-2h0m5 3h0m40 2h0m45-3h0m20 2h0m-469 28h0m56 1h0m1-5h0m3 5h0m3 0h0m3-4h0m0 5h0m1-18h0m3 8h0m9-16h0m2 8h0m2-6h0m112-3h0m22 3h0m7 3h0m7-4h0m1 9h0m7-1h0m4-3h0m5 3h0m7-7h0m4-4h0m26 3h0m12-1h0m6-2h0m83 0h0m14 0h0m7 7h0m3-4h0m14 9h0m2 0h0m2 0h0m9 3h0m4 5h0m1 2h0m3-12h0m1 18h0m0-12h0m4 4h0m14 4h0m2 4h0m3-2h0m2-5h0m-457 37h0m1-12h0m13-17h0m10 20h0m3 5h0m2-3h0m1-7h0m1 13h0m2-6h0m0-19h0m3 13h0m0-14h0m1 20h0m3-15h0m0 7h0m184 16h0m6-3h0m6 0h0m11 2h0m0-6h0m13 5h0m4 0h0m1 1h0m22-4h0m28 3h0m9 2h0m56-8h0m10 2h0m10 1h0m1-4h0m8-2h0m4 1h0m2-7h0m1 11h0m8-12h0m11-9h0m1 3h0m1 8h0m1 1h0m2-7h0m6 10h0m3-1h0m2 12h0m19-1h0m4-1h0m1-25h0m-498 58h0m24-18h0m6-7h0m8 17h0m5 5h0m2-4h0m3 0h0m1-12h0m1-4h0m3 16h0m129-16h0m60 18h0m1-13h0m2 1h0m1 4h0m1-10h0m1 11h0m2 2h0m1-9h0m0-5h0m2 6h0m0 15h0m1-15h0m0-2h0m9 9h0m6-17h0m0 13h0m2-10h0m2 22h0m1-25h0m9 15h0m3 6h0m1-19h0m15-3h0m12 10h0m0 13h0m22-9h0m10-7h0m11-7h0m3 3h0m4 12h0m8-15h0m14 4h0m104 10h0m-452 23h0m2 10h0m1-7h0m3 13h0m0-20h0m0 13h0m2 5h0m0-16h0m6 22h0m3-4h0m189-14h0m1 15h0m1-17h0m0 16h0m1-14h0m0 20h0m0-16h0m0 14h0m1-21h0m3 20h0m1-24h0m1 25h0m0-1h0m2-2h0m5-1h0m2 3h0m48-6h0m32-21h0m86 29h0m91-22h0m249 3h0m-738 34h0m13 10h0m3-11h0m2 8h0m1 6h0m1-20h0m0-7h0m2 19h0m4-5h0m1-13h0m2 20h0m3 2h0m21-20h0m155 17h0m0 7h0m0-11h0m2-7h0m1 6h0m0-13h0m2 1h0m1 23h0m0-2h0m0-18h0m3 8h0m7 10h0m0-3h0m2-17h0m8 24h0m6-14h0m18 14h0m11-18h0m18 14h0m4-7h0m0-2h0m5 8h0m13-2h0m6-18h0m20 25h0m9-26h0m92-1h0m14 13h0m97 0h0m171 2h0m-713 29h0m4-5h0m8-7h0m2-2h0m10 15h0m1-6h0m4 16h0m1 0h0m1 2h0m0-26h0m7 1h0m162 18h0m1 3h0m1-20h0m0 5h0m1 0h0m0 18h0m4-15h0m0-4h0m5-5h0m0 19h0m6-11h0m3 10h0m2-6h0m3 5h0m3-17h0m24 18h0m18 7h0m1-9h0m31 1h0m2-16h0m11 1h0m1 5h0m10-5h0m1-3h0m20 28h0m7-20h0m9-6h0m4 24h0m31-20h0m18-7h0m-433 56h0m24-8h0m5-15h0m0 16h0m4-6h0m2 12h0m1-7h0m9 4h0m1-16h0m1 14h0m4-10h0m1 13h0m0-12h0m0-3h0m1 2h0m163 0h0m1 3h0m0-11h0m2 20h0m2 2h0m1-9h0m6 8h0m2-10h0m2-3h0m3 13h0m3-5h0m2-6h0m3 16h0m3-25h0m6 21h0m6-18h0m2 14h0m7-10h0m4 10h0m4-4h0m31 1h0m8-4h0m16 8h0m7-7h0m4 14h0m4-22h0m12 13h0m24-12h0m7 13h0m26-20h0m33 22h0m-408 9h0m7 14h0m4-10h0m2 10h0m164-13h0m7 24h0m4-9h0m1 1h0m1 7h0m2-25h0m9 0h0m1 4h0m2 20h0m3-13h0m5 18h0m15-8h0m7-22h0m16 28h0m13-28h0m4 12h0m1-9h0m38 16h0m7-3h0m12-7h0m5 3h0m3 16h0m119-22h0m95 13h0m212-3h0m-776 26h0m8 3h0m7-8h0m2-5h0m6 2h0m2 7h0m1-1h0m2 10h0m164-5h0m1 2h0m0 6h0m2-8h0m0 13h0m2-15h0m1 6h0m0 10h0m3-27h0m2 2h0m1 10h0m1 3h0m1 4h0m2-8h0m0 9h0m1 1h0m0-18h0m1-1h0m1 16h0m12-18h0m3 9h0m7 11h0m1 1h0m4 4h0m21-2h0m5-22h0m0-1h0m19 12h0m7 1h0m11-4h0m12 0h0m1 11h0m5-2h0m16-10h0m19 13h0m1-8h0m1 8h0m15 3h0m29-12h0m30 15h0m7-23h0m65 20h0m-495 9h0m3 4h0m6-7h0m3 9h0m5 3h0m2-11h0m3 16h0m2 0h0m0 1h0m1 4h0m1-5h0m156-9h0m2-10h0m2 11h0m1 15h0m0-9h0m1-6h0m3 1h0m1 12h0m9-12h0m4 14h0m2 2h0m12-17h0m3 12h0m17-10h0m7 10h0m16 4h0m0-10h0m4 7h0m6-8h0m5-14h0m11 4h0m9 24h0m5-19h0m10 9h0m8-16h0m6 16h0m8-17h0m40 13h0m20-5h0m35 15h0m-434 6h0m9 18h0m7-12h0m11 18h0m8-13h0m0-3h0m1-4h0m1 8h0m147 14h0m1-2h0m0-21h0m2 20h0m1-10h0m0 7h0m2-15h0m2 14h0m1-17h0m6 18h0m4 3h0m1-3h0m2-18h0m31 13h0m14 5h0m11 4h0m12-2h0m24-1h0m9 0h0m14 5h0m17-10h0m75-14h0m2 16h0m18-1h0m11-12h0m328 0h0m-761 50h0m15-23h0m6 8h0m4-10h0m4 26h0m5-3h0m128-1h0m4-11h0m2 0h0m0 8h0m2-3h0m1 10h0m2-2h0m0-18h0m11 18h0m2-20h0m7-6h0m22 20h0m7-16h0m16 6h0m36-4h0m2 22h0m10-25h0m8 4h0m1 9h0m4 0h0m8 2h0m16-15h0m9 26h0m42-8h0m0 1h0m14-10h0m6 9h0m100-2h0m1-9h0m-507 41h0m18-14h0m10 0h0m1-5h0m1 4h0m3 18h0m7-16h0m2 12h0m2-6h0m1 2h0m1-10h0m4 15h0m1-12h0m0 3h0m4 1h0m0 7h0m1-1h0m6 9h0m20-7h0m82 8h0m1-12h0m2 12h0m8-8h0m0-17h0m1 15h0m0 0h0m1-17h0m2 11h0m6-3h0m1 16h0m1-21h0m3-4h0m2 3h0m14 22h0m1-16h0m1 1h0m15-10h0m1 3h0m1 4h0m20 6h0m1 2h0m0 2h0m7-2h0m21 11h0m3-17h0m18-7h0m1 0h0m43 3h0m75 6h0m64-5h0m18 15h0m-477 18h0m4 6h0m17 10h0m1-3h0m6-11h0m1 10h0m3-16h0m1-5h0m1 12h0m1 0h0m1 17h0m0-7h0m3-16h0m0 12h0m5 9h0m2-12h0m2-1h0m0 11h0m0-15h0m1 0h0m1 11h0m1 4h0m2-4h0m72 3h0m3-1h0m2-3h0m3 8h0m0-8h0m3 1h0m2-7h0m3 2h0m1-2h0m2 13h0m1 0h0m1-14h0m2 11h0m2-11h0m2 12h0m5-21h0m5 19h0m2-20h0m21 10h0m3-7h0m48-3h0m4 12h0m11 3h0m20-10h0m7 0h0m2-6h0m33-2h0m-317 50h0m2-15h0m3 19h0m1-11h0m1 6h0m10-6h0m1-4h0m1 16h0m1-4h0m3-13h0m1 0h0m5 17h0m2-15h0m0 17h0m3 1h0m0 0h0m1-23h0m0 23h0m1-22h0m1-1h0m2 1h0m4 9h0m1 0h0m1-5h0m3 11h0m2-2h0m1-14h0m0-2h0m1 6h0m1-1h0m2-3h0m1-4h0m1 8h0m1-9h0m3 3h0m1-4h0m65 1h0m3 11h0m0-7h0m3-1h0m3 14h0m2-14h0m1 8h0m1 1h0m0 0h0m3 0h0m1-1h0m2 13h0m1-21h0m0 0h0m1 11h0m0-4h0m3-9h0m1 20h0m2-21h0m0 21h0m3 7h0m0-27h0m1 13h0m2 12h0m2-14h0m0 11h0m1-18h0m9 5h0m13 9h0m5-10h0m1 7h0m35 8h0m32 2h0m8-7h0m11-9h0m62-8h0m-356 53h0m1-2h0m5 6h0m1-12h0m6 9h0m2-5h0m1 3h0m5-11h0m2-1h0m2 13h0m3-13h0m2 7h0m2-14h0m2 8h0m3-13h0m1 13h0m5-9h0m2 2h0m2-5h0m2-1h0m119 1h0m2-1h0m0 2h0m3-1h0m1 7h0m1 1h0m0 6h0m3-14h0m2 20h0m1-1h0m1-20h0m0 10h0m1 4h0m3 8h0m0-21h0m1 9h0m2-3h0m1 2h0m2 1h0m3 8h0m1 0h0m5 5h0m3 3h0m0 1h0m1-14h0m4 14h0m3-26h0m5 10h0m8-2h0m95 19h0m34-3h0m8-8h0m84-5h0m5 15h0m62-7h0m58-7h0m39-5h0m93 4h0m-732 44h0m3-15h0m2 11h0m3 5h0m6 1h0m2-27h0m6 9h0m6 14h0m4-9h0m0 13h0m5-25h0m4 12h0m1-4h0m1-10h0m3 2h0m1 6h0m175-10h0m3 14h0m0-10h0m1-3h0m0 0h0m0 11h0m3 0h0m1-10h0m2 5h0m2 2h0m0 13h0m0-9h0m1 12h0m1-10h0m0 6h0m0-11h0m2 8h0m7-2h0m2 10h0m3-3h0m6-7h0m9-15h0m24 3h0m0 10h0m3-4h0m3-6h0m25 15h0m56 7h0m9-11h0m8 4h0m132-10h0m7 3h0m64-4h0m20 5h0m3 3h0m-605 43h0m6-5h0m5-3h0m2-11h0m1 16h0m1-8h0m1-17h0m2 2h0m1-2h0m203 5h0m1 0h0m8 10h0m1 12h0m0-9h0m4-14h0m2 21h0m3-4h0m2-18h0m0 18h0m1-4h0m0-6h0m2 9h0m3 2h0m3-16h0m1 17h0m3-7h0m10 6h0m5 3h0m12-25h0m10 12h0m40 5h0m13 7h0m44-7h0m45-14h0m11 19h0m8 0h0m5-12h0m44 3h0m15 7h0m17-9h0m73 9h0m41 5h0m12 3h0m1-17h0m25 7h0m15-12h0m1-5h0m-735 35h0m19 19h0m3-2h0m5-6h0m4-8h0m3-6h0m1 0h0m2 4h0m1-3h0m2-2h0m0 20h0m0 3h0m2-18h0m0 0h0m1 1h0m219 3h0m2-12h0m0 15h0m1-14h0m2 12h0m0 14h0m0-10h0m1-8h0m0-5h0m2-4h0m2 12h0m0-10h0m1 10h0m2-1h0m3-3h0m1 10h0m5-5h0m42 13h0m42-19h0m77 5h0m13 3h0m37-8h0m13 0h0m23 10h0m65-9h0m31 11h0m41-7h0m26-6h0m-680 34h0m6-1h0m5-7h0m3 8h0m2 9h0m1-6h0m0 13h0m1-23h0m1 24h0m2-3h0m0-23h0m5 2h0m224 23h0m1-14h0m0 15h0m0-17h0m1-9h0m0 17h0m0-9h0m0 16h0m1-20h0m2 21h0m0 0h0m1 2h0m1-21h0m2 19h0m1-12h0m8-13h0m1 20h0m9-1h0m22 2h0m37-19h0m22 16h0m47 0h0m48-12h0m3-2h0m121 5h0m8 9h0m20-1h0m42-12h0m45-1h0m42 4h0m1 1h0m-739 42h0m21-19h0m2 25h0m3 0h0m1-23h0m2 17h0m0-18h0m1 25h0m0 1h0m1-25h0m0 3h0m2 9h0m1 0h0m1 5h0m3 1h0m166 5h0m45 1h0m0-13h0m4-10h0m1 21h0m1-18h0m6 5h0m1-6h0m1 0h0m0 0h0m1 9h0m3 9h0m5-25h0m19 13h0m13 9h0m44-3h0m103 4h0m8-24h0m10 16h0m21-12h0m69 14h0m13-14h0m7 4h0m49-7h0m3 26h0m66-25h0m47 2h0m2 7h0m-741 28h0m22 0h0m9-1h0m3-6h0m3 15h0m2 7h0m0-11h0m1 13h0m193-6h0m0 8h0m2-11h0m1 11h0m0-1h0m0-7h0m0-12h0m0 2h0m3 13h0m1 7h0m2-6h0m0 0h0m2-10h0m1-14h0m1 12h0m10 1h0m4 11h0m41-5h0m35-18h0m92 23h0m30-17h0m9 23h0m56-27h0m1 8h0m1 18h0m7-8h0m19-19h0m31 5h0m18 3h0m28 18h0m72-11h0m65 10h0m2 0h0m-747 3h0m11 29h0m4-24h0m21 17h0m1-3h0m13 8h0m140 0h0m2-9h0m1 2h0m4 4h0m1 0h0m3-6h0m0-10h0m2 2h0m1 3h0m3-12h0m0 0h0m1 8h0m1-6h0m1 0h0m2-1h0m2 2h0m0-3h0m1 22h0m4-12h0m5-4h0m4-2h0m157-2h0m4-2h0m51 13h0m39-5h0m23-2h0m45-7h0m40 16h0m43-4h0m14 11h0m25 4h0m-671 10h0m24-6h0m0 24h0m2-21h0m6 23h0m13-17h0m2-3h0m6 3h0m1-8h0m1 6h0m0-7h0m3 2h0m0 2h0m5 7h0m3 5h0m0-7h0m1 10h0m3-1h0m1 8h0m2-11h0m1 5h0m1-4h0m0-1h0m2 5h0m7-3h0m1-2h0m7 6h0m0 4h0m3-6h0m6 3h0m14-1h0m3 5h0m8-4h0m5 3h0m0 1h0m7-5h0m1 5h0m8 0h0m3-3h0m0-3h0m2-2h0m6 5h0m0-10h0m2 7h0m1 2h0m0 1h0m1-3h0m0-2h0m2-3h0m1 3h0m2-5h0m0-2h0m2-3h0m3 4h0m0-3h0m7 8h0m1-11h0m0 9h0m3 7h0m0-21h0m1 1h0m0 14h0m1-16h0m4 2h0m0 3h0m2-2h0m3 4h0m9 18h0m2-13h0m1 8h0m64-3h0m10 2h0m12-10h0m54-7h0m5 5h0m37 4h0m9 0h0m2 9h0m20-13h0m12-4h0m95 18h0m31 2h0m9-19h0m73 16h0m33 1h0m43-7h0m15-2h0m15-12h0"/>
<path transform="scale(.1)" fill="none" stroke="#000" stroke-width="5.0" d="M4498 4656l-20 2-20-4-22-9-18-13-17-18-12-20-9-23-6-25-2-25 1-25 6-25 8-20 9-17 11-16 16-16 28-24 5-7 1-5-3-10-15-28-10-24-8-28-7-35-5-47-2-80-3-20-9-38-2-15 1-23 5-20 6-12 8-12 20-21 13-10 12-7 12-5 13-3 13 0 14 4 42 22 18 5 16-1 57-8 43-1 50 3 20 4 16 5 13 7 3 6 0 4-10 8-22 8-33 5-37 2-33 0-57-5-10 3-6 7-1 8 0 37-7 60-2 87-5 48-8 35-8 27-11 26-16 27-2 10 1 5 5 8 24 24 15 18 9 15 8 15 6 20 5 20 1 25-1 23-4 20-7 20-11 20-11 15-14 15-16 11-14 7-18 4M4493 4654l-17 0-20-4-20-9-18-14-15-16-12-20-9-23-6-24-1-26 2-27 7-25 10-22 10-16 14-16 18-15 29-21 5-5 2-5-3-8-19-25-10-19-11-30-7-33-7-55-3-85-14-67 1-23 5-20 12-23 20-20 12-9 12-7 13-5 10-1 13 0 14 3 43 21 17 5 13 0 50-10 40-3 50 2 20 3 17 5 8 4 6 5 2 5-1 2-11 8-24 7-32 4-35 1-30-1-53-7-10 3-5 5-2 10 2 40-8 63-1 83-7 54-8 33-11 33-11 20-22 27-2 7 2 6 4 4 27 23 15 15 11 15 11 17 9 23 5 23 2 24-1 23-4 20-8 23-9 17-12 17-14 14-15 10-18 8-17 4M4496 4339l-8 1-10-3-8-5-7-7-7-10-8-14-12-30-6-27-5-28-3-35-2-70-2-17-9-38-2-20 1-18 5-14 7-16 10-13 13-11 15-10 15-5 15-2 15 1 17 7 25 13 12 10 4 10 5 48-1 20-6 50-2 92-4 28-5 28-9 32-13 27-8 11-8 7-7 5-7 3M4706 3991l-33 1-33-3-23-5-7-4-3-4 2-5 4-3 14-4 21-4 28-2 27 1 23 3 17 5 8 7-2 4-7 6-16 4-20 3M4500 4646l-22 2-20-4-20-9-18-13-15-18-13-23-8-25-4-25 0-25 5-25 7-23 13-22 15-19 20-16 23-11 20-5 17 2 18 8 20 15 16 16 13 20 10 20 6 22 3 23 0 23-4 24-8 23-9 17-14 18-15 14-18 10-18 6M4498 4314l-8 1-7-1-7-3-8-7-8-9-6-11-10-28-7-28-4-32-4-90-10-48-3-20 1-14 4-16 6-12 9-12 10-10 12-8 15-6 13-2 14 1 16 5 14 8 10 9 7 10 4 13 5 17 1 15-1 18-7 52-1 85-6 45-9 30-10 23-13 17-12 8M4700 3981l-14 2-18-1-12-2-9-4 1-2 5-3 23-4 23 1 9 3 4 3 0 2-3 2-9 3M4490 4641l-20 0-20-6-17-10-15-14-13-17-11-23-7-25-2-22 1-26 5-22 8-20 13-20 16-17 18-13 20-9 17-2 17 2 18 7 18 12 16 18 12 17 10 23 5 20 2 22-1 25-5 23-8 20-11 17-13 15-17 14-18 8-18 3M4498 4289l-5 2-7-1-8-3-7-6-11-17-10-24-5-24-4-28-2-82-12-50-2-15 1-13 2-12 6-12 6-11 10-9 10-8 13-5 13-2 12 1 10 2 12 6 9 8 8 10 5 12 4 13 2 15-1 20-7 48-1 72-5 45-6 25-9 20-10 15-11 8M4498 4634l-20 1-18-3-17-8-17-13-15-17-9-18-8-22-4-23 0-23 4-22 8-22 9-18 15-17 14-12 18-10 20-5 15 1 17 5 18 10 15 13 13 17 9 18 7 20 4 22 0 23-4 23-5 17-11 20-11 15-15 13-14 9-18 6M4496 4264l-10 1-6-3-6-6-10-15-7-20-4-20-2-20-2-75-12-48-2-17 0-13 2-10 5-10 6-9 8-8 10-6 10-4 10-2 10 1 10 3 10 5 7 7 6 9 5 10 4 12 1 12-1 18-8 48 0 67-4 37-6 20-7 18-7 11-10 7M4493 4629l-17 0-18-4-18-9-14-12-12-16-9-17-7-20-3-23 0-22 5-22 7-20 11-18 12-14 16-12 17-8 17-3 16 1 17 6 15 9 14 13 11 16 9 17 7 23 2 20-1 22-4 20-7 20-9 15-12 15-15 12-15 7-15 4M4493 4236l-7 0-8-6-8-13-4-16-5-30-1-65-3-15-10-33-3-17 0-10 3-10 8-15 13-11 8-3 10-2 10 1 7 2 7 5 7 6 9 14 4 20-1 18-10 50 0 58-3 30-4 17-6 13-6 7-7 5M4486 4624l-18-2-15-5-15-10-12-12-12-17-8-17-5-20-2-20 2-20 4-20 8-17 10-16 13-14 14-10 16-6 17-3 15 2 15 5 15 10 14 14 10 15 8 17 5 20 2 20-2 20-3 18-7 18-11 17-11 13-15 10-15 7-17 3M4493 4194l-5 1-2-2-5-7-2-8-3-20 2-34-2-16-4-14-14-33-4-20 2-15 7-12 10-8 13-4 12 2 7 4 5 6 7 12 3 15-3 20-12 37-3 13 2 45-2 18-4 14-5 6M4498 4616l-18 2-14-2-16-7-12-8-12-14-11-16-6-17-4-20-1-20 3-20 5-18 9-18 12-14 13-11 14-8 16-3 14-1 16 4 14 8 13 11 10 12 9 15 6 17 3 18 1 20-2 18-5 17-7 15-10 15-12 12-13 8-15 5M4493 4071l-7 1-8-5-7-11-3-10 0-10 2-8 6-6 7-4 7 0 8 4 5 6 3 8 0 10-2 10-5 10-6 5M4496 4611l-16 1-14-2-16-7-12-9-11-13-9-15-6-18-3-17 0-20 2-17 6-18 8-15 11-13 12-10 15-8 15-3 15 1 13 3 12 7 12 10 11 13 8 15 5 15 3 17 1 18-3 18-5 17-7 14-10 13-11 10-12 8-14 5M4490 4606l-14 0-13-3-13-6-12-11-10-12-8-16-4-14-3-18 1-18 3-17 6-15 7-14 10-11 13-10 13-5 14-3 16 1 12 5 12 7 10 10 9 12 8 16 4 14 2 16 0 17-3 15-5 15-8 15-11 12-10 9-13 6-13 3M4498 4599l-12 2-13-1-13-4-12-8-10-10-10-14-6-16-3-14-1-18 2-15 4-15 7-15 9-13 10-8 13-7 13-4 12 0 12 3 13 6 10 8 9 10 7 12 5 13 3 15 1 15-1 15-4 15-5 13-8 12-10 10-10 7-12 6M4493 4594l-13 0-12-2-12-6-10-8-9-10-7-12-4-12-3-16 0-14 2-16 4-12 7-12 10-12 9-8 11-6 12-3 12 1 10 2 10 5 10 8 8 10 8 13 4 12 3 15 0 15-2 15-4 13-7 12-7 10-10 9-10 5-10 4M4493 4586l-13 2-10-2-10-4-10-8-7-8-7-12-5-13-2-13 0-14 2-13 4-13 5-11 8-9 10-8 10-5 10-3 12 1 10 3 10 5 8 7 7 8 5 10 5 12 2 13 1 13-2 12-3 11-5 11-7 10-8 9-10 6-10 3M4490 4579l-10 1-10-2-10-5-7-6-7-9-5-10-4-10-2-12 0-12 2-13 4-10 5-10 7-8 9-7 8-4 10-2 10 1 8 2 8 4 7 7 7 8 5 9 4 10 2 13-2 22-3 10-5 10-5 8-8 7-8 5-10 3M4490 4569l-14 0-8-3-8-5-7-7-4-8-4-10-2-10 2-20 7-18 6-7 8-6 7-3 7-2 8 0 8 3 12 8 10 15 5 18-1 17-6 18-10 12-8 5-8 3M4483 4554l-10-3-9-7-6-11-2-12 1-13 6-11 10-9 10-2 10 2 10 9 6 11 1 13-2 12-6 11-9 7-10 3"/>
<rect x="431.3" y="380.6" width="86.20" height="86.90" fill="none" stroke="#6a6a6a" stroke-width="0.9"/>
<path stroke="#6a6a6a" stroke-width="0.8" d="M460.3 380.6V467.5M431.3 436.8H517.5"/>
<g font-family="'Liberation Sans', sans-serif" font-size="8.5" fill="#111" stroke="#fff" stroke-width="1.6" paint-order="stroke" stroke-linejoin="round">
<text x="432.9" y="389.1">23.2%</text>
<text x="515.9" y="389.1" text-anchor="end">2.3%</text>
<text x="515.9" y="465.9" text-anchor="end">0.9%</text>
</g>
<path stroke="#555" stroke-width="0.5" d="M429.8 388.5H431.3M429.8 407.3H431.3M429.8 427.2H431.3M429.8 448.2H431.3M429.8 457.7H431.3M441.5 467.5V469.0M450.4 467.5V469.0M470.9 467.5V469.0M490.2 467.5V469.0M509.0 467.5V469.0M430.5 401.3H431.3M430.5 397.8H431.3M430.5 395.3H431.3M430.5 393.4H431.3M430.5 391.8H431.3M430.5 390.5H431.3M430.5 389.3H431.3M430.5 421.2H431.3M430.5 417.7H431.3M430.5 415.2H431.3M430.5 413.3H431.3M430.5 411.7H431.3M430.5 410.4H431.3M430.5 409.2H431.3M430.5 408.2H431.3M430.5 442.2H431.3M430.5 438.7H431.3M430.5 436.2H431.3M430.5 434.3H431.3M430.5 432.7H431.3M430.5 431.4H431.3M430.5 430.2H431.3M430.5 429.2H431.3M456.2 467.5V468.3M459.6 467.5V468.3M462.0 467.5V468.3M463.9 467.5V468.3M465.4 467.5V468.3M466.7 467.5V468.3M467.8 467.5V468.3M468.8 467.5V468.3M476.7 467.5V468.3M480.1 467.5V468.3M482.5 467.5V468.3M484.4 467.5V468.3M485.9 467.5V468.3M487.2 467.5V468.3M488.3 467.5V468.3M489.3 467.5V468.3M496.0 467.5V468.3M499.4 467.5V468.3M501.8 467.5V468.3M503.7 467.5V468.3M505.2 467.5V468.3M506.5 467.5V468.3M507.6 467.5V468.3M508.6 467.5V468.3"/>
<g font-family="'Liberation Sans', sans-serif" fill="#222">
<text x="429.1" y="389.9" font-size="4.8" text-anchor="end">10<tspan font-size="3.4" dy="-1.8">5</tspan></text>
<text x="429.1" y="408.7" font-size="4.8" text-anchor="end">10<tspan font-size="3.4" dy="-1.8">4</tspan></text>
<text x="429.1" y="428.6" font-size="4.8" text-anchor="end">10<tspan font-size="3.4" dy="-1.8">3</tspan></text>
<text x="429.1" y="449.6" font-size="4.8" text-anchor="end">10<tspan font-size="3.4" dy="-1.8">2</tspan></text>
<text x="429.1" y="459.1" font-size="4.8" text-anchor="end">0</text>
<text x="441.5" y="476.1" font-size="4.8" text-anchor="middle">0</text>
<text x="450.4" y="476.1" font-size="4.8" text-anchor="middle">10<tspan font-size="3.4" dy="-1.8">2</tspan></text>
<text x="470.9" y="476.1" font-size="4.8" text-anchor="middle">10<tspan font-size="3.4" dy="-1.8">3</tspan></text>
<text x="490.2" y="476.1" font-size="4.8" text-anchor="middle">10<tspan font-size="3.4" dy="-1.8">4</tspan></text>
<text x="509.0" y="476.1" font-size="4.8" text-anchor="middle">10<tspan font-size="3.4" dy="-1.8">5</tspan></text>
</g>
<path stroke="#111" stroke-width="1" d="M431.8 481.9H513.5"/>
<path fill="#111" d="M516.5 481.9L511.5 480.0L511.5 483.79999999999995z"/>
<text x="471.3" y="495.7" font-family="'Liberation Sans', sans-serif" font-size="11" fill="#000" stroke="#000" stroke-width="0.15" text-anchor="middle">IL-4</text>
<path transform="scale(.1)" stroke="#5a5a5a" stroke-width="6.2" stroke-linecap="square" d="M4492 5065h0m15 40h0m191-13h0m-269 31h0m27 16h0m208-4h0m-169 15h0m9 17h0m9-11h0m-58 33h0m2-11h0m10 17h0m8 4h0m19-14h0m5 10h0m13-19h0m0 15h0m25 7h0m30 5h0m1-9h0m20 1h0m2-10h0m83 11h0m7 3h0m326-1h0m-628 36h0m42-6h0m7 5h0m3-8h0m9 2h0m5-1h0m3 8h0m3-9h0m12 8h0m12-1h0m3-16h0m4-11h0m7 26h0m4-10h0m1 9h0m2-5h0m4-2h0m1-4h0m3 6h0m2 8h0m1-1h0m6-12h0m6-3h0m10 3h0m1 15h0m1-10h0m0-10h0m10-5h0m3 25h0m6-2h0m1-14h0m1-13h0m5 25h0m5-8h0m2 5h0m2-12h0m6-2h0m3-6h0m1 5h0m0 21h0m6-8h0m20-5h0m3-4h0m2 3h0m3-1h0m6 14h0m9-2h0m13-21h0m1 12h0m7-13h0m25 23h0m6-13h0m262 2h0m-581 33h0m2-8h0m19 17h0m16-18h0m1 2h0m2 13h0m11-8h0m5 2h0m10 6h0m4-9h0m4-10h0m0 13h0m3-3h0m1-2h0m9 7h0m1-1h0m4-6h0m3-2h0m7-8h0m2 11h0m4-1h0m0-1h0m0 3h0m1 0h0m1 1h0m4-7h0m16 0h0m2 0h0m0-6h0m1 5h0m7-7h0m2-2h0m2 7h0m6-6h0m10 3h0m10 5h0m4-5h0m12 1h0m0-4h0m2 0h0m2 4h0m1 2h0m0 3h0m10-2h0m3-6h0m3 6h0m0-7h0m1 7h0m7-3h0m1 3h0m1-1h0m4 3h0m1-8h0m4 12h0m5-1h0m6 5h0m1 5h0m3-2h0m0-2h0m0 2h0m1-2h0m8-8h0m2-8h0m3 19h0m3-10h0m1 16h0m1-4h0m3-5h0m8-1h0m0-10h0m6-6h0m1 15h0m5-3h0m7 6h0m9 1h0m17-19h0m9 22h0m43-6h0m20 6h0m32-18h0m51 8h0m44 8h0m43-16h0m21 7h0m1-5h0m14 12h0m34 6h0m61-5h0m2-16h0m34 21h0m-742 18h0m8-4h0m25-9h0m0 29h0m6-1h0m0-13h0m4-12h0m6 16h0m11-17h0m2 16h0m8-10h0m0 4h0m4-6h0m3-6h0m1 2h0m4 0h0m213 0h0m29 26h0m0-5h0m2-6h0m0 4h0m2 5h0m1-9h0m1 8h0m1 2h0m17 1h0m4-21h0m12 21h0m12-3h0m3-5h0m19 3h0m2-6h0m5 9h0m4-9h0m23-15h0m26 17h0m38-2h0m3 10h0m2-14h0m1 9h0m42-20h0m1-1h0m48 11h0m4-7h0m10-3h0m23 7h0m55 15h0m25-16h0m-712 49h0m5-11h0m2 3h0m1-5h0m1-7h0m5-7h0m1 27h0m0 0h0m1-3h0m0 4h0m2-26h0m3 8h0m1 8h0m3-4h0m5-14h0m1 7h0m135 15h0m167-19h0m21 9h0m4 11h0m3-15h0m4 2h0m4-6h0m1 18h0m3-16h0m7 6h0m2-11h0m2 24h0m7-8h0m11-3h0m5-14h0m2 10h0m44 18h0m7-8h0m27-14h0m12 12h0m13-7h0m18-7h0m9 24h0m19 1h0m34-24h0m35 15h0m51-2h0m6-18h0m67 13h0m-766 31h0m6 4h0m3-10h0m1 0h0m3 2h0m1-3h0m3-1h0m369-5h0m7 19h0m0-13h0m5 15h0m4 3h0m0-2h0m7-15h0m11-7h0m4 8h0m3 9h0m2-10h0m11-4h0m4 1h0m29-5h0m10 25h0m9-2h0m19-7h0m38 5h0m11-7h0m8-14h0m47 8h0m43 11h0m31 2h0m30-10h0m101-3h0m-819 30h0m0 0h0m412 5h0m3 6h0m0-8h0m5 13h0m0-17h0m8 19h0m3-26h0m0 0h0m5 1h0m3 24h0m2-22h0m7 11h0m3 12h0m139-13h0m18 10h0m28-23h0m19 23h0m69-16h0m2-7h0m3 19h0m-316 14h0m3 10h0m2 1h0m3 7h0m2-16h0m0 20h0m1 0h0m9-22h0m2 4h0m12 19h0m7-24h0m3 24h0m4-3h0m5-1h0m16-6h0m16-16h0m12 24h0m51-3h0m42 2h0m73-2h0m24 6h0m36-28h0m5 14h0m-317 17h0m1 28h0m0-13h0m10-9h0m14 0h0m1-5h0m1 0h0m2 14h0m27-1h0m1 8h0m92-4h0m13 6h0m12 1h0m33-6h0m63-17h0m-378 50h0m3-13h0m105 6h0m1 7h0m0-4h0m1-7h0m0 9h0m1 5h0m1-19h0m3 12h0m2 0h0m1-9h0m2-4h0m1 16h0m2 0h0m1-3h0m1 4h0m8-12h0m9-7h0m1 18h0m3-15h0m1-1h0m2 10h0m10-12h0m1-3h0m294 26h0m6-26h0m-358 57h0m2-22h0m1 11h0m2-11h0m0 13h0m1-12h0m1-2h0m5 16h0m1-20h0m22 4h0m14-3h0m17 22h0m1-16h0m7 13h0m30-3h0m34-16h0m14 6h0m36 17h0m12-20h0m4-3h0m21 4h0m19 6h0m8 10h0m42-13h0m-462 32h0m79 13h0m79 5h0m3-19h0m0 16h0m6-10h0m2 7h0m7-1h0m4 5h0m3 1h0m7 1h0m12-14h0m5-11h0m3 22h0m28-16h0m100 7h0m7-3h0m2-9h0m69 9h0m11 7h0m3-8h0m57 0h0m11-8h0m-750 33h0m1 15h0m189 6h0m61-19h0m140 16h0m1 1h0m6 2h0m3-11h0m4-9h0m1 10h0m3-12h0m1 17h0m4-20h0m6 10h0m0-3h0m13 0h0m11 18h0m9-21h0m8-4h0m0 11h0m2-4h0m1 15h0m0 3h0m2-28h0m30 5h0m1 18h0m14-12h0m22-9h0m41 3h0m20 1h0m25 8h0m46-1h0m24-12h0m12 22h0m34 2h0m-736 27h0m0-10h0m1 2h0m378 1h0m1-1h0m1 3h0m1 0h0m3 6h0m4-9h0m0-13h0m10 26h0m6-13h0m4-14h0m11 6h0m7-4h0m2 14h0m35 7h0m11-9h0m72 13h0m23-11h0m22-3h0m48 6h0m24-3h0m-664 23h0m44 15h0m13-14h0m317 2h0m0-3h0m1 16h0m0 3h0m0-10h0m1-16h0m2 20h0m0 2h0m0 2h0m1-18h0m0 10h0m1-2h0m3 2h0m1 1h0m4 7h0m6-2h0m3-25h0m55 10h0m9 18h0m13-19h0m25-6h0m10 19h0m4-14h0m7 17h0m77-13h0m11-4h0m20 1h0m18-6h0m46 0h0m-368 53h0m50-25h0m2 19h0m0 1h0m0-12h0m1-3h0m0-2h0m0 20h0m2-10h0m0 6h0m0 3h0m0-16h0m1 10h0m0 8h0m0 1h0m0-20h0m1 18h0m3 5h0m1-4h0m1 1h0m0-8h0m2 1h0m1-3h0m2-12h0m1 16h0m2-16h0m6 10h0m2 2h0m1 12h0m1-23h0m2 16h0m1 8h0m0-1h0m6-23h0m2 19h0m7-2h0m4-9h0m0-3h0m1 10h0m7-6h0m30 6h0m50-17h0m27 8h0m61 0h0m2-1h0m13-5h0m-560 25h0m321 6h0m1-4h0m1 4h0m0-6h0m1 11h0m1-4h0m0 0h0m0-6h0m3 4h0m1 4h0m0 5h0m1 10h0m3-6h0m1 3h0m0 0h0m2 2h0m0 2h0m0 4h0m0-5h0m1-11h0m0 10h0m2-19h0m0 7h0m1 17h0m1 1h0m0-9h0m3 1h0m2 8h0m1-3h0m2 2h0m2-12h0m2 8h0m0 0h0m3 4h0m8-1h0m2-23h0m1 17h0m2-6h0m2 0h0m2 0h0m8-6h0m2 12h0m4 6h0m6-22h0m9 13h0m13-4h0m13 7h0m26-20h0m60 0h0m47 20h0m21-14h0m67-3h0m5 9h0m-317 23h0m4 0h0m0 4h0m1-8h0m0 0h0m0 8h0m1-6h0m0 11h0m1-7h0m0 3h0m0 13h0m0-15h0m1 3h0m1-2h0m0-4h0m1 16h0m1-9h0m0-10h0m1 11h0m0-1h0m1 3h0m0 2h0m2-13h0m0 19h0m1-9h0m1 10h0m0 3h0m1-21h0m1 8h0m0 2h0m1 8h0m1-4h0m0 6h0m1-12h0m1 11h0m1-20h0m0 24h0m2-16h0m2 14h0m0-1h0m1-25h0m5 13h0m0-13h0m0 19h0m6-17h0m4-1h0m0 9h0m5 0h0m3 13h0m6 2h0m6-1h0m0 3h0m19-19h0m22-7h0m46 19h0m45-21h0m1 15h0m6 1h0m13-12h0m5 7h0m36 9h0m17-9h0m49-4h0m36 12h0m-738 14h0m366 19h0m20 4h0m6-21h0m2 5h0m0-10h0m1 3h0m1 0h0m2 23h0m0-11h0m1-3h0m1-9h0m1 14h0m1 5h0m0 3h0m0-13h0m1-1h0m2-5h0m1 9h0m0-13h0m1 21h0m1-2h0m0-10h0m1-6h0m2 17h0m0-13h0m0 20h0m2-9h0m0-2h0m3-7h0m3 13h0m1 4h0m1-19h0m2 7h0m5-2h0m1-6h0m1 10h0m1-13h0m2 6h0m0 13h0m5-24h0m6 15h0m4 1h0m17-7h0m1-2h0m35 3h0m103-5h0m4-1h0m14-1h0m60-2h0m22 11h0m7 16h0m14-5h0m9-10h0m14 5h0m-479 13h0m124 28h0m1-5h0m3-6h0m0-6h0m0 3h0m0-5h0m0 18h0m0-1h0m1-24h0m0 20h0m1-8h0m3 9h0m0-15h0m2 17h0m3-7h0m1 9h0m1-22h0m0 19h0m0-5h0m3 7h0m4-26h0m2 16h0m1 10h0m0-7h0m3-5h0m0-7h0m1 11h0m4-9h0m2 5h0m1-15h0m2 11h0m5-12h0m1 7h0m3 5h0m1 16h0m13-23h0m9-4h0m3 8h0m24-2h0m35 21h0m10-7h0m42-16h0m33 7h0m3 3h0m6 5h0m38 5h0m30-22h0m56 21h0m-361 34h0m3-2h0m1 1h0m1 2h0m0-7h0m1 8h0m0-16h0m2 5h0m1-8h0m0 3h0m1-3h0m0 3h0m0 0h0m0-5h0m1 8h0m1 13h0m1 0h0m2-17h0m1 10h0m1-12h0m0 11h0m1-8h0m1-12h0m0 10h0m0-4h0m0-3h0m2 21h0m2-21h0m4 5h0m1 3h0m1-11h0m3 8h0m1 6h0m0-1h0m0 7h0m2 6h0m0-4h0m3-6h0m2-4h0m0 14h0m0-8h0m1-17h0m1 20h0m2 1h0m1-4h0m0-12h0m1 1h0m1 7h0m2 5h0m6-9h0m15-12h0m7 6h0m2-2h0m2-1h0m58-2h0m42 8h0m6-1h0m29 12h0m96 3h0m62-12h0m-393 46h0m6-8h0m1 8h0m2-10h0m1-7h0m2 0h0m0 11h0m2-2h0m0-6h0m0 2h0m2-6h0m0-4h0m2 19h0m1-8h0m0-13h0m1 23h0m1-21h0m1 11h0m2 7h0m2-9h0m0 10h0m3-4h0m2 2h0m3 0h0m4-4h0m1 7h0m1-23h0m3 3h0m6-4h0m1 4h0m1 8h0m1-6h0m0 6h0m4 14h0m7-13h0m1 12h0m2-2h0m4-21h0m5 15h0m13 4h0m8-17h0m11 8h0m29 12h0m3-12h0m57-1h0m18 15h0m15 1h0m4-1h0m16-18h0m2 12h0m50-15h0m31 2h0m6 15h0m-717 36h0m355-23h0m14 23h0m2-4h0m1 0h0m1-12h0m1-1h0m2-11h0m0 14h0m1-11h0m0 5h0m0 17h0m1-22h0m0 13h0m0 5h0m0-6h0m0 10h0m1-15h0m0-5h0m0 5h0m0-7h0m1 0h0m0 9h0m1 15h0m1-26h0m0 18h0m1-12h0m1 5h0m2 3h0m1-4h0m1-11h0m1 4h0m0 16h0m1-5h0m0-14h0m1 1h0m1 16h0m0-12h0m1 5h0m1-12h0m1 7h0m1 5h0m6-2h0m6 3h0m2 3h0m2-10h0m3 15h0m4-11h0m7-4h0m10 17h0m34-3h0m0 9h0m47-28h0m37-1h0m6 11h0m63 15h0m17-3h0m10-8h0m8-6h0m42-2h0m11 8h0m37 10h0m14-6h0m42 10h0m-805 7h0m0-4h0m1 21h0m0-21h0m1 7h0m1 16h0m1-15h0m0 8h0m1-4h0m2 5h0m2 4h0m41 3h0m2-7h0m1 7h0m5-6h0m0-1h0m1 7h0m0-8h0m0-3h0m1-2h0m1 12h0m1-10h0m1 9h0m1 0h0m0-6h0m1 11h0m0-16h0m1 0h0m1 2h0m1 7h0m1-5h0m6 3h0m0 3h0m0 5h0m1-10h0m1 11h0m2-11h0m1 2h0m1 4h0m1-3h0m0 8h0m0-7h0m2-1h0m1 5h0m0-5h0m2 8h0m1-7h0m0 4h0m1-6h0m1 0h0m1 9h0m1-2h0m4 0h0m1-7h0m0 3h0m1-3h0m5 4h0m13 4h0m2-20h0m2 22h0m15-1h0m2 1h0m0-2h0m3 0h0m31 2h0m29-14h0m30 14h0m0 0h0m2-2h0m8 0h0m7-2h0m0 4h0m2-1h0m0-2h0m2-2h0m5 2h0m1-1h0m1-1h0m2 1h0m2-2h0m0 3h0m3-4h0m1 4h0m0-1h0m1-3h0m1 6h0m2-8h0m0 7h0m1-6h0m3 4h0m4-8h0m0 9h0m0-8h0m3 3h0m0 7h0m1-11h0m2 0h0m1 6h0m1-4h0m2 2h0m1-7h0m3 5h0m1-6h0m2 10h0m1-11h0m0 13h0m0-11h0m0-1h0m2 4h0m0 9h0m4-13h0m0 7h0m0-6h0m3-4h0m2-1h0m1 4h0m1 12h0m1-11h0m1-3h0m1 3h0m1 3h0m0-6h0m0 5h0m0-2h0m0-3h0m0 11h0m3-11h0m2-3h0m1 10h0m0-8h0m1 13h0m0-8h0m0 3h0m1-11h0m0 3h0m0 5h0m1 2h0m0 3h0m1-1h0m2-5h0m1 8h0m0-7h0m0 9h0m1-14h0m1 7h0m2 4h0m0-4h0m1 5h0m0 2h0m2-14h0m0 4h0m2 7h0m2 0h0m0 8h0m0-7h0m1 5h0m1-8h0m1 5h0m19 2h0m0 1h0m2-3h0m0 3h0m1-3h0m1 4h0m1-4h0m1-12h0m2 10h0m0-2h0m0 8h0m1-20h0m0 15h0m0-22h0m0 20h0m1-13h0m0-8h0m0 4h0m3 9h0m0-8h0m1 8h0m1-7h0m1 12h0m1 5h0m3-6h0m1-16h0m2 4h0m1-3h0m4-3h0m1 14h0m3 13h0m9-22h0m13 1h0m1-5h0m3 11h0m5 16h0m10-15h0m5-9h0m110 4h0"/>
<path transform="scale(.1)" fill="none" stroke="#000" stroke-width="5.0" d="M4313 5390l11-24 15-26 20-22 21-19 66-43 10-2 22 0 8-3 17-11 10-1 27 10 8 0 15-2 10 0 27 14 26 6 12 8 38 29 14 13 13 13 11 16 11 17 8 17 7 18 4 18 3 17-1 35-2 18-5 17-13 33-26 40-4 12-1 15 1 30 4 30 6 14 16 29 7 17 3 20 0 20-7 25-27 47-15 45-7 15-6 3-4-2-15-23-3-3-5-2-7 2-36 12-27 7-30 5-27 1-33 0-30-3-25-5-38-10-7-1-5 1-5 5-13 26M4313 5653l7-46 4-39-2-25-9-31M4336 5908l-6-15-17-55M4313 5669l7-32 10-57 2-22-2-25-10-47-3-20 0-23 2-23 8-27 12-27 17-26 22-22 18-14 50-34 10-3 22-1 25-12 10-1 27 9 23-2 10 1 27 14 26 6 14 10 33 28 14 14 19 25 15 30 10 32 2 33-2 23-5 22-9 25-21 40-4 13-2 17 1 27 5 37 7 28 13 28 5 15 2 18 0 17-6 23-19 36-16 44-6 12-3 2-5 1-5-4-12-14-8-2-45 16-30 7-38 5-37 1-27-2-23-4-23-5-32-10-8-1-4 2-5 3-15 24-8 4-5-2-3-3-4-8-23-63M4389 5626l6-3 6-5 2-5 0-5-3-5-5-5-7-5-5-1-3 1-3 5-1 8 1 7 3 10 6 3 3 0M4313 5686l7-27 12-53 12-46 1-10 0-20-10-64 0-23 3-20 5-20 8-20 10-17 12-18 20-20 50-40 13-4 22-1 22-11 8-2 10 0 22 8 23-2 10 1 27 15 23 6 13 7 38 41 19 24 7 16 7 17 5 17 2 18 0 22-3 23-6 20-17 44-3 16-1 17 2 30 7 54 5 23 14 43 2 16-1 12-2 12-4 16-29 72-5 6-5 2-17-13-8-1-37 15-33 9-33 5-34 2-30-1-28-4-28-6-34-12-8 0-8 3-14 15-8 4-6-4-6-10-23-58M4392 5636l16-8 10-8 4-7 0-10-8-13-16-14-18-12-4-2-6 1-4 5-1 12 2 23 3 19 4 8 5 6 7 1 6-1M4645 5636l3-9 1-11-1-8-2-4-3 0-5 3-5 6-3 5-1 5 3 7 4 6 4 2 5-2M4313 5703l23-89 4-13 6-7 4-2 6 5 14 39 6 7 4 2 6 0 7-2 27-13 13-10 6-10 0-4-3-8-16-25-10-13-25-27-12-17-8-16-5-17-2-17-1-16 2-17 3-15 4-15 7-15 9-15 9-13 42-44 10-9 13-4 22 0 20-12 10-4 10 1 22 9 23-3 10 1 7 4 20 14 20 4 10 5 15 16 31 48 10 24 5 28 1 15-1 17-14 63-3 30 16 106 14 61 1 23-2 17-6 26-13 37-8 15-3 4-5 2-18-10-7 0-35 15-22 8-33 7-30 3-35 0-32-3-30-7-40-14-8-1-8 1-14 12-8 2-8-5-6-12-21-55M4646 5648l4-7 3-8 4-30 1-23-2-7-3-2-5 2-15 15-10 7-7 1-16-1-4 2-6 6-3 7 1 6 2 4 8 8 20 9 20 12 5 1 3-2M4313 5723l22-87 5-16 6-7 2-1 5 3 13 25 6 8 6 4 5 1 9-3 23-10 35-19 10-2 18-1 8-2 9-6 6-7-1-5-2-5-10-12-5-4-7-1-13 6-7 1-10-4-8-8-8-11-6-14-22-56-4-14-3-13 0-15 1-12 3-16 6-17 19-43 14-23 8-7 7-3 7 0 13 3 5 0 5-3 17-15 6-2 7-1 7 2 20 13 6-1 17-7 10 2 9 5 18 19 6 1 12-1 10 5 10 12 9 21 8 28 5 30 0 28-3 27-5 27-7 20-9 18-6 6-7 5-7 2-13-3-5 1-5 3-15 14-10 5-8 0-14-9-8-1-5 3-8 9-3 5 0 5 5 7 9 5 7 2 23 2 31 19 21 9 20 11 5 1 5-3 5-8 13-42 2-3 2 0 3 3 5 14 5 26 14 74 3 28-2 25-6 23-8 27-8 16-3 3-5 2-5-1-10-6-7-1-36 16-27 10-33 7-30 3-34 0-36-5-30-7-34-14-8-1-8 1-14 8-8 2-8-6-9-17-11-33-7-26M4516 5556l-8 0-5-3-8-13-8-27-6-43 4-47 7-47 4-13 4-9 6-5 4-2 6 1 4 5 8 17 4 23 6 51 2 12 7-50 6-28 6-15 4-4 5-2 8 4 7 13 15 54 2 1 3-5 7-18 6-9 2-2 5 0 5 6 5 11 3 11 3 33-1 20-2 17-3 12-5 10-8 8-4 1-6-3-10-17-2-1-2 3-10 26-6 10-4 6-8 3-5 0-5-4-7-14-5-20-6-39-11 59-6 15-7 8M4458 5541l-5-1-5-2-5-6-5-9-5-20-3-33 1-37 5-32 7-21 5-6 5-2 5 1 2 3 8 17 6 30 5 43-2 24-6 28-5 16-4 4-4 3M4536 5866l-36 1-32-2-40-9-48-18-10 1-14 7-6 1-4-2-6-5-8-17-10-30-6-25-1-22 4-33 10-43 9-29 8-13 2-1 5 3 17 25 6 4 4 1 13-4 57-25 30-4 23-5 13-1 22 6 22 3 10 2 48 22 20 12 5 1 5-2 5-7 13-32 2-3 2-1 3 3 5 12 6 29 8 44 3 33 0 20-3 20-7 25-7 18-5 7-5 2-5-1-10-5-7-1-33 17-23 9-27 7-27 5M4538 5861l-35 2-35-3-40-9-50-20-8 1-17 6-5 0-5-4-8-14-9-24-5-26-2-24 3-28 7-35 9-30 8-12 2-1 5 1 17 22 6 3 4 0 10-2 48-22 12-4 53-8 13 0 44 7 13 4 43 19 22 14 5 1 5-2 5-6 13-27 2-3 2 0 3 2 5 12 7 29 5 33 2 30-1 23-4 22-5 20-6 13-6 5-4 1-13-5-7-1-33 18-20 8-27 9-28 5M4538 5856l-38 2-34-3-20-4-20-6-48-20-8 0-17 6-5-1-5-4-7-12-7-21-5-23-2-24 2-26 6-30 8-26 8-12 2-2 5 1 17 19 6 3 4 0 8-2 42-20 20-7 50-7 18 0 42 7 13 3 43 20 22 14 5 2 5-2 2-2 16-28 2-2 2 0 3 2 5 12 6 25 4 28 1 24 0 20-3 20-5 20-5 13-6 6-4 1-13-6-7-1-30 18-23 11-27 9-28 5M4513 5853l-35-1-35-7-27-9-38-18-8 0-17 6-5-1-5-5-7-13-6-19-4-20-1-23 2-23 5-27 6-19 8-13 2-1 5 0 17 17 6 3 4 0 8-2 45-22 17-6 50-7 18 0 40 6 18 5 37 18 25 17 5 2 5-1 2-3 16-26 2-2 2 0 3 3 5 12 5 22 3 24 1 23-1 20-3 20-5 17-5 9-3 2-4 2-16-8-4 0-33 22-27 12-36 10-37 4M4518 5848l-38-1-34-6-29-11-39-20-8 1-17 6-7-3-8-12-5-16-4-20-1-20 1-23 4-23 6-20 7-10 2-2 5 0 17 16 6 3 4 0 8-2 35-19 25-10 12-3 38-5 20 0 42 8 18 5 35 18 25 19 5 2 5-1 2-3 13-23 5-4 2 0 6 8 4 16 3 23 2 22-1 20-2 18-4 14-5 11-3 3-4 1-16-9-4 0-6 3-27 21-25 13-33 10-37 5M4516 5843l-38-1-35-8-27-10-30-19-8-3-8 1-14 7-6-1-4-3-6-8-5-15-3-17-1-20 1-20 3-20 5-19 6-8 2-3 5 0 5 3 12 13 6 3 4 1 8-3 32-19 28-12 15-3 35-5 20 0 42 8 20 7 35 19 23 21 5 3 5-2 2-3 16-28 2-1 2 0 6 10 3 12 2 20 1 20 0 18-3 18-3 11-6 9-2 1-5-1-13-10-4-1-6 3-24 23-28 16-16 6-19 5-37 5M4536 5836l-23 2-20-1-23-2-20-4-15-5-17-8-13-8-19-14-8-4-8 1-14 9-8-2-5-6-5-13-3-15-2-18 1-18 2-17 4-16 6-10 4-3 6 1 17 19 7 2 8-4 28-19 32-15 15-3 35-5 22 0 43 9 13 4 14 7 28 19 25 29 3 0 2-2 15-34 5-5 2 1 4 8 3 12 3 32-2 28-3 10-5 9-2 2-5-1-13-17-4-3-6 3-11 17-9 10-19 15-14 7-17 7-34 9M4526 5831l-20 1-23-2-20-3-20-6-15-6-15-8-11-9-16-15-8-4-5 1-16 13-4 1-5-2-5-8-3-8-4-28 2-30 4-12 4-9 4-4 6 1 17 22 5 3 2 0 6-3 27-23 30-16 20-6 45-5 20 2 38 8 17 8 21 14 9 8 9 10 6 10 4 12 2 10-1 10-3 10-5 10-7 10-10 10-22 15-28 11-32 7M4668 5779l-5-2-4-7-5-12-1-12 1-16 4-14 5-14 5-5 3 3 4 10 2 28-2 25-2 9-5 7M4528 5823l-32 1-30-4-29-10-14-7-10-7-10-10-8-10-7-13-3-10 1-7 3-10 13-20 19-18 25-14 17-5 40-6 20 2 40 9 17 8 19 14 13 14 8 18 2 10-1 10-7 18-6 9-8 8-20 14-24 10-28 6M4356 5784l-6 0-4-6-5-12-2-16 1-17 2-15 4-11 4-5 6 1 7 10 8 20 4 13-1 10-5 12-6 10-7 6M4668 5767l-2 0-4-7-3-10 0-10 3-22 4-7 2-1 2 3 3 7 1 18-1 17-3 8-2 4M4530 5813l-27 2-30-3-27-9-21-13-8-7-7-9-4-8-3-10 0-8 2-10 3-8 6-10 16-15 20-12 16-4 34-6 18 0 32 8 18 6 13 9 15 14 8 16 3 14-1 10-3 8-10 15-17 14-20 10-26 6M4353 5773l-5-4-2-6-3-20 3-21 2-5 2-3 3 0 4 4 4 8 3 20-1 10-3 9-3 5-4 3M4523 5798l-23 1-24-3-21-8-14-10-10-12-3-8-1-8 3-14 10-16 9-7 11-6 36-8 12-1 15 2 25 8 12 6 10 6 8 10 4 13 0 13-5 12-8 10-13 10-16 6-17 4M4353 5751l-3-2 0-6 0-6 3-2 2 8-2 8"/>
<rect x="431.3" y="503.8" width="86.20" height="86.90" fill="none" stroke="#6a6a6a" stroke-width="0.9"/>
<path stroke="#6a6a6a" stroke-width="0.8" d="M472.5 503.8V590.7M431.3 559.8H517.5"/>
<g font-family="'Liberation Sans', sans-serif" font-size="8.5" fill="#111" stroke="#fff" stroke-width="1.6" paint-order="stroke" stroke-linejoin="round">
<text x="432.9" y="512.3">27.1%</text>
<text x="515.9" y="512.3" text-anchor="end">0.6%</text>
<text x="515.9" y="589.1" text-anchor="end">0.3%</text>
</g>
<path stroke="#555" stroke-width="0.5" d="M429.8 511.7H431.3M429.8 530.5H431.3M429.8 550.4H431.3M429.8 571.4H431.3M429.8 580.9H431.3M441.5 590.7V592.2M450.4 590.7V592.2M470.9 590.7V592.2M490.2 590.7V592.2M509.0 590.7V592.2M430.5 524.5H431.3M430.5 521.0H431.3M430.5 518.5H431.3M430.5 516.6H431.3M430.5 515.0H431.3M430.5 513.7H431.3M430.5 512.5H431.3M430.5 544.4H431.3M430.5 540.9H431.3M430.5 538.4H431.3M430.5 536.5H431.3M430.5 534.9H431.3M430.5 533.6H431.3M430.5 532.4H431.3M430.5 531.4H431.3M430.5 565.4H431.3M430.5 561.9H431.3M430.5 559.4H431.3M430.5 557.5H431.3M430.5 555.9H431.3M430.5 554.6H431.3M430.5 553.4H431.3M430.5 552.4H431.3M456.2 590.7V591.5M459.6 590.7V591.5M462.0 590.7V591.5M463.9 590.7V591.5M465.4 590.7V591.5M466.7 590.7V591.5M467.8 590.7V591.5M468.8 590.7V591.5M476.7 590.7V591.5M480.1 590.7V591.5M482.5 590.7V591.5M484.4 590.7V591.5M485.9 590.7V591.5M487.2 590.7V591.5M488.3 590.7V591.5M489.3 590.7V591.5M496.0 590.7V591.5M499.4 590.7V591.5M501.8 590.7V591.5M503.7 590.7V591.5M505.2 590.7V591.5M506.5 590.7V591.5M507.6 590.7V591.5M508.6 590.7V591.5"/>
<g font-family="'Liberation Sans', sans-serif" fill="#222">
<text x="429.1" y="513.1" font-size="4.8" text-anchor="end">10<tspan font-size="3.4" dy="-1.8">5</tspan></text>
<text x="429.1" y="531.9" font-size="4.8" text-anchor="end">10<tspan font-size="3.4" dy="-1.8">4</tspan></text>
<text x="429.1" y="551.8" font-size="4.8" text-anchor="end">10<tspan font-size="3.4" dy="-1.8">3</tspan></text>
<text x="429.1" y="572.8" font-size="4.8" text-anchor="end">10<tspan font-size="3.4" dy="-1.8">2</tspan></text>
<text x="429.1" y="582.3" font-size="4.8" text-anchor="end">0</text>
<text x="441.5" y="599.3" font-size="4.8" text-anchor="middle">0</text>
<text x="450.4" y="599.3" font-size="4.8" text-anchor="middle">10<tspan font-size="3.4" dy="-1.8">2</tspan></text>
<text x="470.9" y="599.3" font-size="4.8" text-anchor="middle">10<tspan font-size="3.4" dy="-1.8">3</tspan></text>
<text x="490.2" y="599.3" font-size="4.8" text-anchor="middle">10<tspan font-size="3.4" dy="-1.8">4</tspan></text>
<text x="509.0" y="599.3" font-size="4.8" text-anchor="middle">10<tspan font-size="3.4" dy="-1.8">5</tspan></text>
</g>
<path stroke="#111" stroke-width="1" d="M431.8 605.1H513.5"/>
<path fill="#111" d="M516.5 605.1L511.5 603.2L511.5 607.0z"/>
<text x="473.0" y="618.9000000000001" font-family="'Liberation Sans', sans-serif" font-size="11" fill="#000" stroke="#000" stroke-width="0.15" text-anchor="middle">IL-17</text>
<path transform="scale(.1)" stroke="#5a5a5a" stroke-width="6.2" stroke-linecap="square" d="M644 5048h0m-87 59h0m43 19h0m17 14h0m4-21h0m195 7h0m102 5h0m280-13h0m-569 51h0m143-14h0m-193 48h0m4-19h0m26 11h0m12 4h0m12 4h0m2-23h0m79 11h0m46-9h0m13-6h0m9 13h0m26 8h0m-387 34h0m133-24h0m17 15h0m13-6h0m0 18h0m2-16h0m6 14h0m2-3h0m9-7h0m4 9h0m0-6h0m7 7h0m1-24h0m5 21h0m1 0h0m2-1h0m2-1h0m2-12h0m12 11h0m17 1h0m4 7h0m14-14h0m25-14h0m3 22h0m23-13h0m12 10h0m-322 39h0m103-9h0m4 3h0m15 1h0m1 5h0m10 0h0m6-3h0m6-19h0m6 22h0m6-5h0m2-10h0m2 8h0m1-2h0m4-3h0m1-11h0m0 6h0m11-8h0m1 11h0m5-2h0m2-1h0m1 2h0m5-1h0m0-1h0m2-11h0m4 2h0m5 14h0m1-7h0m1-1h0m3 0h0m1 11h0m2-1h0m1-4h0m2 6h0m1 4h0m2-17h0m2 5h0m2-7h0m0 5h0m5 8h0m1 9h0m6-9h0m1 3h0m2-18h0m0 1h0m4 13h0m12 0h0m2 7h0m55-21h0m26 4h0m22 17h0m5-1h0m8-11h0m35-9h0m1 2h0m9 20h0m-397 26h0m16-19h0m89 11h0m8 3h0m1 10h0m1 2h0m13-9h0m81-13h0m0-1h0m1-2h0m1 8h0m10-8h0m1-3h0m3 5h0m0 16h0m1 6h0m1 0h0m3-17h0m3-9h0m0 15h0m2 5h0m1 3h0m2 0h0m6-6h0m2 10h0m8-19h0m2 15h0m8-5h0m1-10h0m2-2h0m4 18h0m17-21h0m20 6h0m0 7h0m25 7h0m4-14h0m17-10h0m8 10h0m7 10h0m21-2h0m1-17h0m-288 57h0m1-23h0m1-6h0m4 28h0m4-22h0m4-4h0m0 5h0m110-2h0m6-3h0m1 10h0m0 10h0m2 8h0m1-27h0m1-1h0m0 22h0m6-19h0m3 7h0m5-9h0m3 25h0m8 2h0m7-22h0m8 11h0m7 7h0m3 2h0m2-5h0m10-4h0m5-1h0m1 5h0m9-6h0m10-2h0m4 6h0m4-12h0m1 13h0m1 3h0m10-14h0m2 7h0m2-4h0m22-12h0m17 27h0m7-10h0m4 5h0m17-21h0m34 17h0m-451 21h0m92 14h0m1-10h0m0 4h0m1 10h0m4-11h0m2-8h0m0 17h0m2 2h0m0-14h0m1-7h0m0 4h0m0-2h0m137 1h0m4-2h0m2 5h0m1-2h0m4 13h0m2-2h0m3-13h0m1 19h0m5-27h0m2 17h0m1-14h0m3 21h0m1 2h0m0-26h0m2 19h0m1 4h0m0-13h0m0 5h0m12 3h0m1 0h0m2-3h0m0-7h0m0 7h0m5-8h0m5 18h0m3 1h0m3-26h0m4 3h0m8 12h0m2 0h0m7-14h0m6 26h0m4-16h0m4 16h0m19-6h0m5 2h0m6-24h0m4 25h0m4-24h0m18 6h0m1 10h0m1-1h0m27 1h0m1 4h0m-480 14h0m146 12h0m5-13h0m2-2h0m107 17h0m41-13h0m2 11h0m2 1h0m1 3h0m1-7h0m1-14h0m2 17h0m2 11h0m2-19h0m2 5h0m0 5h0m0 0h0m2-14h0m0-1h0m0 5h0m9 10h0m2-10h0m1-7h0m1 26h0m3-17h0m5-7h0m0 11h0m1-7h0m3 17h0m5-12h0m3 6h0m6-19h0m0 9h0m2 8h0m1-16h0m8 22h0m3-8h0m1-4h0m1 11h0m3-6h0m1-4h0m0-1h0m3 1h0m0-8h0m1 8h0m7 12h0m15 1h0m17-14h0m13 10h0m22-4h0m3-6h0m12 9h0m29-15h0m164 18h0m119-16h0m50 16h0m-716 34h0m12-10h0m13-17h0m0 20h0m0-19h0m8 25h0m1-3h0m1-20h0m158 3h0m2-5h0m1 16h0m5 12h0m1-3h0m1-9h0m3-10h0m1-5h0m0 3h0m0 21h0m1-18h0m0 16h0m1-22h0m2 2h0m2 23h0m0-8h0m0-14h0m2 14h0m2 1h0m3 5h0m2-23h0m2 21h0m4-7h0m10 12h0m3-12h0m5-7h0m6-10h0m0 26h0m2 1h0m2-26h0m0 27h0m1-18h0m5 19h0m4-20h0m1 4h0m9 5h0m2 6h0m1-4h0m1-14h0m4-2h0m1 14h0m0-16h0m13 3h0m11 24h0m6-12h0m17-5h0m2 0h0m4 3h0m23-2h0m26-1h0m12 3h0m-477 36h0m100 6h0m4-4h0m1-5h0m1-4h0m2 15h0m0-15h0m2 14h0m2-24h0m159 26h0m0-2h0m1-21h0m1 5h0m2 8h0m0-11h0m0 0h0m1 12h0m1 0h0m2 5h0m1-21h0m2 21h0m6-2h0m4-15h0m1 16h0m14 4h0m4-16h0m0 16h0m3-8h0m4-9h0m2 0h0m2 4h0m0-5h0m0 2h0m1 6h0m4-8h0m4 2h0m2 2h0m6-4h0m0 18h0m12-25h0m15 16h0m0 3h0m3-19h0m5 5h0m1-7h0m3 17h0m35 3h0m9 2h0m11-21h0m19 0h0m7 18h0m2-9h0m57-6h0m4 1h0m-429 35h0m1-9h0m5-1h0m6 1h0m0-1h0m0 23h0m2-20h0m5-1h0m159 2h0m0 15h0m2-5h0m1-11h0m1 15h0m2-9h0m2 2h0m0-2h0m0-11h0m3 4h0m0 6h0m0-5h0m1 10h0m1 3h0m1-5h0m2 1h0m2-10h0m1 19h0m1-17h0m3 4h0m3 4h0m3 3h0m3-1h0m4-15h0m2 18h0m6-12h0m1 10h0m2-6h0m2 2h0m1 15h0m2-1h0m2-9h0m1 6h0m1 5h0m6-21h0m2 9h0m10 4h0m1-11h0m0 0h0m3 6h0m1 2h0m6 0h0m1-11h0m2 13h0m3-13h0m6 21h0m4-13h0m8 5h0m0-16h0m4 1h0m12 19h0m13-14h0m12 0h0m17 20h0m6-19h0m17-7h0m8 3h0m62 13h0m-457 18h0m12-7h0m6 0h0m1 19h0m0 7h0m7-13h0m3 4h0m3-13h0m1-4h0m11 5h0m152 19h0m1-2h0m1 6h0m0-3h0m1-19h0m1-3h0m2 4h0m0-6h0m2 12h0m1 15h0m2-21h0m0 8h0m0-13h0m1 25h0m0-20h0m2 16h0m1-6h0m1-5h0m2 14h0m1-14h0m0 13h0m2-3h0m9-5h0m2-9h0m1 7h0m0 12h0m8-14h0m0-7h0m1-7h0m2 1h0m0 8h0m0-8h0m0 10h0m0-8h0m1 16h0m4-2h0m2-1h0m1 8h0m0-21h0m1 9h0m3-8h0m3 10h0m1 12h0m1 1h0m2-7h0m1 4h0m4-16h0m1 9h0m4-11h0m13 17h0m0-15h0m3 12h0m11 3h0m6-15h0m2-7h0m7 15h0m0 12h0m1-14h0m2-10h0m14 19h0m2-7h0m9-8h0m4-3h0m6 15h0m13-17h0m16 17h0m3-4h0m11 12h0m-373 17h0m6-14h0m1 29h0m1-3h0m8-16h0m1-5h0m156 8h0m0 4h0m1 7h0m0-8h0m1-16h0m1 4h0m1 10h0m0-14h0m0 2h0m1 17h0m3-20h0m1 16h0m1-3h0m2-7h0m1 12h0m0-10h0m1-5h0m1 19h0m6-21h0m3 9h0m2-6h0m0 15h0m4 8h0m5-12h0m16-6h0m4 6h0m2 5h0m1 2h0m1-11h0m4 15h0m3-23h0m0 1h0m2-1h0m1 24h0m3-19h0m4 16h0m7-1h0m0-19h0m1-4h0m2 4h0m0 5h0m8 14h0m0-3h0m2-9h0m9 9h0m5-15h0m0-1h0m2 24h0m0-2h0m3-25h0m27 7h0m15-3h0m2 10h0m6 0h0m9-12h0m28 21h0m6-16h0m29-6h0m-410 44h0m2-7h0m2 5h0m1-6h0m3 2h0m0 16h0m1-20h0m2 9h0m0-6h0m1-3h0m2 22h0m1-22h0m1 12h0m4 5h0m1-21h0m0 26h0m0-10h0m3-4h0m1 12h0m1-22h0m1 0h0m0 21h0m142-24h0m2 25h0m0-9h0m0-7h0m1 9h0m2 3h0m2-2h0m1 4h0m0 0h0m0 4h0m1-2h0m1-6h0m2 9h0m0-9h0m2-12h0m3 1h0m3 4h0m2-9h0m1 15h0m9-2h0m1-2h0m2-11h0m1 3h0m8 5h0m8-9h0m4-2h0m5 12h0m0-7h0m10 16h0m2-14h0m28 9h0m7 0h0m16 2h0m3-8h0m22 13h0m1-1h0m20 0h0m20-21h0m328 3h0m-743 42h0m45 6h0m9-17h0m11-4h0m1 14h0m1-4h0m4 4h0m1 3h0m5-6h0m3-10h0m1 22h0m2 4h0m4-28h0m1 12h0m131 12h0m1-9h0m1 10h0m0-3h0m0-4h0m0 2h0m0-11h0m0 10h0m1 0h0m0-15h0m1 16h0m0-13h0m1-1h0m0 6h0m1 14h0m1-19h0m0-6h0m0 26h0m0-25h0m0 27h0m4-1h0m2-23h0m2-1h0m2 18h0m0-11h0m1-9h0m1 6h0m2 19h0m1-8h0m2 0h0m1-8h0m0 5h0m1-13h0m1 5h0m1 16h0m1-12h0m1 8h0m4 0h0m4-9h0m3 17h0m11-22h0m1 20h0m0-1h0m1-1h0m2-19h0m2 20h0m0-21h0m2 3h0m0 14h0m8-1h0m4 7h0m1-21h0m2 7h0m1-5h0m0 1h0m1 5h0m1-3h0m5 6h0m1-7h0m4 19h0m2-25h0m4 7h0m5 14h0m2 1h0m3 2h0m1-23h0m0 4h0m3 2h0m1 12h0m3-19h0m16 24h0m11-22h0m7 18h0m9-23h0m6 17h0m11-5h0m74 5h0m250-17h0m-673 56h0m8-23h0m0 21h0m3-14h0m6 17h0m0-18h0m1 9h0m0-9h0m2 6h0m1-3h0m2 1h0m0-7h0m0 17h0m4-4h0m1 0h0m0-6h0m1-4h0m1-1h0m0 5h0m1-4h0m2-1h0m3 2h0m15 16h0m76-24h0m52 2h0m0-2h0m2 9h0m1-1h0m2-4h0m0-6h0m0-1h0m1 12h0m2-8h0m1-4h0m0 16h0m0 6h0m1-2h0m1-16h0m1 12h0m1-6h0m1 12h0m0 3h0m1-5h0m1 1h0m0-15h0m0 8h0m0 13h0m1-17h0m0 5h0m2 13h0m1-2h0m0-4h0m3-9h0m1-7h0m1 22h0m1 1h0m1-9h0m0 2h0m2-20h0m2 18h0m1 0h0m1-12h0m2 21h0m1-10h0m2 9h0m3-4h0m0-22h0m1 17h0m1-10h0m1 7h0m0-17h0m2 18h0m3-7h0m3 14h0m0-1h0m1-14h0m3 16h0m1-9h0m1-1h0m1 0h0m1-8h0m0-7h0m1 14h0m5 7h0m1-4h0m5-12h0m1 8h0m0 4h0m1 5h0m4-3h0m2-11h0m2 11h0m3-7h0m5 0h0m2-8h0m0 8h0m1 5h0m0-5h0m1 6h0m6-15h0m0 14h0m2-4h0m5 2h0m9-3h0m3 1h0m1 3h0m1-8h0m1 2h0m2 5h0m0-4h0m4-4h0m4-4h0m1 12h0m3-6h0m5-4h0m2 12h0m2-1h0m1-12h0m7 13h0m2-10h0m2 10h0m3-1h0m1-6h0m3-4h0m1-6h0m2 0h0m1 14h0m2 4h0m3-5h0m4 7h0m3-20h0m4 15h0m4-14h0m2 20h0m5 2h0m4 1h0m1 0h0m2-5h0m5 0h0m11-3h0m2 12h0m20-1h0m13-6h0m36 0h0m68-13h0m-557 42h0m7-3h0m3-3h0m0 2h0m11-5h0m3 4h0m3-6h0m3-3h0m4 21h0m0-5h0m1-4h0m0-3h0m1-13h0m4-1h0m1 6h0m180-5h0m1-1h0m2 0h0m5-1h0m0-1h0m1 3h0m1-3h0m7 1h0m1 2h0m8-3h0m90 7h0m87-4h0m6 2h0m10 1h0m12-2h0m2 4h0m1 5h0m4 1h0m7 13h0m11-17h0m0 19h0m1-22h0m0-4h0m15 20h0m25-3h0m-509 28h0m9-7h0m6 1h0m1 1h0m1 16h0m2-17h0m445-12h0m7 13h0m6 6h0m0-4h0m1-12h0m2 0h0m4 24h0m3-3h0m5-3h0m1-13h0m13 10h0m2-12h0m6 24h0m2-11h0m23 5h0m37-8h0m72-6h0m-675 35h0m1-11h0m2 16h0m12-18h0m9 23h0m1-24h0m8-1h0m3 10h0m1 15h0m146-7h0m330-4h0m2 14h0m0-16h0m1 12h0m1-7h0m1-6h0m4 8h0m5 1h0m2-6h0m2 11h0m1 3h0m0-22h0m1 19h0m1-20h0m1 20h0m3-5h0m7-3h0m29-15h0m86 14h0m36 4h0m-667 20h0m12-9h0m0 12h0m2 5h0m0-2h0m0 5h0m2-13h0m0 14h0m2 0h0m2 3h0m0-6h0m142-7h0m75-9h0m239 20h0m4 4h0m1-6h0m1-14h0m0 10h0m3 5h0m1 6h0m0-18h0m5-5h0m3 14h0m1-3h0m5 7h0m3-15h0m0-7h0m2 4h0m14 6h0m-534 38h0m1-17h0m3 20h0m18 6h0m0-10h0m1 11h0m0-7h0m1-2h0m2 1h0m5-9h0m0 11h0m2-10h0m4 4h0m2-9h0m5 15h0m0 5h0m240-21h0m55 1h0m128 7h0m4-2h0m14 9h0m1-18h0m0 15h0m3-8h0m2-4h0m7-1h0m0-5h0m4 6h0m8 5h0m13-1h0m28-3h0m59-1h0m36-4h0m87 24h0m-706 8h0m16 18h0m1-11h0m3-1h0m0 1h0m1-11h0m7 16h0m0 2h0m6 5h0m3 0h0m108-3h0m26 9h0m6-3h0m5-6h0m2-2h0m0 4h0m1-10h0m0-1h0m2 2h0m2 12h0m1 2h0m1-10h0m0 3h0m0 4h0m1-5h0m2-7h0m1 2h0m0 9h0m1-7h0m0-10h0m1 0h0m2 6h0m3 11h0m2-8h0m0 12h0m0-17h0m2-4h0m2 5h0m4-5h0m1 10h0m0-7h0m0 19h0m0-9h0m7-11h0m2 8h0m2-1h0m2-5h0m3 17h0m1-10h0m0-3h0m1 9h0m6 5h0m2-2h0m0 0h0m3-2h0m1-6h0m1-2h0m2 13h0m5-4h0m4-4h0m5 4h0m10 0h0m13 3h0m5-2h0m5 1h0m3-2h0m10-2h0m2 2h0m23-5h0m13 3h0m2-5h0m4 1h0m10 0h0m3-1h0m6 5h0m1-6h0m0 10h0m2-14h0m2 5h0m5-5h0m6 12h0m1-4h0m2-3h0m1-6h0m8 15h0m6-3h0m0-4h0m1-2h0m4-11h0m5 16h0m1-11h0m5 2h0m5 12h0m1-22h0m1 14h0m16-13h0m6-3h0m4 3h0m15-3h0m4 21h0m50-24h0m182 3h0m-710 36h0m9-1h0m20 12h0m11-4h0m0-3h0m2-4h0m0 15h0m4-23h0m1-1h0m9 17h0m2-3h0m6 3h0m0 4h0m5 7h0m4-4h0m1 6h0m0-10h0m0 1h0m2-2h0m1 3h0m2 2h0m0 0h0m0 0h0m10 3h0m9 0h0m0 1h0m3-1h0m8 2h0m9 0h0m6-2h0m11 2h0m18-6h0m4 0h0m2-9h0m0-2h0m1 16h0m5-19h0m0-1h0m4-4h0m3 8h0m2 2h0m0-11h0m1 16h0m2-8h0m2 0h0m0-1h0m0 0h0m1-8h0m3 17h0m6-18h0m1 17h0m3-8h0m0-2h0m2-7h0m0 20h0m1-4h0m3-5h0m3 3h0m13-13h0m42 2h0m8 24h0m0-27h0m1 1h0m16 5h0m8-7h0m11 25h0m21-13h0m3-3h0m8-5h0m11 0h0m3 16h0m3-9h0m7-2h0m24-7h0m1 1h0m4-2h0m14 14h0m132-8h0m-495 42h0m7-13h0m16-4h0m8 6h0m1 14h0m1-10h0m3-9h0m3 3h0m1 11h0m4 10h0m4-22h0m4 1h0m0 1h0m2 1h0m3-7h0m8-1h0m1 16h0m1-3h0m4-8h0m1 5h0m1 11h0m1-13h0m0-4h0m3 6h0m4 3h0m0 1h0m3 1h0m4-5h0m1 7h0m1-8h0m3 16h0m5-23h0m0 3h0m0 12h0m3 2h0m26-17h0m34 5h0m23-1h0m38 21h0m64-9h0m85-13h0m-354 35h0m17 3h0m9 1h0m58-6h0m50-6h0"/>
<path transform="scale(.1)" fill="none" stroke="#000" stroke-width="5.0" d="M605 5832l-20-1-20-7-17-11-16-16-14-20-10-23-7-27-2-27 3-28 7-28 10-22 16-28 5-14-1-13-10-57-4-50 2-53 4-33 5-24 12-40 8-18 9-15 10-12 10-8 10-5 10-2 13 3 10 5 10 10 9 12 9 17 8 17 7 23 5 23 5 27 3 27 1 56-4 44-13 70 0 8 4 10 10 18 8 7 10 2 58-13 24-3 23 0 37 3 36 7 20 7 17 8 15 9 12 10 10 10 8 13 5 12 1 12-1 10-3 13-8 13-8 10-12 10-14 9-32 14-18 6-25 5-25 3-25 0-43-4-22-4-30-9-10 0-10 5-22 24-16 11-17 8-20 4M618 5827l-23 2-20-4-20-10-17-15-14-18-12-25-8-27-2-26 2-30 7-27 8-20 20-33 4-12-1-12-11-63-3-47 1-53 4-30 5-25 13-40 8-18 7-12 9-11 10-8 10-5 10-2 10 2 10 5 10 8 10 13 9 16 7 17 8 23 5 22 7 52 1 58-4 42-12 60-1 13 3 15 12 20 8 8 10 2 50-12 40-4 24 0 23 1 40 9 20 6 17 9 13 7 13 10 11 12 6 10 5 12 2 12-1 10-4 13-6 10-8 10-11 9-12 9-15 8-17 7-20 6-23 5-25 3-25 1-43-4-22-5-30-9-10-1-5 2-6 4-19 20-12 11-16 9-14 5M612 5822l-20 1-20-5-17-10-15-14-13-17-11-23-7-24-3-28 2-28 6-24 10-23 20-33 4-12 0-14-12-56-4-48 1-54 8-50 12-40 15-28 8-10 9-8 10-6 10-1 10 1 10 6 10 9 9 11 8 16 7 17 12 43 6 47 1 55-5 45-13 57-1 13 1 7 4 10 14 23 7 8 10 3 10-1 40-12 37-5 43 1 20 2 23 5 17 6 17 7 16 9 12 10 10 10 8 12 4 10 2 12-1 10-4 13-6 10-9 10-22 16-14 8-18 7-20 6-25 4-23 2-22 0-22-2-20-3-20-5-28-9-10-1-6 2-6 4-20 22-16 12-14 8-16 4M608 5817l-20 0-18-6-15-9-15-15-14-20-8-20-6-25-1-22 2-28 6-22 9-20 21-33 5-15-1-15-12-53-4-44 0-50 3-30 5-23 11-37 14-28 8-10 10-9 10-4 7-1 7 1 10 4 10 9 8 10 9 15 7 17 10 38 7 50 0 52-4 43-5 23-9 32-2 15 2 10 4 10 19 28 7 7 10 3 10-2 37-12 36-6 42 0 40 7 20 6 15 6 15 8 12 9 11 11 7 10 4 10 2 12-1 10-4 10-6 10-8 10-22 17-30 13-23 6-20 4-24 2-23-1-37-5-20-5-30-11-10 0-11 6-22 23-15 12-15 8-17 4M602 5812l-17-2-17-6-16-11-12-13-11-18-8-20-5-20-1-22 2-26 7-24 10-20 21-33 5-15-1-15-13-53-5-42 1-50 2-25 5-25 10-35 13-26 8-9 8-7 7-4 10-2 10 2 7 4 10 9 8 10 7 13 7 17 9 36 4 22 2 28-1 50-5 40-14 52-2 15 2 10 5 10 21 33 10 9 10 2 47-15 33-6 40-1 20 2 20 4 33 11 14 8 13 9 9 9 7 10 5 12 1 10-1 10-3 10-6 10-7 8-10 8-12 9-28 11-20 6-20 3-22 2-26-1-20-2-20-4-44-16-10-1-8 3-5 3-23 25-14 13-18 8-18 3M615 5805l-17 2-18-4-18-8-14-13-13-18-9-20-5-20-2-22 2-28 8-24 10-20 23-33 5-15-2-15-14-50-5-40 0-50 2-25 4-22 9-33 13-25 8-11 8-6 8-4 7-1 7 1 8 4 8 6 8 11 13 25 9 35 6 48 1 27-1 25-6 38-5 20-11 32-1 15 2 10 5 10 27 41 7 7 10 3 10-2 38-14 30-7 40-1 38 4 32 11 15 8 11 7 11 10 7 10 4 10 1 10-1 10-3 8-5 10-8 8-20 15-27 12-23 6-20 2-22 2-22-2-38-7-42-17-10-1-7 2-6 4-23 26-12 11-12 7-13 5M612 5800l-17 1-15-3-15-8-15-13-11-15-8-18-6-20-2-22 2-28 8-24 11-20 25-33 5-15-1-12-16-50-6-38-1-25 0-25 2-25 4-23 9-30 13-24 12-13 8-4 7-1 7 1 8 4 8 7 7 10 12 26 8 30 3 22 2 25 0 25-2 25-6 37-17 48-2 12 2 10 5 10 32 49 10 10 10 3 10-3 36-15 30-8 37-2 37 4 18 5 15 5 14 8 11 7 8 7 7 10 5 10 1 10-1 10-3 8-4 8-8 8-20 15-25 10-20 5-20 3-22 1-23-1-35-8-18-6-24-13-10-2-6 2-7 5-25 28-10 10-12 8-16 5M612 5795l-14 1-16-3-14-7-14-12-11-14-9-18-5-20-2-20 2-28 9-24 12-20 28-36 6-12-2-12-14-36-9-32-4-38 1-40 6-40 10-30 8-13 8-9 7-5 10-3 10 3 7 5 8 9 8 13 6 16 5 17 6 40 0 40-5 37-8 30-17 38-1 12 2 8 6 10 43 63 10 8 7 2 8-3 32-17 28-8 35-4 20 0 17 2 33 9 13 6 12 7 10 9 6 8 5 10 2 10-2 10-4 10-8 10-11 10-13 8-15 6-18 5-17 3-35 1-32-4-30-10-33-18-10-1-5 3-8 6-21 27-11 11-12 8-16 6M605 5570l-7-3-10-12-8-11-8-17-4-15-5-20-3-42 4-43 4-19 5-16 7-15 8-10 7-6 10-3 10 3 7 6 8 10 7 15 5 16 4 19 4 43-3 42-5 20-4 15-8 16-8 12-10 11-7 4M610 5790l-15 1-13-3-12-6-12-10-10-13-9-17-6-18-2-17 0-17 3-16 4-14 7-16 8-12 12-14 23-22 12-10 5 0 5 3 15 15 23 28 27 42 7 9 6 3 4 0 6-2 27-19 23-10 30-6 30-1 32 4 15 4 14 6 13 8 9 7 6 7 5 10 2 8-1 10-4 10-5 8-8 7-10 7-24 11-20 5-22 2-22 0-23-3-17-4-16-6-16-9-21-17-7-1-6 2-7 8-23 30-12 12-15 11-15 5M610 5545l-8 1-7-3-7-8-8-13-5-13-4-17-4-35 0-20 2-20 3-17 6-16 5-12 7-10 8-6 7-1 7 1 8 6 11 18 9 30 3 34-2 36-6 30-10 22-7 9-8 4M610 5785l-15 0-13-2-12-7-11-9-9-13-8-14-5-18-2-18 1-17 2-15 6-15 8-15 13-17 15-13 12-9 10-2 8 2 10 6 10 9 12 15 12 17 17 30 7 14 2 8-1 8-6 12-25 38-18 16-10 6-10 3M810 5757l-22 0-23-3-20-6-16-8-15-13-9-13-3-10 1-4 3-8 14-15 18-11 22-8 25-5 27 0 26 4 22 8 20 12 10 13 4 12-1 12-7 13-14 12-17 9-23 6-22 3M610 5520l-8 1-4-2-6-5-4-8-8-22-3-27 1-27 6-28 8-16 6-5 7-2 5 1 5 3 5 7 5 9 6 21 2 24-1 26-4 24-8 16-5 7-5 3M608 5780l-13 0-13-3-10-5-11-10-9-12-6-13-5-15-2-18 1-14 2-17 5-13 8-15 10-12 13-12 12-8 10-3 8 1 10 4 10 8 12 14 12 17 12 23 4 13 3 12-2 10-4 12-9 16-11 15-8 9-9 8-10 5-10 3M822 5750l-22 1-22-1-22-6-16-7-14-10-8-13-2-12 3-10 9-10 13-10 18-8 21-4 22-1 20 1 19 4 18 8 13 10 8 10 4 12-3 13-7 10-14 10-16 7-22 6M612 5772l-10 2-12-1-12-5-10-7-10-11-7-13-5-15-2-15 0-15 2-15 4-13 8-13 10-13 10-10 12-7 10-3 8 1 10 4 10 8 10 11 10 15 9 17 4 13 3 13-1 10-3 10-5 12-8 12-8 10-9 9-8 5-10 4M820 5742l-20 2-18-2-17-4-15-6-10-8-8-10-2-10 3-10 8-10 11-7 13-5 17-4 18-2 18 2 17 4 13 5 11 7 8 10 3 10-2 10-8 10-10 8-12 6-18 4M608 5767l-13 0-10-2-10-5-7-7-8-10-5-11-4-12-2-16 0-14 3-13 4-13 6-11 8-10 10-9 10-5 10-3 8 1 10 5 9 8 8 8 8 12 8 14 4 13 2 13 0 10-3 10-12 22-8 10-9 7-9 5-8 3M815 5730l-13 1-12-1-12-2-10-4-8-6-5-6-2-8 3-7 4-5 8-6 10-4 12-2 22 0 10 2 12 5 6 5 6 8 1 4-2 8-4 5-6 5-10 5-10 3M605 5760l-10 0-10-3-7-5-8-7-6-8-5-10-3-13-2-12 1-12 3-12 4-11 5-10 8-9 7-6 9-5 9-2 8 1 8 4 9 7 7 7 13 23 4 13 1 10 0 10-3 10-11 20-8 9-8 5-15 6M608 5750l-8 0-8-1-7-3-7-5-6-7-5-10-5-20 2-20 4-11 4-9 13-13 7-4 8-1 12 3 13 11 13 19 4 18-2 17-7 16-11 12-7 5-7 3M600 5735l-10-3-8-8-6-12-2-12 2-16 6-11 8-7 10-4 10 3 10 9 7 13 3 13-2 13-7 11-10 8-11 3"/>
<rect x="35.5" y="503.7" width="86.60" height="86.30" fill="none" stroke="#6a6a6a" stroke-width="0.9"/>
<path stroke="#6a6a6a" stroke-width="0.8" d="M69.25 503.7V590.0M35.5 559.5H122.1"/>
<g font-family="'Liberation Sans', sans-serif" font-size="8.5" fill="#111" stroke="#fff" stroke-width="1.6" paint-order="stroke" stroke-linejoin="round">
<text x="37.1" y="512.2">24.8%</text>
<text x="120.5" y="512.2" text-anchor="end">2.4%</text>
<text x="120.5" y="588.4" text-anchor="end">27.1%</text>
</g>
<path stroke="#555" stroke-width="0.5" d="M34.0 511.6H35.5M34.0 530.4H35.5M34.0 550.3H35.5M34.0 571.3H35.5M34.0 580.8H35.5M45.7 590.0V591.5M54.6 590.0V591.5M75.1 590.0V591.5M94.4 590.0V591.5M113.2 590.0V591.5M34.7 524.4H35.5M34.7 520.9H35.5M34.7 518.4H35.5M34.7 516.5H35.5M34.7 514.9H35.5M34.7 513.6H35.5M34.7 512.4H35.5M34.7 544.3H35.5M34.7 540.8H35.5M34.7 538.3H35.5M34.7 536.4H35.5M34.7 534.8H35.5M34.7 533.5H35.5M34.7 532.3H35.5M34.7 531.3H35.5M34.7 565.3H35.5M34.7 561.8H35.5M34.7 559.3H35.5M34.7 557.4H35.5M34.7 555.8H35.5M34.7 554.5H35.5M34.7 553.3H35.5M34.7 552.3H35.5M60.4 590.0V590.8M63.8 590.0V590.8M66.2 590.0V590.8M68.1 590.0V590.8M69.6 590.0V590.8M70.9 590.0V590.8M72.0 590.0V590.8M73.0 590.0V590.8M80.9 590.0V590.8M84.3 590.0V590.8M86.7 590.0V590.8M88.6 590.0V590.8M90.1 590.0V590.8M91.4 590.0V590.8M92.5 590.0V590.8M93.5 590.0V590.8M100.2 590.0V590.8M103.6 590.0V590.8M106.0 590.0V590.8M107.9 590.0V590.8M109.4 590.0V590.8M110.7 590.0V590.8M111.8 590.0V590.8M112.8 590.0V590.8"/>
<g font-family="'Liberation Sans', sans-serif" fill="#222">
<text x="33.3" y="513.0" font-size="4.8" text-anchor="end">10<tspan font-size="3.4" dy="-1.8">5</tspan></text>
<text x="33.3" y="531.8" font-size="4.8" text-anchor="end">10<tspan font-size="3.4" dy="-1.8">4</tspan></text>
<text x="33.3" y="551.7" font-size="4.8" text-anchor="end">10<tspan font-size="3.4" dy="-1.8">3</tspan></text>
<text x="33.3" y="572.7" font-size="4.8" text-anchor="end">10<tspan font-size="3.4" dy="-1.8">2</tspan></text>
<text x="33.3" y="582.2" font-size="4.8" text-anchor="end">0</text>
<text x="45.7" y="598.6" font-size="4.8" text-anchor="middle">0</text>
<text x="54.6" y="598.6" font-size="4.8" text-anchor="middle">10<tspan font-size="3.4" dy="-1.8">2</tspan></text>
<text x="75.1" y="598.6" font-size="4.8" text-anchor="middle">10<tspan font-size="3.4" dy="-1.8">3</tspan></text>
<text x="94.4" y="598.6" font-size="4.8" text-anchor="middle">10<tspan font-size="3.4" dy="-1.8">4</tspan></text>
<text x="113.2" y="598.6" font-size="4.8" text-anchor="middle">10<tspan font-size="3.4" dy="-1.8">5</tspan></text>
</g>
<path stroke="#111" stroke-width="1" d="M35.8 603.75H117.6"/>
<path fill="#111" d="M120.6 603.75L115.6 601.85L115.6 605.65z"/>
<text x="73.8" y="619.5" font-family="'Liberation Sans', sans-serif" font-size="11" fill="#000" stroke="#000" stroke-width="0.15" text-anchor="middle">Granzyme B</text>
<path transform="scale(.1)" stroke="#5a5a5a" stroke-width="6.2" stroke-linecap="square" d="M1651 5044h0m-23 30h0m14 0h0m56 18h0m-244 51h0m117-5h0m18-13h0m145 18h0m2-12h0m546 9h0m-750 19h0m32-13h0m9 25h0m8-8h0m4 11h0m4-13h0m5 14h0m15-23h0m84-4h0m111 1h0m437 9h0m-734 46h0m19-5h0m3 3h0m11 0h0m5-9h0m2-8h0m6 1h0m19-8h0m9 22h0m8-5h0m2-7h0m3 0h0m11 16h0m36-28h0m29 7h0m-205 29h0m30 7h0m13-10h0m2 17h0m2-2h0m11-5h0m1-1h0m6 8h0m1 5h0m2-13h0m5-10h0m3 22h0m2 3h0m4-16h0m1 10h0m5-21h0m4 15h0m4 12h0m2-4h0m0 4h0m0-26h0m1 3h0m4 12h0m1 5h0m7-15h0m0-4h0m4 17h0m5 0h0m6-1h0m1-13h0m1 21h0m1-1h0m2-20h0m11 14h0m1 2h0m5-1h0m7-3h0m5-9h0m4 0h0m7 17h0m19-10h0m41 4h0m-241 18h0m22 5h0m3 4h0m8-11h0m3 8h0m11 2h0m8-3h0m9-7h0m2 21h0m3-4h0m0-4h0m4 8h0m1-3h0m2-15h0m1 1h0m1 11h0m1-18h0m2 2h0m3-2h0m3 4h0m8-4h0m17-3h0m21 0h0m13 3h0m3-2h0m2 7h0m1 1h0m9-8h0m1 10h0m1 2h0m3 4h0m2-2h0m2-3h0m4 2h0m3 8h0m2 6h0m1 1h0m0 0h0m2-5h0m2-24h0m10 12h0m12-6h0m24 18h0m-214 35h0m4-27h0m7 7h0m4 15h0m2-13h0m11 11h0m3 1h0m0-14h0m1 17h0m0 4h0m18-25h0m100 10h0m7-13h0m7 12h0m6-1h0m0-3h0m6 11h0m0 3h0m3-18h0m4 12h0m0 2h0m2-13h0m0 22h0m5-4h0m3-2h0m5 7h0m15-1h0m7-28h0m18 26h0m221-2h0m-468 23h0m20 4h0m3-17h0m2 16h0m3-2h0m2-8h0m1 6h0m1-2h0m1-8h0m2 0h0m1 9h0m1 12h0m5-27h0m4 1h0m141 11h0m0-1h0m5 5h0m0 10h0m0-8h0m1 2h0m2 6h0m0-13h0m1 2h0m3 7h0m1-19h0m1 14h0m0-11h0m0 16h0m1-6h0m3-7h0m2 3h0m6 8h0m2 5h0m2-16h0m7-6h0m1 23h0m26-14h0m367-8h0m-632 39h0m10 4h0m4-6h0m0 5h0m0-5h0m9-1h0m4-8h0m3 22h0m5-23h0m1 18h0m3-3h0m1-4h0m164-13h0m3 8h0m1-2h0m1 12h0m2 10h0m3-9h0m1 6h0m0-8h0m1-3h0m2 14h0m1-21h0m3-4h0m1 7h0m0-9h0m2 8h0m0-1h0m1-2h0m3 9h0m6-14h0m5 24h0m4-22h0m1 23h0m10-11h0m10-13h0m0 4h0m26 14h0m292 8h0m-565 15h0m2 11h0m5-4h0m5-15h0m2 24h0m1-7h0m1-6h0m1-12h0m0-1h0m1 11h0m2 2h0m44-9h0m136 0h0m0 12h0m1 6h0m0-13h0m3 13h0m3-21h0m3 16h0m15 8h0m19-25h0m44 18h0m484-12h0m-791 35h0m8 6h0m3-13h0m3 6h0m2-2h0m1-2h0m3-2h0m1-1h0m9 8h0m0-3h0m1 15h0m1-10h0m1 10h0m2-7h0m1 8h0m185-2h0m1-19h0m0 23h0m0-1h0m1-3h0m3-12h0m1-11h0m1 19h0m0 1h0m2 1h0m1-19h0m0 16h0m2 8h0m3-11h0m0-13h0m1 16h0m1-20h0m1 27h0m2-10h0m4 6h0m18-17h0m5 1h0m1 9h0m9-7h0m126-1h0m71 0h0m-466 22h0m5 19h0m0 3h0m2-11h0m2 7h0m2-3h0m1-13h0m0 15h0m4 6h0m1-14h0m2 7h0m3-10h0m0 6h0m1-8h0m2 23h0m2 1h0m0-20h0m0 15h0m0-6h0m89-10h0m96 13h0m1 10h0m1-20h0m1 0h0m2-5h0m0 4h0m3 1h0m1-2h0m0 1h0m3 18h0m3-20h0m13 1h0m3 11h0m46 4h0m-300 34h0m0-10h0m1-7h0m3 10h0m3-11h0m4 4h0m6 4h0m1-14h0m8 17h0m2-5h0m2-12h0m0 20h0m1-21h0m2 15h0m4 6h0m2 4h0m1 2h0m51-10h0m129 9h0m0 1h0m2-6h0m0 1h0m2 2h0m2-20h0m0 7h0m0 11h0m1-22h0m0 6h0m0-8h0m0 3h0m1 15h0m0 0h0m1-5h0m3 1h0m6 3h0m6 1h0m1-13h0m0-3h0m1 4h0m3 3h0m4-6h0m8 14h0m19 2h0m16 3h0m83 1h0m372-10h0m62 11h0m-808 13h0m6 20h0m2 3h0m9-26h0m2-1h0m2 13h0m0-15h0m2 8h0m2-1h0m1 9h0m1-7h0m1-6h0m1 5h0m0 8h0m1-6h0m5 3h0m176 8h0m0-4h0m2 0h0m1-5h0m0 2h0m2-10h0m1 7h0m0-11h0m1 10h0m2 19h0m0-25h0m3 25h0m3-13h0m1-2h0m2-14h0m1 23h0m0-1h0m9-21h0m5 18h0m4 3h0m2-22h0m2 11h0m5 9h0m3 0h0m38-6h0m49 10h0m-348 14h0m16-1h0m1 18h0m1 0h0m1-23h0m2 9h0m3 7h0m1 9h0m9-11h0m1-6h0m3 19h0m3-11h0m0 11h0m1-21h0m0 7h0m164 11h0m2-2h0m0-3h0m2-4h0m0-16h0m0 21h0m1-16h0m4 11h0m2-9h0m1 15h0m0-22h0m1 1h0m1 3h0m3 7h0m5 10h0m3-16h0m2-6h0m0 3h0m0 24h0m3-21h0m14 16h0m3-20h0m15 7h0m50 13h0m25-2h0m236-8h0m199 15h0m-782 2h0m12 25h0m8-25h0m5 23h0m4-14h0m1 9h0m4 0h0m3-10h0m2 5h0m1-3h0m1 7h0m0 8h0m0-17h0m2 5h0m2-4h0m4 14h0m1 3h0m0-22h0m1-1h0m3 21h0m1 0h0m1-9h0m0 13h0m0 1h0m1-3h0m1-4h0m0 1h0m1 7h0m2-2h0m11-1h0m132-2h0m5-2h0m0-18h0m1 12h0m0 7h0m0-2h0m1-16h0m1 15h0m0 4h0m0-24h0m0 25h0m1-23h0m1 24h0m1-11h0m0-2h0m0 2h0m2-15h0m2 26h0m0-2h0m1-11h0m2 15h0m5-1h0m1-14h0m1-14h0m2 16h0m2-2h0m2-9h0m2 18h0m4-1h0m1-14h0m1 19h0m9-18h0m1 9h0m29 8h0m12 3h0m39-27h0m42 11h0m254-8h0m-630 28h0m5 4h0m7 1h0m1 6h0m6 15h0m3 0h0m2-4h0m3-21h0m3 22h0m1 1h0m3-23h0m1 2h0m0 17h0m1 1h0m2-3h0m1-6h0m2 10h0m1-16h0m0-1h0m2 15h0m0-12h0m1 15h0m1-1h0m0 1h0m1-12h0m1 3h0m1 11h0m0 1h0m1-6h0m1-20h0m0-2h0m1 21h0m0 7h0m0-2h0m0-26h0m1 22h0m2 3h0m0-19h0m1 8h0m0-1h0m1-7h0m1 0h0m0 13h0m0-4h0m0 3h0m1-7h0m0 11h0m0 0h0m0-19h0m2 9h0m0-12h0m1 0h0m0 12h0m2-8h0m132 10h0m2-4h0m1-5h0m1 18h0m0-23h0m1 21h0m0-4h0m3-14h0m1 3h0m1-5h0m0 18h0m1 7h0m1-8h0m1-15h0m1 8h0m0-10h0m1 0h0m0 14h0m0-2h0m0 6h0m1-1h0m0-11h0m0 17h0m0-7h0m0 9h0m0 1h0m1 1h0m3-11h0m0 9h0m1-13h0m1-5h0m2-4h0m0 19h0m0-14h0m0 8h0m0 6h0m1-13h0m1 9h0m1-7h0m1 2h0m0-10h0m1 6h0m1 13h0m1-12h0m1 8h0m2-1h0m2-10h0m1 9h0m0 9h0m2 0h0m0-13h0m1 9h0m2-6h0m2 3h0m5 1h0m6 9h0m0-15h0m1-9h0m7 20h0m3-2h0m15-2h0m29-1h0m9 3h0m14-19h0m19 7h0m8 4h0m1 11h0m43-20h0m-396 47h0m1-2h0m1 6h0m3 2h0m0-29h0m3 29h0m0-18h0m1-3h0m0-7h0m0 17h0m3 1h0m1-3h0m0 8h0m2-15h0m0 19h0m1-8h0m1-1h0m1-1h0m0-7h0m0 12h0m0 2h0m0-11h0m1 11h0m1-4h0m0-1h0m1 7h0m0-28h0m0 10h0m2-2h0m0 5h0m0-5h0m0 9h0m0-2h0m1 5h0m1-9h0m0 3h0m2 5h0m1-6h0m2 2h0m0 1h0m1-2h0m0-1h0m1-3h0m0 4h0m2-8h0m0 3h0m0 0h0m4-1h0m0-7h0m1 6h0m171 0h0m1 3h0m0-7h0m1-1h0m1 8h0m1 5h0m0-1h0m1 2h0m0-10h0m1 12h0m0-16h0m1 5h0m0-7h0m1 3h0m0 16h0m2 3h0m0-15h0m2-3h0m0 1h0m0 20h0m0-16h0m1-1h0m1 19h0m0-19h0m0 19h0m2-8h0m0-13h0m0 11h0m1 0h0m0-11h0m0 12h0m2 6h0m0-20h0m1 6h0m0 1h0m1 3h0m1-4h0m2 2h0m1 8h0m1 9h0m0-3h0m1-23h0m0 8h0m3 8h0m0 1h0m1 10h0m1-1h0m1-18h0m1-3h0m0 13h0m1-2h0m2-1h0m3-15h0m2 18h0m0 2h0m2-11h0m2-12h0m2 20h0m2 3h0m4-13h0m3 20h0m20-3h0m1 2h0m8-7h0m13 2h0m5 5h0m77-12h0m4 1h0m1 9h0m13-9h0m2 11h0m3-9h0m5 0h0m1 3h0m7 2h0m3-6h0m7-8h0m1 3h0m6-5h0m2 3h0m0-5h0m8 13h0m9-8h0m2 6h0m8 0h0m1-1h0m0-15h0m6 9h0m1 6h0m2 2h0m12-13h0m7 15h0m1 4h0m3-3h0m20 8h0m10-6h0m6-14h0m13 4h0m176 0h0m73 0h0m-807 41h0m3 1h0m0-8h0m1-4h0m1 5h0m0-8h0m1 8h0m1 6h0m0 0h0m1-8h0m1-6h0m3-1h0m1 5h0m0-12h0m1 15h0m0-17h0m0 7h0m3-2h0m0 2h0m2-5h0m4-3h0m1 1h0m211 2h0m2 0h0m0-3h0m1 8h0m0-2h0m3 0h0m0 2h0m1-4h0m2 5h0m0-8h0m0 5h0m2 7h0m0-12h0m2 9h0m0 2h0m0-8h0m2-3h0m0 5h0m0 6h0m2 2h0m2-2h0m3-5h0m1 7h0m3-12h0m0 10h0m8-2h0m1-10h0m7 7h0m5-4h0m0 2h0m3 0h0m3 2h0m2-2h0m0-1h0m1 2h0m20 0h0m5-3h0m22 1h0m0-2h0m7 7h0m3-4h0m7 3h0m5 5h0m2-9h0m5 7h0m8 0h0m1-9h0m7 11h0m4-5h0m1 5h0m1-3h0m7 5h0m2-4h0m4-4h0m0 1h0m2 1h0m3-3h0m2 2h0m111-7h0m3 1h0m13 7h0m5 11h0m1-4h0m0 6h0m2 4h0m26-15h0m1 1h0m-571 25h0m1 23h0m0-12h0m0-9h0m0 8h0m1-13h0m1 14h0m1 7h0m2-22h0m121-1h0m170 6h0m251-3h0m2 18h0m1-14h0m2 3h0m8 5h0m1 0h0m2-3h0m1 6h0m4 6h0m-569 7h0m0 18h0m1-20h0m1 21h0m1-7h0m1-6h0m1 18h0m1-2h0m1 4h0m0 0h0m113-2h0m422-6h0m4 3h0m1-9h0m4 8h0m0 6h0m6-14h0m5-15h0m15 8h0m1 1h0m6-4h0m-585 28h0m0 0h0m1 3h0m0 6h0m1-4h0m3 13h0m0-12h0m1 11h0m0-11h0m0 20h0m1-25h0m0 18h0m2-4h0m1-2h0m1-7h0m1 0h0m0 16h0m0 4h0m1-10h0m0 0h0m0 0h0m2 4h0m2 1h0m1-1h0m2 4h0m2-1h0m216 3h0m2-2h0m4 1h0m6 0h0m1-3h0m0 2h0m4-24h0m1 27h0m20-1h0m88-3h0m2 1h0m8-1h0m22-4h0m1 0h0m2-1h0m2-1h0m3-4h0m4 10h0m5 0h0m2-1h0m14 1h0m13 0h0m2-5h0m11 3h0m4 3h0m1-6h0m9 2h0m0-1h0m1 2h0m19-1h0m2-5h0m3 7h0m7-5h0m8-3h0m14-7h0m7 0h0m14-8h0m267-1h0m-803 38h0m3 7h0m0-11h0m3-1h0m3 16h0m3-4h0m0 3h0m1-16h0m0 7h0m0 4h0m1-12h0m1 21h0m3 6h0m1-11h0m1-9h0m0 20h0m0-20h0m6 17h0m1-2h0m1 3h0m1-3h0m1-4h0m1 9h0m9 0h0m2 1h0m111-28h0m40 27h0m6-5h0m2-3h0m0 8h0m2 1h0m8-16h0m1 12h0m0-14h0m1 9h0m5 7h0m1-18h0m0 6h0m0-7h0m1 3h0m3 3h0m4 0h0m2-13h0m2 9h0m0-11h0m2 17h0m1 7h0m3-15h0m1-5h0m1-1h0m1 24h0m1-16h0m0-9h0m1 10h0m3 3h0m4-12h0m7 10h0m1-7h0m2 3h0m1 9h0m0-17h0m6 18h0m2-19h0m2 28h0m0-27h0m2 7h0m3 12h0m8-19h0m10 9h0m1 3h0m1-8h0m5 15h0m0-4h0m7-11h0m22 6h0m21 9h0m12-15h0m2 6h0m21-11h0m51 2h0m10 22h0m21 1h0m6-22h0m0-2h0m6 13h0m-487 23h0m13-5h0m7 3h0m2-3h0m18 1h0m1 14h0m2-6h0m0-1h0m1 7h0m0 10h0m1-17h0m2 7h0m1-5h0m2 4h0m2-12h0m1-4h0m0 8h0m0 16h0m1-23h0m0 16h0m1-4h0m0-8h0m0 21h0m1-21h0m1 7h0m0 2h0m2 4h0m2 1h0m0-8h0m3-4h0m0-1h0m0 16h0m1-14h0m1 4h0m3 15h0m0-14h0m1-5h0m2 3h0m0 0h0m3 3h0m0 15h0m3-15h0m2 15h0m1-10h0m1-4h0m3 10h0m0-1h0m5 1h0m0-7h0m3 4h0m2-3h0m0-1h0m1 3h0m6 3h0m2 1h0m0-3h0m6 3h0m1 5h0m3-5h0m1-2h0m1-1h0m2 0h0m1 0h0m2 2h0m0 4h0m1 1h0m1-2h0m1-1h0m1-1h0m0 0h0m1-2h0m3 5h0m1-4h0m1 2h0m1 1h0m1-4h0m5 1h0m1-2h0m0-1h0m2 2h0m0 1h0m0 3h0m1-1h0m0 3h0m2-7h0m1 3h0m1 4h0m1-4h0m1-4h0m2 6h0m1-1h0m1 2h0m1-2h0m0-8h0m0 3h0m0 2h0m5 0h0m0-3h0m1 1h0m6 4h0m0-4h0m4 3h0m2 0h0m0-6h0m1-4h0m0 4h0m0-4h0m0 14h0m3-5h0m5-8h0m0-7h0m1 3h0m0 7h0m1-5h0m0 8h0m1-13h0m2 6h0m1-7h0m0 10h0m3-7h0m1-3h0m1 2h0m1 3h0m1-5h0m1 6h0m0-1h0m1-9h0m0-1h0m0 4h0m1-3h0m2 10h0m0-2h0m1-6h0m1 8h0m1-3h0m2 15h0m1-13h0m3-6h0m0 1h0m1-6h0m4 1h0m2 6h0m0-1h0m1 16h0m0-2h0m7 2h0m0-21h0m0 17h0m4-2h0m2 1h0m0-6h0m1-4h0m1 13h0m6-18h0m33 3h0m40 6h0m132-12h0m315 18h0m-711 15h0m12 0h0m7 16h0m11-19h0m3 5h0m1 2h0m5 12h0m0 4h0m3 0h0m4-11h0m4-11h0m4 0h0m3 0h0m0 11h0m2-12h0m0 0h0m0 16h0m3-10h0m0 0h0m1 8h0m2 7h0m0-18h0m1 7h0m1-9h0m3 0h0m2 11h0m1-1h0m1 1h0m3 7h0m3-19h0m0 7h0m4-3h0m2 15h0m4-17h0m1 17h0m0-17h0m2 5h0m1-5h0m11-1h0m2-1h0m3 13h0m0-5h0m2 11h0m2-15h0m13 14h0m0-8h0m0 16h0m1-18h0m3 10h0m0-16h0m9-2h0m3 5h0m2-3h0m3 7h0m4 7h0m9-14h0m25 3h0m1-4h0m27 10h0m-241 22h0m93-1h0m332 13h0m27-2h0m246 13h0m41 22h0m86-13h0"/>
<path transform="scale(.1)" fill="none" stroke="#000" stroke-width="5.0" d="M1590 5795l-25 1-25-3-28-10-20-12-17-17-14-20-9-22-4-22 1-16 2-12 8-22 15-23 29-30 4-7 1-6-1-10-10-32-6-22-5-28-2-30-1-32 2-33 4-27 7-30 8-23 7-17 17-28 10-10 12-10 12-6 10-1 13 1 13 4 12 9 12 13 10 15 9 17 8 20 7 23 6 27 4 33 1 30-1 30-3 27-4 28-7 25-11 33-1 10 2 7 5 7 31 35 10 8 10 3 42-5 25 0 23 1 42 6 15-4 27-15 16-5 22-4 20 1 12 3 13 4 10 6 10 7 8 9 6 10 3 10 2 10-3 18-5 10-6 8-8 7-10 7-20 8-14 3-18 1-45-6-13 0-47 11-37 4-26 0-40-5-12 0-12 5-28 24-18 11-22 10-20 5M1588 5792l-28 1-25-4-23-9-20-13-18-17-12-20-8-20-3-23 3-25 9-25 17-23 28-27 4-7 1-6-1-10-11-32-7-25-4-27-3-28 0-30 1-30 5-32 6-26 7-22 8-18 8-14 9-13 11-12 10-7 13-5 10-1 10 1 13 5 12 10 10 10 9 14 10 18 13 37 6 30 4 27 1 33-1 33-3 27-4 25-7 22-12 36-1 10 2 7 5 7 34 38 12 9 10 3 42-5 25-1 23 2 42 6 15-4 27-15 16-6 20-4 20 0 22 6 12 7 10 7 7 7 6 10 4 10 1 10-3 18-5 10-7 8-15 12-20 8-15 3-17 0-43-6-15-1-48 12-37 4-25-1-38-5-12 0-8 2-6 4-26 23-20 14-22 9-20 4M1590 5787l-25 2-23-3-22-8-22-13-17-15-12-18-10-22-3-23 3-25 4-12 6-13 16-21 31-29 4-5 3-8-2-10-12-30-7-24-5-28-3-25-1-30 1-27 4-30 6-28 7-20 7-18 9-14 8-12 10-10 10-7 10-4 10-1 13 2 10 5 10 7 8 10 9 12 8 15 7 17 6 20 6 28 4 30 1 30-1 30-4 28-5 24-8 26-12 27-2 10 2 7 5 8 24 25 22 24 10 8 10 3 10-1 32-5 22-1 23 2 35 7 10 0 15-5 27-16 16-7 17-4 20 0 23 6 18 12 7 7 6 10 3 7 1 10-2 16-9 14-14 13-20 8-16 3-17 0-45-9-12-1-13 2-35 11-28 3-30 0-40-7-12 1-8 2-7 5-26 25-17 12-20 9-22 6M1590 5782l-25 2-23-3-22-8-18-11-16-15-13-17-9-23-2-20 0-13 3-14 6-16 6-10 17-20 32-27 6-7 2-6-1-10-14-30-8-22-5-22-4-26-1-30 0-30 4-27 6-27 11-32 16-25 8-9 9-6 10-5 10-1 13 2 10 6 12 10 10 14 8 16 8 20 6 22 5 25 2 47-1 26-3 22-4 22-7 23-20 43 0 10 7 10 31 30 28 33 10 8 10 3 10 0 30-7 22-1 23 2 33 8 10 1 12-4 30-21 15-8 17-5 18-1 12 2 10 3 18 11 10 13 4 7 1 10-3 16-4 7-6 7-17 12-20 5-15 1-15-2-45-12-12-2-10 1-32 13-26 4-25-1-40-8-13 1-14 9-30 29-16 12-20 10-22 6M1590 5777l-22 2-23-3-23-7-17-11-15-14-12-17-8-20-3-20 1-15 3-15 6-13 8-12 17-19 43-31 4-5 2-5-2-8-14-21-7-14-12-35-4-22-3-22 1-46 3-22 5-23 6-19 8-18 10-15 10-10 10-6 13-2 13 2 10 6 10 10 10 15 8 18 7 20 4 22 4 25 0 45-3 22-5 23-11 33-8 14-14 20-3 6 0 4 7 10 34 29 16 17 31 42 3 8 2 7-1 10-6 10-38 43-13 10-12 7-15 7-15 3M1915 5715l-23-3-23-8-16-10-4-4-3-8 2-8 5-7 19-17 20-10 20-4 20 2 10 4 8 5 11 13 3 7 1 7-1 8-2 8-11 12-16 9-20 4M1578 5552l-10-1-13-7-10-11-10-16-7-20-6-20-3-23-1-22 1-25 3-23 6-21 7-19 7-14 10-11 10-7 13-3 13 3 10 7 10 11 7 14 7 18 5 20 4 22 1 23-1 23-2 22-6 22-6 18-8 15-9 12-10 8-12 5M1575 5775l-20-1-20-5-17-8-16-11-12-13-9-15-7-18-2-17 1-17 6-18 8-15 10-13 18-14 23-14 20-10 14-3 13 2 17 9 23 15 15 13 14 15 14 23 7 14 3 13-2 13-8 14-15 20-15 16-16 11-14 7-18 5-15 2M1925 5702l-10 2-13 0-12-3-11-4-7-5-6-8 0-4 2-8 4-6 8-7 19-9 19-3 10 2 7 3 7 5 6 7 2 8 0 8-3 7-5 6-7 5-10 4M1578 5525l-10-1-8-4-8-8-7-12-6-13-5-17-2-18-2-20 3-35 4-17 6-16 7-13 8-8 7-6 10-2 10 2 7 6 8 8 6 11 6 15 4 15 4 35-3 35-5 20-4 13-8 14-7 8-8 6-7 2M1580 5770l-18 0-20-4-17-6-15-10-14-13-10-15-6-15-3-17 1-18 4-15 7-15 11-14 15-13 17-11 20-8 16-3 14 1 16 4 17 10 17 13 14 13 13 20 7 16 4 14-1 13-5 13-11 17-13 15-12 10-16 9-14 5-18 4M1585 5765l-17 1-18-2-18-6-14-8-13-10-11-13-7-15-5-18 0-17 3-15 7-15 9-13 13-12 16-11 18-8 14-3 16-1 14 3 18 8 15 11 13 11 11 15 10 17 4 16 0 12-4 15-9 15-9 12-13 13-13 8-15 6-15 4M1588 5760l-16 1-17-1-17-4-16-8-12-10-10-11-7-13-5-14-2-16 2-14 5-16 8-12 11-12 13-10 17-10 16-4 14-1 16 2 14 5 16 9 13 11 12 15 9 15 5 15 0 13-2 12-6 12-10 16-11 11-13 9-13 6-14 4M1572 5757l-14-1-16-3-14-7-13-9-9-10-8-13-5-12-2-15 1-15 4-12 7-13 10-13 12-9 15-8 15-5 15-2 12 1 16 4 14 8 13 10 11 11 8 13 6 15 2 12-1 13-5 13-7 12-11 13-13 9-13 7-14 4-16 2M1578 5752l-16 0-14-3-13-5-13-7-10-10-8-13-5-12-3-12 1-16 4-12 6-12 8-10 10-9 13-8 12-5 15-3 15 1 12 3 13 5 13 9 12 11 8 12 6 14 2 12-1 12-3 13-8 13-8 10-11 9-10 5-13 5-14 3M1578 5747l-16 0-12-2-12-5-10-6-10-9-8-10-5-11-3-12 0-12 2-10 5-13 6-10 10-10 12-7 13-6 12-3 13-1 13 3 12 4 12 8 10 9 8 10 7 13 3 13 0 12-2 10-7 12-8 10-11 10-10 6-12 5-12 2M1572 5742l-12-1-12-3-10-4-10-7-8-8-6-9-4-10-2-13 1-13 3-10 5-10 8-9 10-8 10-5 10-4 13-2 12 1 10 3 12 5 10 7 10 10 6 10 4 12 2 10-1 10-3 10-6 10-9 10-10 8-10 5-10 3-13 2M1580 5735l-10 1-12-2-10-3-9-4-9-7-7-8-4-8-4-10-1-10 2-10 3-10 5-7 6-8 9-7 11-5 10-3 12-1 10 1 10 3 9 5 9 7 7 8 6 10 3 10 1 10-2 10-4 10-5 7-8 8-8 6-10 4-10 3M1578 5727l-18 0-8-3-9-4-13-13-6-15-1-8 2-10 7-14 13-12 7-4 10-2 18 0 8 2 10 6 12 12 5 9 2 9-1 14-2 8-5 8-14 11-17 6M1582 5712l-12 2-12-2-10-6-7-9-3-10 2-13 6-10 11-7 13-3 12 2 10 7 8 9 3 12-2 10-6 10-13 8"/>
<rect x="143.75" y="503.7" width="86.60" height="86.30" fill="none" stroke="#6a6a6a" stroke-width="0.9"/>
<path stroke="#6a6a6a" stroke-width="0.8" d="M181.25 503.7V590.0M143.75 559.5H230.35"/>
<g font-family="'Liberation Sans', sans-serif" font-size="8.5" fill="#111" stroke="#fff" stroke-width="1.6" paint-order="stroke" stroke-linejoin="round">
<text x="145.3" y="512.2">27.4%</text>
<text x="228.8" y="512.2" text-anchor="end">0.6%</text>
<text x="228.8" y="588.4" text-anchor="end">5.0%</text>
</g>
<path stroke="#555" stroke-width="0.5" d="M142.25 511.6H143.75M142.25 530.4H143.75M142.25 550.3H143.75M142.25 571.3H143.75M142.25 580.8H143.75M153.9 590.0V591.5M162.8 590.0V591.5M183.3 590.0V591.5M202.7 590.0V591.5M221.4 590.0V591.5M142.95 524.4H143.75M142.95 520.9H143.75M142.95 518.4H143.75M142.95 516.5H143.75M142.95 514.9H143.75M142.95 513.6H143.75M142.95 512.4H143.75M142.95 544.3H143.75M142.95 540.8H143.75M142.95 538.3H143.75M142.95 536.4H143.75M142.95 534.8H143.75M142.95 533.5H143.75M142.95 532.3H143.75M142.95 531.3H143.75M142.95 565.3H143.75M142.95 561.8H143.75M142.95 559.3H143.75M142.95 557.4H143.75M142.95 555.8H143.75M142.95 554.5H143.75M142.95 553.3H143.75M142.95 552.3H143.75M168.7 590.0V590.8M172.1 590.0V590.8M174.5 590.0V590.8M176.3 590.0V590.8M177.9 590.0V590.8M179.2 590.0V590.8M180.3 590.0V590.8M181.3 590.0V590.8M189.2 590.0V590.8M192.6 590.0V590.8M195.0 590.0V590.8M196.8 590.0V590.8M198.4 590.0V590.8M199.7 590.0V590.8M200.8 590.0V590.8M201.8 590.0V590.8M208.5 590.0V590.8M211.9 590.0V590.8M214.3 590.0V590.8M216.1 590.0V590.8M217.7 590.0V590.8M219.0 590.0V590.8M220.1 590.0V590.8M221.1 590.0V590.8"/>
<g font-family="'Liberation Sans', sans-serif" fill="#222">
<text x="141.6" y="513.0" font-size="4.8" text-anchor="end">10<tspan font-size="3.4" dy="-1.8">5</tspan></text>
<text x="141.6" y="531.8" font-size="4.8" text-anchor="end">10<tspan font-size="3.4" dy="-1.8">4</tspan></text>
<text x="141.6" y="551.7" font-size="4.8" text-anchor="end">10<tspan font-size="3.4" dy="-1.8">3</tspan></text>
<text x="141.6" y="572.7" font-size="4.8" text-anchor="end">10<tspan font-size="3.4" dy="-1.8">2</tspan></text>
<text x="141.6" y="582.2" font-size="4.8" text-anchor="end">0</text>
<text x="153.9" y="598.6" font-size="4.8" text-anchor="middle">0</text>
<text x="162.8" y="598.6" font-size="4.8" text-anchor="middle">10<tspan font-size="3.4" dy="-1.8">2</tspan></text>
<text x="183.3" y="598.6" font-size="4.8" text-anchor="middle">10<tspan font-size="3.4" dy="-1.8">3</tspan></text>
<text x="202.7" y="598.6" font-size="4.8" text-anchor="middle">10<tspan font-size="3.4" dy="-1.8">4</tspan></text>
<text x="221.4" y="598.6" font-size="4.8" text-anchor="middle">10<tspan font-size="3.4" dy="-1.8">5</tspan></text>
</g>
<path stroke="#111" stroke-width="1" d="M144.05 603.75H225.85"/>
<path fill="#111" d="M228.85 603.75L223.85 601.85L223.85 605.65z"/>
<text x="182.05" y="619.5" font-family="'Liberation Sans', sans-serif" font-size="11" fill="#000" stroke="#000" stroke-width="0.15" text-anchor="middle">Perforin</text>
<path transform="scale(.1)" stroke="#5a5a5a" stroke-width="6.2" stroke-linecap="square" d="M2723 5046h0m-19 38h0m53-17h0m135 10h0m363-10h0m9-6h0m-585 30h0m146 11h0m406 13h0m-664 16h0m77-14h0m320 1h0m189 20h0m146 5h0m59-28h0m-760 49h0m30 5h0m16-18h0m3 7h0m11-8h0m194 24h0m34-20h0m347 11h0m-650 29h0m23 0h0m5-6h0m55-3h0m2 17h0m3-7h0m4-10h0m17 14h0m3-11h0m3 3h0m15 10h0m2-1h0m62-9h0m19-7h0m17 20h0m3 1h0m21-5h0m23 5h0m6-6h0m77-12h0m36-6h0m100 14h0m84 5h0m29-24h0m-625 56h0m4-26h0m34 20h0m4-9h0m0 3h0m9 3h0m4-8h0m16-7h0m10-1h0m4 1h0m4 13h0m1-6h0m5-7h0m7 9h0m5-6h0m0 18h0m2-10h0m5-10h0m14-4h0m5 8h0m8 4h0m6 11h0m24-8h0m42-8h0m25 21h0m4-16h0m73 3h0m20 14h0m85-15h0m19 15h0m102-25h0m174 6h0m-759 38h0m77-8h0m4 15h0m1 1h0m5-14h0m2-9h0m9-2h0m4 1h0m60 1h0m5 3h0m3 1h0m4 2h0m10 19h0m2-21h0m0-3h0m3 16h0m4 8h0m4 1h0m10-15h0m1-5h0m14 9h0m8-1h0m8-14h0m19 18h0m2-15h0m21 9h0m18-5h0m9 13h0m0 5h0m3 0h0m4-16h0m11 11h0m25-2h0m16-15h0m8 18h0m8-14h0m1 0h0m4 17h0m4-13h0m1 0h0m20 8h0m10 2h0m3-19h0m6 15h0m16 9h0m64-2h0m96-2h0m-575 24h0m11-7h0m4 17h0m2-14h0m1 3h0m6 11h0m0-4h0m1-9h0m1 8h0m4-21h0m11 15h0m114-15h0m14 23h0m9-10h0m32 11h0m7-11h0m36-12h0m49 23h0m17 0h0m2-6h0m2 1h0m6-10h0m33 9h0m5-4h0m8 11h0m2-26h0m15 8h0m1 18h0m9 1h0m4-21h0m19 6h0m13-3h0m20 6h0m16 12h0m292-6h0m-763 29h0m13-15h0m6 11h0m9-10h0m56 1h0m80-6h0m3 0h0m1 3h0m2-4h0m0 17h0m0 8h0m1-14h0m1 2h0m0 10h0m1 2h0m2-26h0m0 3h0m0 23h0m3-5h0m2-9h0m1 6h0m4 2h0m1-16h0m1 20h0m6-21h0m2 2h0m16 5h0m45-10h0m5 26h0m0 0h0m12-7h0m5 4h0m10 3h0m9-27h0m4 11h0m6-3h0m7 14h0m2 6h0m3-16h0m6 14h0m0 2h0m15-10h0m0-13h0m1 6h0m4 16h0m3 0h0m15 0h0m8-25h0m1 0h0m19-1h0m2 1h0m35 7h0m41-9h0m14 13h0m10 4h0m265 12h0m-799 7h0m45 23h0m7-12h0m2 0h0m4 3h0m1 7h0m36-22h0m121 7h0m4 16h0m6-12h0m2-2h0m1-1h0m10 1h0m16-10h0m13 12h0m2-2h0m0 13h0m11-7h0m6-3h0m1-8h0m6 2h0m10 0h0m2 8h0m2-13h0m30 16h0m9-3h0m1-6h0m9 2h0m1 8h0m1-4h0m6-16h0m6 18h0m2-19h0m4 9h0m10 0h0m1 12h0m6-11h0m3 11h0m3-21h0m8 18h0m1-8h0m9-5h0m2 20h0m8-18h0m0 18h0m1-13h0m6-4h0m4-7h0m2 19h0m7 6h0m3-20h0m2 19h0m2-7h0m12-3h0m7-11h0m26-5h0m7 26h0m8-7h0m19-8h0m-490 23h0m2 4h0m1 9h0m8-3h0m0 3h0m164-7h0m2 8h0m2-10h0m3-6h0m2 4h0m1 8h0m1 8h0m2-6h0m3 4h0m1-15h0m5 22h0m1-20h0m1 15h0m23-18h0m3 21h0m2-6h0m1-15h0m6 12h0m5 7h0m3-19h0m1 6h0m16-8h0m1 20h0m3-8h0m4 9h0m3 2h0m0-4h0m3 2h0m2-21h0m4 3h0m5 7h0m2 17h0m2-18h0m4-6h0m5 7h0m0 9h0m2-18h0m2 25h0m4-8h0m9-5h0m8-13h0m2 6h0m10-7h0m4 13h0m7 6h0m4 5h0m10-5h0m0 6h0m12-5h0m1-6h0m5-4h0m11 13h0m1-20h0m1 17h0m3-8h0m5-2h0m6 8h0m10 1h0m0-1h0m6-11h0m2 11h0m9-3h0m8 10h0m2 0h0m98-5h0m-541 15h0m3-7h0m7 0h0m2 0h0m145 6h0m23-2h0m6 25h0m3-19h0m0 16h0m5-25h0m3 24h0m1-13h0m7 17h0m3-27h0m0 3h0m24-5h0m1 11h0m10 14h0m8-24h0m3 7h0m9 14h0m0-3h0m13-15h0m0 19h0m2-4h0m0-7h0m3 16h0m1-9h0m1-5h0m1 14h0m0-6h0m2-7h0m6-3h0m1 9h0m1-16h0m2 3h0m6 12h0m6-8h0m8-6h0m6 0h0m1 0h0m0 15h0m9-4h0m1-2h0m1 6h0m3-15h0m4 7h0m1-1h0m5 12h0m9-7h0m4 3h0m6 1h0m5 2h0m10 1h0m3-5h0m1-4h0m9-6h0m0 0h0m2-5h0m0 4h0m11 19h0m8-12h0m7 7h0m1 0h0m4 5h0m18-16h0m52 12h0m8-13h0m11 15h0m74-20h0m-600 54h0m4-22h0m1 6h0m11 14h0m2-20h0m3 15h0m0-19h0m169 18h0m2-21h0m1 1h0m1 10h0m0 3h0m0 15h0m1-17h0m3 1h0m4 2h0m5-9h0m1-4h0m1 12h0m3-14h0m4 30h0m5-15h0m6-2h0m1 12h0m2 5h0m3-22h0m7 2h0m0-1h0m1-8h0m10 8h0m0-9h0m7 2h0m2 4h0m9-3h0m1 8h0m3 4h0m3-13h0m3 15h0m1 4h0m8-20h0m3 1h0m1 4h0m1 8h0m1 7h0m2 6h0m1-17h0m3 6h0m1-4h0m8 3h0m1 11h0m2-11h0m1 0h0m0-13h0m3 28h0m4-25h0m1 4h0m4 21h0m1-25h0m5 18h0m6 3h0m10-9h0m1-6h0m6 16h0m1-21h0m0 1h0m1 8h0m5-9h0m4 19h0m1-6h0m2 7h0m0-2h0m8-1h0m16-10h0m6 10h0m0-15h0m7-6h0m3 2h0m2 16h0m2-17h0m12 1h0m2 1h0m0 2h0m6 10h0m2-9h0m15 2h0m16 12h0m19-3h0m14-15h0m50 19h0m-533 12h0m3-2h0m126 5h0m50 4h0m1 7h0m0 5h0m2-18h0m1 2h0m0 7h0m0-7h0m1 6h0m1 14h0m0-11h0m2-6h0m7 7h0m1 1h0m4-11h0m1 15h0m4 2h0m7-12h0m3 6h0m10 8h0m1-4h0m3 1h0m6-10h0m4 14h0m3-17h0m1 3h0m4-4h0m1-2h0m0 5h0m0 15h0m1 0h0m4 1h0m1-25h0m7 1h0m0-5h0m1 23h0m0 6h0m8-2h0m6-10h0m1-9h0m2 21h0m1-22h0m2 22h0m1-12h0m3-12h0m1 12h0m1-2h0m1 12h0m4-2h0m1-6h0m1 2h0m7 7h0m0-18h0m3 19h0m3-26h0m0 19h0m8-1h0m2 3h0m1-5h0m2-18h0m1 19h0m3-4h0m2 0h0m2-7h0m2 11h0m5-18h0m0 2h0m1 21h0m10-23h0m6 25h0m2-1h0m3-6h0m1-6h0m0 7h0m3 5h0m2-10h0m3 12h0m4-4h0m5-3h0m0-2h0m1-9h0m0 0h0m2-3h0m13 20h0m8-3h0m2-2h0m2-6h0m0-3h0m20-1h0m11 11h0m18-11h0m8-6h0m4 18h0m8-2h0m7-12h0m68 10h0m20-5h0m-580 36h0m11-9h0m1 15h0m6-7h0m63-14h0m103 19h0m2-7h0m2-8h0m3-8h0m6 24h0m0-6h0m7-19h0m1 9h0m0 5h0m3 13h0m3-14h0m4-3h0m5 7h0m3-7h0m8 3h0m4 2h0m2 12h0m0-26h0m1 13h0m1 8h0m5 0h0m4-9h0m3 11h0m9-4h0m6-5h0m0-3h0m0-2h0m1 5h0m7-8h0m5-4h0m0 0h0m8 7h0m1 9h0m2-12h0m3 1h0m0-2h0m10 22h0m2-17h0m9 11h0m3-23h0m2 8h0m3 21h0m3-21h0m1 4h0m0 5h0m2-16h0m3 19h0m0 5h0m0-23h0m0 6h0m3 9h0m3-8h0m0-3h0m1-5h0m8 10h0m3 4h0m1 11h0m5-1h0m0-15h0m1 5h0m1-4h0m2 15h0m1-4h0m0 3h0m1-11h0m3 4h0m1-16h0m8 21h0m3-8h0m1-13h0m6 6h0m1 6h0m2 13h0m0-15h0m1 7h0m3-2h0m1-2h0m1-13h0m2 8h0m1 8h0m3-9h0m3 17h0m2-23h0m4 20h0m12 0h0m3-4h0m16 3h0m3-14h0m5-5h0m27 14h0m28 5h0m17-14h0m16 7h0m20-7h0m-541 51h0m7-27h0m8 21h0m32-4h0m121-9h0m0 4h0m1 12h0m0-13h0m5 1h0m2 12h0m2-17h0m7 13h0m1-1h0m1-10h0m9 16h0m0-22h0m1 3h0m3 10h0m7-3h0m5-10h0m0-3h0m2 25h0m7-2h0m4-19h0m1 20h0m1-2h0m2-15h0m1 15h0m10-9h0m1 11h0m3-11h0m3-9h0m0 9h0m1 8h0m1 1h0m1 6h0m2-24h0m1-5h0m8 6h0m2 0h0m3 17h0m0-1h0m1-6h0m1 9h0m1-23h0m1 23h0m1-16h0m2-6h0m4 26h0m1-25h0m0-1h0m1 10h0m2 4h0m7-13h0m3 8h0m4 14h0m0 1h0m1-6h0m5-9h0m2-12h0m2 25h0m2-14h0m8 1h0m1 9h0m8-2h0m1 2h0m1-15h0m0-6h0m4 1h0m1 15h0m0-12h0m4 2h0m2 17h0m0 0h0m0-1h0m2-17h0m4-2h0m2 6h0m5 0h0m12-8h0m3 17h0m3-8h0m9 9h0m6-13h0m12 18h0m4-14h0m1 0h0m9 10h0m0-1h0m3-13h0m9 12h0m18 0h0m1 4h0m15 2h0m7-16h0m1 10h0m57 2h0m106 1h0m-661 10h0m24 9h0m9 4h0m17-8h0m3 10h0m1-11h0m5 22h0m134-2h0m5-15h0m0 0h0m1 9h0m1-10h0m1 13h0m1-6h0m0-3h0m2 8h0m0-14h0m4 21h0m1 1h0m1-22h0m4 18h0m9-23h0m3 17h0m6-19h0m2 21h0m3-13h0m4-4h0m3 9h0m0 8h0m0 7h0m5-26h0m4-1h0m2 27h0m3-9h0m0-14h0m0 15h0m4 7h0m2-1h0m0-8h0m3 2h0m1 2h0m1-16h0m8 5h0m5 8h0m0-1h0m1 2h0m1-19h0m1 2h0m1 17h0m1-20h0m0 19h0m2-8h0m1 15h0m0-27h0m2 29h0m0-4h0m0-6h0m7 8h0m2-19h0m5 19h0m0-9h0m4 9h0m5-18h0m9 0h0m3 18h0m2-5h0m1-18h0m2 17h0m2-14h0m3 15h0m1-21h0m2 13h0m2-1h0m2 3h0m3 6h0m1 7h0m1-20h0m1 0h0m1 1h0m5-4h0m2 2h0m2-3h0m1 12h0m4 0h0m1-1h0m0 2h0m1-17h0m2 22h0m2 4h0m5-10h0m2 7h0m6-4h0m1 9h0m0-23h0m8 19h0m8-4h0m3 0h0m5-20h0m1 17h0m0 12h0m5-7h0m3-16h0m8 8h0m1 8h0m2 4h0m9-3h0m2-3h0m6-9h0m4 11h0m9-19h0m1 14h0m0-5h0m37 0h0m-513 42h0m9 0h0m7-10h0m4 10h0m6-1h0m4 4h0m1-2h0m3-25h0m5 6h0m7-5h0m4 26h0m2-10h0m3 5h0m2-1h0m1-13h0m1 16h0m1-10h0m0-9h0m0 7h0m1 9h0m1-6h0m4-5h0m1 1h0m0 8h0m1-14h0m0 12h0m0-6h0m1 2h0m137 4h0m0-15h0m0 5h0m4-4h0m1 17h0m0 1h0m0-1h0m0 3h0m1-16h0m1 16h0m0-21h0m0 1h0m2 22h0m1-11h0m1-11h0m1 3h0m0 2h0m1 9h0m1-9h0m0 19h0m3-10h0m1-1h0m0-13h0m1 21h0m1-24h0m1 27h0m0-26h0m1 6h0m0 2h0m1 18h0m0-14h0m2 3h0m0-8h0m1 21h0m0-24h0m1 21h0m0-9h0m1 3h0m1 4h0m0-13h0m1 17h0m2-2h0m0-18h0m0 19h0m1-27h0m1 20h0m0-20h0m1 24h0m3-3h0m0 3h0m4-23h0m0 11h0m1 10h0m2 5h0m1-23h0m1 11h0m2 0h0m0-15h0m1 23h0m0 4h0m1-11h0m1 12h0m0-4h0m0 2h0m2-4h0m1-15h0m1-2h0m1 4h0m3-9h0m0 17h0m1-7h0m0 4h0m0-1h0m1-13h0m4 23h0m3-12h0m1 10h0m2-17h0m1 5h0m1 9h0m1 8h0m1-5h0m1 3h0m1-5h0m3-11h0m0-4h0m1-5h0m2 22h0m2-11h0m2-3h0m2-1h0m2-7h0m2 24h0m1 1h0m0-5h0m1-13h0m2 5h0m1 0h0m2 12h0m2-8h0m1-10h0m0-2h0m0 3h0m4 1h0m1 14h0m1-6h0m0-9h0m1 7h0m1-1h0m2-6h0m4 10h0m1 4h0m0-8h0m2-11h0m1 23h0m0-1h0m0-23h0m1 24h0m0-18h0m0 14h0m2 2h0m1-13h0m1 9h0m2 0h0m0-12h0m1 10h0m0 2h0m2-6h0m0-9h0m1 22h0m2-14h0m3 13h0m1-21h0m3 20h0m3-19h0m1 5h0m2 11h0m1-5h0m0 11h0m1 0h0m1-5h0m1 5h0m0-1h0m2-10h0m1-12h0m2 12h0m0 9h0m0-19h0m1 21h0m0-15h0m0-6h0m3 12h0m0 2h0m1 3h0m0 1h0m2-3h0m1 2h0m1 1h0m1-9h0m4 14h0m0-2h0m1 1h0m1-16h0m6 0h0m1-6h0m1 5h0m2 8h0m3 5h0m1-11h0m2 7h0m2-3h0m1 4h0m1-8h0m3-3h0m2 19h0m3-28h0m1 20h0m0-7h0m2-1h0m1 11h0m4-23h0m1 8h0m3-6h0m4 25h0m1-13h0m0 1h0m3-7h0m0-6h0m5 8h0m0-4h0m1 16h0m1-15h0m0 4h0m2 1h0m1 16h0m7-26h0m3 23h0m3-16h0m6 14h0m1-8h0m7 11h0m9-11h0m4-12h0m6 18h0m8-3h0m47 6h0m30-7h0m-553 33h0m1-6h0m0 6h0m8 3h0m1-3h0m2-8h0m1 1h0m2-5h0m3 14h0m2-2h0m0 3h0m1-16h0m1 13h0m2-3h0m0-7h0m0-2h0m2-6h0m1-1h0m3 6h0m4-1h0m121 16h0m56-21h0m2 1h0m13 0h0m11-2h0m135 2h0m13-2h0m0 0h0m9 2h0m3 2h0m2-2h0m0 4h0m4-5h0m1 10h0m5-3h0m0-6h0m0 0h0m2 4h0m3 5h0m4-10h0m3 2h0m1 5h0m2 3h0m3-7h0m1 7h0m1-4h0m3 13h0m2-12h0m2 3h0m1 7h0m1 3h0m0-7h0m2-15h0m0 25h0m1 0h0m0-23h0m2 19h0m0-21h0m2 18h0m1 4h0m7-13h0m1 10h0m0-5h0m1 3h0m2 0h0m1 5h0m3 0h0m9-21h0m5 25h0m7-16h0m2 9h0m13 7h0m1-26h0m3 14h0m2-8h0m2-1h0m2 18h0m16 5h0m3-12h0m2 10h0m1-16h0m18 11h0m12-14h0m61 7h0m-632 35h0m2-1h0m4 9h0m3-19h0m6-8h0m4 5h0m0 6h0m0-2h0m0 9h0m5-12h0m1-2h0m2-1h0m341 26h0m96-27h0m8 9h0m2-2h0m5-7h0m1 12h0m2-9h0m2 3h0m2 15h0m19-8h0m7 2h0m3 8h0m0-11h0m1 14h0m5-8h0m5 9h0m34-25h0m-564 29h0m2 21h0m1-18h0m0 13h0m1-6h0m4 14h0m3-13h0m1-14h0m1 21h0m0-17h0m2 7h0m0-1h0m104 14h0m382-14h0m4 16h0m2-8h0m4 7h0m0-6h0m5-16h0m0 23h0m2-10h0m6 0h0m9-6h0m0-6h0m2 21h0m2-3h0m13 6h0m1-14h0m8-5h0m5 21h0m42-3h0m201-25h0m-803 34h0m1 4h0m4-5h0m2 7h0m53-10h0m276 22h0m163 3h0m2-15h0m2 4h0m1-9h0m1 5h0m3 17h0m0-8h0m3-10h0m0-5h0m12 16h0m10-19h0m11 6h0m10 1h0m-553 36h0m0-2h0m2 11h0m1 0h0m1-19h0m3-4h0m4 4h0m0 7h0m4 16h0m1-6h0m98 1h0m135-18h0m216 18h0m11 4h0m0-5h0m2 1h0m0-3h0m2-2h0m3-8h0m6 10h0m1-15h0m4 15h0m0-12h0m6 5h0m7 2h0m6 0h0m0-15h0m17 3h0m2 2h0m2 10h0m25 0h0m-563 31h0m6-10h0m1-2h0m2 19h0m3-21h0m1 0h0m1 3h0m2 18h0m2 6h0m3-2h0m2-13h0m0-11h0m2 13h0m2 9h0m10 2h0m52-28h0m18 21h0m132 8h0m11-7h0m3 8h0m139 0h0m1-2h0m16-3h0m2-1h0m4 1h0m3 0h0m2 1h0m1-3h0m9 0h0m3-7h0m0 12h0m1 2h0m1-6h0m5-11h0m3 12h0m11 4h0m0-26h0m3 3h0m2 2h0m4 0h0m2 8h0m2-14h0m2 6h0m1-5h0m11 9h0m0 1h0m2-12h0m4 15h0m6-12h0m6 11h0m5-5h0m-495 29h0m1 14h0m0 3h0m1-5h0m9-16h0m4-1h0m2 2h0m3 0h0m3-3h0m3 22h0m1-7h0m0-15h0m0 22h0m1 5h0m2-24h0m1 8h0m2-4h0m0 5h0m9 12h0m3-8h0m4 9h0m1 2h0m2-8h0m1 1h0m144 3h0m5-1h0m0 0h0m1-5h0m1-4h0m3 11h0m0-10h0m1 0h0m1 9h0m2-5h0m0-9h0m3-6h0m0 14h0m4-13h0m0 14h0m0-15h0m1 1h0m2 13h0m6-4h0m3-15h0m2 18h0m1 6h0m0-24h0m3 1h0m2 15h0m1-3h0m0 8h0m1-20h0m0 1h0m0 2h0m8-3h0m5 12h0m5 10h0m1-9h0m1-7h0m0 11h0m1-3h0m2-6h0m1-5h0m0-4h0m1 1h0m16 4h0m6 1h0m0 11h0m7 5h0m6-12h0m8 1h0m2 15h0m9-22h0m1 8h0m1-5h0m5 1h0m3 9h0m3-12h0m5 14h0m6-6h0m1-11h0m4 1h0m1 20h0m6-22h0m4 6h0m0 4h0m3 2h0m1-12h0m3 1h0m3 7h0m1-9h0m4 15h0m3-6h0m6-9h0m3 8h0m1-2h0m3 10h0m8-7h0m1 15h0m0-10h0m2-14h0m2 11h0m9-10h0m4 1h0m5-3h0m4 13h0m43-4h0m134 2h0m39-7h0m178 21h0m-784 14h0m12 5h0m12-5h0m3 17h0m2-21h0m6 22h0m1-24h0m5 11h0m3 13h0m3-1h0m7-7h0m0-6h0m5 1h0m7 13h0m1-6h0m2 8h0m2-7h0m2 0h0m5-3h0m1 5h0m3 2h0m7-6h0m1 1h0m2 0h0m1 1h0m0-5h0m11 6h0m1-20h0m4 14h0m1-3h0m1 8h0m0 1h0m10 0h0m1 5h0m0-8h0m1-8h0m1 9h0m2 4h0m7-3h0m3-11h0m0-5h0m1 17h0m1-15h0m1-1h0m1 8h0m7-11h0m9 19h0m4-15h0m0 15h0m0-20h0m1 5h0m1 10h0m14-17h0m1 5h0m10 7h0m55 12h0m0-14h0m29-10h0m8 2h0m1-1h0m13 7h0m1 16h0m4-25h0m8 16h0m5-8h0m6 7h0m1 4h0m16-7h0m69 7h0m349-16h0m-795 36h0m23 1h0m26-3h0m25 0h0m15-5h0m14-1h0m7 0h0m4 18h0m11-4h0m2 10h0m0-20h0m7 16h0m2-5h0m24-15h0m27 19h0m14 5h0m32-22h0m3 0h0m47 20h0m105-15h0m116 7h0m276-8h0m-621 36h0m5-3h0m259 0h0"/>
<path transform="scale(.1)" fill="none" stroke="#000" stroke-width="5.0" d="M2665 5820l-25 1-25-4-23-9-22-15-19-21-13-22-9-28-2-25 2-30 5-15 7-18 15-22 26-28 6-12 0-14-9-36-5-30-4-55 1-33 2-30 5-32 6-25 14-40 8-15 9-14 10-11 10-7 10-5 10-1 13 2 12 7 10 9 11 15 10 17 8 20 7 23 6 25 7 52 0 56-5 57-15 65 0 10 4 8 9 7 13 2 63-8 47 1 37 4 38 10 35 14 15 9 13 11 9 10 8 12 4 10 2 12-2 13-3 10-6 10-9 10-11 10-13 9-30 14-37 11-47 7-40 1-53-5-15 1-12 5-26 19-14 9-18 8-15 4M2660 5817l-22 1-26-5-22-10-20-14-17-19-12-20-8-26-3-27 0-17 3-16 10-27 15-23 28-30 6-12-1-12-13-60-3-30-2-28 0-32 3-33 4-30 6-25 13-38 7-14 10-16 9-9 10-8 10-5 10-1 13 2 12 7 10 10 11 14 10 20 8 20 7 26 5 22 5 50 1 50-6 55-5 23-11 42 0 11 5 9 10 7 10 3 12-1 48-6 42-1 46 4 40 10 20 8 14 7 13 8 13 10 10 11 6 10 4 10 2 12-1 13-4 10-6 10-9 10-22 17-30 14-23 8-20 4-40 6-37 0-56-5-14 1-13 6-25 19-15 9-17 7-18 4M2658 5812l-23 0-23-4-22-11-19-15-15-18-12-22-7-25-2-23 1-14 2-16 5-14 6-13 15-23 28-28 5-6 2-8-1-12-10-36-5-24-5-53 0-33 2-32 4-28 7-27 12-35 8-15 8-13 9-9 10-7 10-4 7-1 13 2 10 6 10 9 10 14 8 16 8 20 7 24 5 26 6 47-1 47-2 30-5 28-16 62 0 10 6 10 11 9 15 4 12 0 48-7 38-1 42 3 38 9 20 7 14 7 16 9 10 8 9 10 7 10 4 10 2 12-1 10-3 10-6 10-8 10-22 17-30 14-38 10-42 6-35 0-53-5-14 0-14 6-26 20-16 9-17 7-17 4M2648 5807l-20-1-23-7-17-10-17-15-12-14-10-20-7-23-2-23 3-27 5-15 6-12 15-23 31-30 7-13-1-12-11-35-6-27-5-48-1-30 2-28 3-30 6-27 12-35 14-24 8-9 10-8 7-4 10-1 13 2 10 7 10 10 8 12 9 17 7 20 6 23 5 25 4 45-1 45-4 30-5 25-17 55 0 12 5 10 7 8 8 6 10 4 8 1 14 0 48-8 35-1 43 4 37 8 31 14 13 7 11 9 8 8 7 10 3 10 2 10-1 10-4 10-6 10-7 8-22 16-28 13-37 10-40 5-33-1-50-5-14 0-16 6-27 21-17 11-18 6-22 3M2662 5800l-22 1-20-3-20-8-19-13-14-15-12-20-7-22-3-23 1-15 3-15 5-15 6-12 15-21 32-29 8-13 0-13-16-47-8-43-2-47 3-45 4-25 5-20 7-20 8-17 9-13 10-10 10-6 10-2 10 2 10 6 10 10 9 13 8 17 7 20 5 20 4 25 3 42-2 46-3 24-6 26-19 52 0 12 6 10 9 10 10 8 12 5 10 2 14 0 48-8 32-1 40 3 38 8 28 12 22 15 13 16 4 10 2 10-1 8-3 10-6 10-7 8-20 14-24 12-36 10-37 4-37 0-48-7-15 1-15 7-38 28-14 7-16 4M2660 5795l-20 1-20-3-18-7-17-13-15-16-10-17-7-20-3-23 1-15 3-15 5-15 7-12 16-21 38-32 5-7 2-6-2-12-18-42-8-33-4-45 1-45 3-23 5-22 6-20 8-17 7-13 10-11 10-6 10-2 10 2 10 6 10 11 7 13 8 17 6 18 5 22 3 22 1 43-3 40-4 25-7 22-21 48 0 10 6 10 11 12 13 10 12 7 13 4 15 0 48-8 34-2 38 3 35 8 27 12 20 14 11 15 3 7 2 10-1 10-3 8-11 15-18 13-25 12-32 9-38 4-35-1-45-7-15 1-15 7-30 23-12 8-13 5-15 4M2660 5790l-20 1-18-3-17-7-17-12-14-15-10-17-7-20-2-20 1-17 4-16 6-14 9-16 17-18 44-32 11-10 0-4-17-22-8-12-11-29-5-20-3-23-2-44 2-23 3-23 5-20 7-20 8-14 9-12 10-7 10-3 10 3 10 7 10 12 7 15 7 19 5 20 3 23 2 25-2 45-8 40-7 18-7 15-7 11-19 21 0 2 3 6 21 20 19 15 18 11 15 5 17 1 46-9 34-2 38 3 32 8 22 10 17 12 12 16 4 14-4 16-11 14-16 13-24 11-30 7-34 4-33-1-45-7-15 1-7 3-10 5-28 22-12 8-13 6-15 4M2658 5545l-10-2-8-4-10-12-8-14-5-16-5-20-3-23-1-22 1-22 2-23 5-20 6-17 7-16 9-10 7-6 10-2 10 2 7 6 8 9 8 14 5 15 5 20 3 22 1 23-3 43-4 20-5 16-8 17-7 10-7 7-10 5M2658 5785l-18 1-18-3-14-6-15-10-12-13-10-14-7-16-3-17-1-15 2-18 6-17 8-15 10-12 14-13 18-12 17-9 15-3 12 2 10 6 43 28 13 6 12 3 15 0 40-8 27-3 30 1 30 6 23 7 17 10 13 11 8 12 1 8 0 8-2 7-4 8-7 7-9 8-22 11-30 8-35 4-33-2-40-7-14 1-10 3-10 6-30 23-13 8-13 6-14 4M2660 5520l-8 1-7-3-7-7-6-9-5-12-5-16-3-17-1-20 2-37 2-16 6-16 5-11 7-11 8-5 7-2 7 2 6 3 6 8 6 10 9 28 3 34-1 36-7 27-4 11-7 12-5 6-8 4M2658 5780l-16 1-14-2-16-6-14-9-13-12-9-12-6-16-4-14-1-18 1-15 5-15 7-15 10-13 12-11 15-10 15-7 18-4 14 2 16 7 42 27 12 5 13 3 13 0 37-9 23-2 27 0 27 4 20 6 18 9 12 10 6 10 2 8 0 8-5 12-13 12-20 11-27 8-33 3-30-2-40-8-12 1-10 3-10 6-45 34-13 6-14 4M2658 5466l-6 0-2-2-5-7-3-10-2-15 1-15 4-14 5-7 5-2 5 2 5 7 3 9 2 15-2 23-6 11-4 5M2655 5775l-15 0-15-3-13-4-12-8-10-10-9-13-6-13-4-14-1-16 1-14 4-16 6-12 9-12 10-10 12-9 16-8 10-3 10-1 17 3 15 7 48 29 12 6 10 3 12-1 33-9 20-3 25 0 24 3 17 5 14 8 9 7 7 10 1 7 0 6-5 10-10 10-17 8-25 7-27 2-26-3-37-8-13 0-10 4-10 7-47 37-15 7-15 4M2650 5770l-15-1-13-3-12-6-12-10-9-10-7-13-5-15-2-15 1-15 4-15 6-13 9-12 11-10 14-9 15-6 13-1 10 1 10 3 22 11 52 36 18 15 2 5-5 7-15 16-50 42-21 12-21 6M2842 5710l-24 0-20-5-19-11-6-4-1-6 6-7 11-7 11-6 15-3 15-2 15 2 15 3 10 6 6 4 4 8 0 5-2 6-7 7-8 4-21 6M2658 5762l-13 2-14-2-13-5-10-6-10-10-9-11-5-13-3-15 0-15 3-13 5-12 6-10 10-11 12-9 13-6 12-3 13 0 13 3 14 8 18 10 17 13 11 10 7 10 2 10-1 10-5 10-20 23-29 22-12 7-12 3M2660 5755l-12 2-13-1-12-4-9-5-9-7-8-10-6-13-3-13-1-12 2-12 4-13 6-10 9-10 10-8 10-5 12-4 10 0 12 2 13 5 15 8 14 9 11 10 7 10 4 10 0 8-2 10-6 10-8 10-14 12-13 10-11 6-12 5M2658 5747l-10 2-10-1-10-3-11-5-8-8-7-9-4-11-3-10 0-10 1-10 4-10 5-10 7-8 10-8 10-5 10-2 10-1 13 3 13 5 12 7 12 9 7 8 5 7 3 10-1 7-2 8-4 8-8 10-10 9-12 9-12 6-10 3M2652 5737l-10 0-7-1-7-4-8-5-10-13-4-17 2-17 10-16 7-7 7-4 10-3 8-1 19 3 19 10 13 12 4 8 1 8 0 7-3 7-5 8-8 8-19 12-19 5M2670 5715l-10 1-11-2-8-4-5-8-2-10 0-8 4-7 8-7 12-4 12 2 12 6 8 8 2 8-2 10-8 8-12 7"/>
<rect x="250.5" y="503.7" width="86.60" height="86.30" fill="none" stroke="#6a6a6a" stroke-width="0.9"/>
<path stroke="#6a6a6a" stroke-width="0.8" d="M277.5 503.7V590.0M250.5 557.0H337.1"/>
<g font-family="'Liberation Sans', sans-serif" font-size="8.5" fill="#111" stroke="#fff" stroke-width="1.6" paint-order="stroke" stroke-linejoin="round">
<text x="252.1" y="512.2">25.1%</text>
<text x="335.5" y="512.2" text-anchor="end">1.0%</text>
<text x="335.5" y="588.4" text-anchor="end">10.4%</text>
</g>
<path stroke="#555" stroke-width="0.5" d="M249.0 511.6H250.5M249.0 530.4H250.5M249.0 550.3H250.5M249.0 571.3H250.5M249.0 580.8H250.5M260.7 590.0V591.5M269.6 590.0V591.5M290.1 590.0V591.5M309.4 590.0V591.5M328.2 590.0V591.5M249.7 524.4H250.5M249.7 520.9H250.5M249.7 518.4H250.5M249.7 516.5H250.5M249.7 514.9H250.5M249.7 513.6H250.5M249.7 512.4H250.5M249.7 544.3H250.5M249.7 540.8H250.5M249.7 538.3H250.5M249.7 536.4H250.5M249.7 534.8H250.5M249.7 533.5H250.5M249.7 532.3H250.5M249.7 531.3H250.5M249.7 565.3H250.5M249.7 561.8H250.5M249.7 559.3H250.5M249.7 557.4H250.5M249.7 555.8H250.5M249.7 554.5H250.5M249.7 553.3H250.5M249.7 552.3H250.5M275.4 590.0V590.8M278.8 590.0V590.8M281.2 590.0V590.8M283.1 590.0V590.8M284.6 590.0V590.8M285.9 590.0V590.8M287.0 590.0V590.8M288.0 590.0V590.8M295.9 590.0V590.8M299.3 590.0V590.8M301.7 590.0V590.8M303.6 590.0V590.8M305.1 590.0V590.8M306.4 590.0V590.8M307.5 590.0V590.8M308.5 590.0V590.8M315.2 590.0V590.8M318.6 590.0V590.8M321.0 590.0V590.8M322.9 590.0V590.8M324.4 590.0V590.8M325.7 590.0V590.8M326.8 590.0V590.8M327.8 590.0V590.8"/>
<g font-family="'Liberation Sans', sans-serif" fill="#222">
<text x="248.3" y="513.0" font-size="4.8" text-anchor="end">10<tspan font-size="3.4" dy="-1.8">5</tspan></text>
<text x="248.3" y="531.8" font-size="4.8" text-anchor="end">10<tspan font-size="3.4" dy="-1.8">4</tspan></text>
<text x="248.3" y="551.7" font-size="4.8" text-anchor="end">10<tspan font-size="3.4" dy="-1.8">3</tspan></text>
<text x="248.3" y="572.7" font-size="4.8" text-anchor="end">10<tspan font-size="3.4" dy="-1.8">2</tspan></text>
<text x="248.3" y="582.2" font-size="4.8" text-anchor="end">0</text>
<text x="260.7" y="598.6" font-size="4.8" text-anchor="middle">0</text>
<text x="269.6" y="598.6" font-size="4.8" text-anchor="middle">10<tspan font-size="3.4" dy="-1.8">2</tspan></text>
<text x="290.1" y="598.6" font-size="4.8" text-anchor="middle">10<tspan font-size="3.4" dy="-1.8">3</tspan></text>
<text x="309.4" y="598.6" font-size="4.8" text-anchor="middle">10<tspan font-size="3.4" dy="-1.8">4</tspan></text>
<text x="328.2" y="598.6" font-size="4.8" text-anchor="middle">10<tspan font-size="3.4" dy="-1.8">5</tspan></text>
</g>
<path stroke="#111" stroke-width="1" d="M250.8 603.75H332.6"/>
<path fill="#111" d="M335.6 603.75L330.6 601.85L330.6 605.65z"/>
<text x="288.8" y="619.5" font-family="'Liberation Sans', sans-serif" font-size="11" fill="#000" stroke="#000" stroke-width="0.15" text-anchor="middle">CD107a</text>
<path stroke="#111" stroke-width="1" d="M414.5 19V591"/>
<path fill="#111" d="M414.5 15L412.6 20.5L416.4 20.5z"/>
<text transform="translate(409.6,306) rotate(-90)" font-family="'Liberation Sans', sans-serif" font-size="11.2" fill="#000" stroke="#000" stroke-width="0.15" text-anchor="middle">CD40L</text>
<path stroke="#111" stroke-width="1" d="M22.6 508V590"/>
<path fill="#111" d="M22.6 504L20.7 509.5L24.5 509.5z"/>
<text transform="translate(17.8,544) rotate(-90)" font-family="'Liberation Sans', sans-serif" font-size="11.2" fill="#000" stroke="#000" stroke-width="0.15" text-anchor="middle">CD40L</text>
</svg></body></html>
